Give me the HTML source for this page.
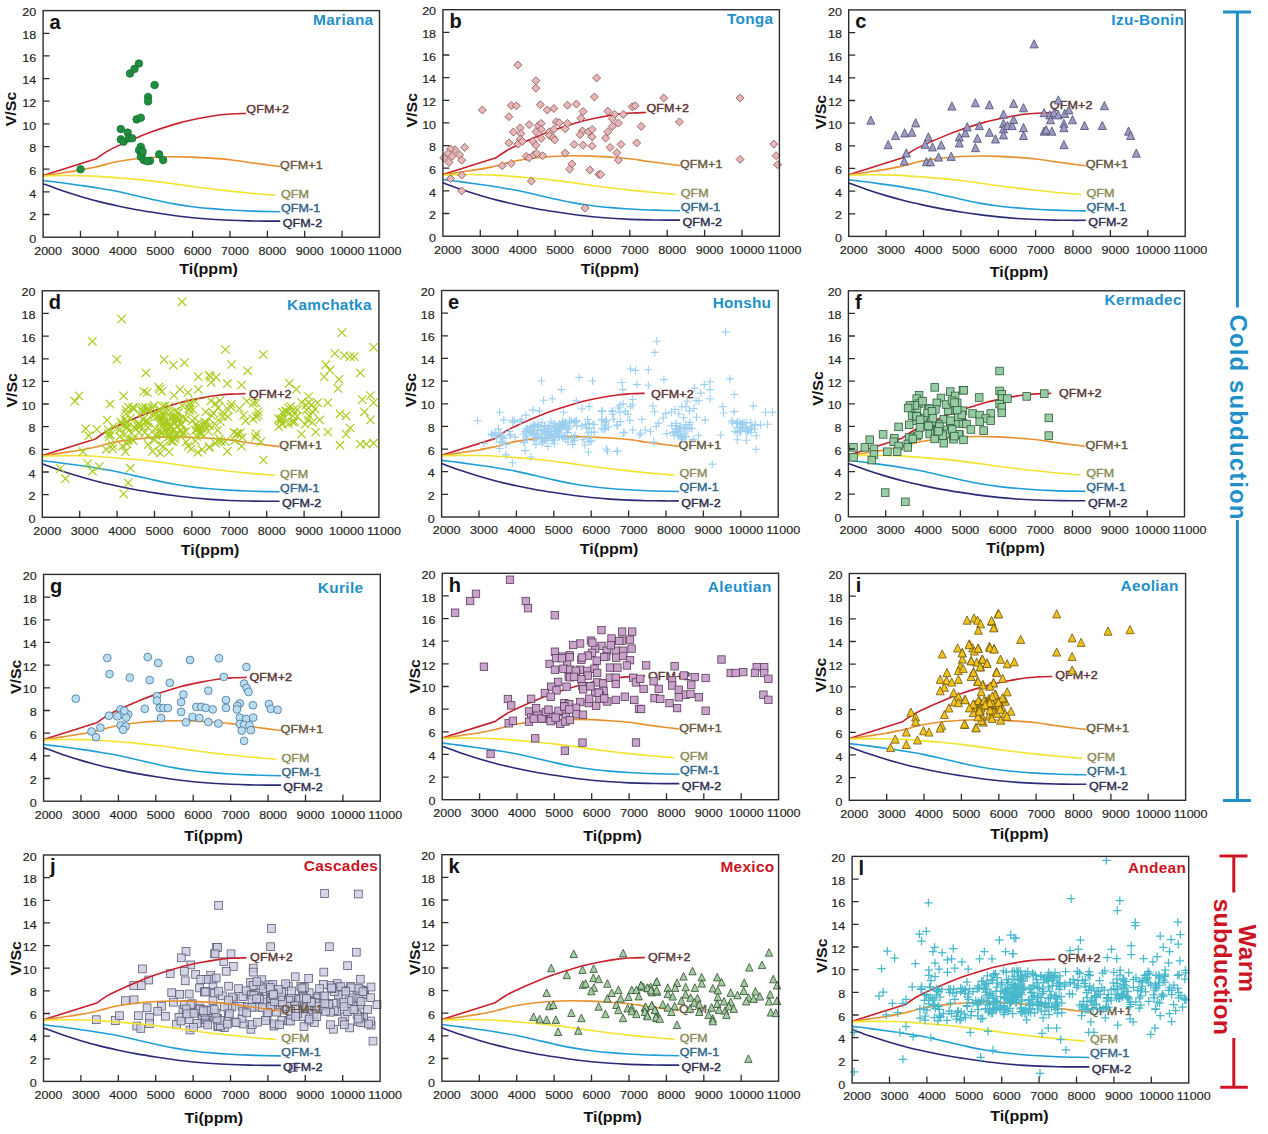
<!DOCTYPE html><html><head><meta charset="utf-8"><style>html,body{margin:0;padding:0;background:#fff;}svg{display:block}</style></head><body>
<svg width="1268" height="1134" viewBox="0 0 1268 1134" font-family='"Liberation Sans", sans-serif'>
<rect width="1268" height="1134" fill="#fff"/>
<path d="M43.10,175.45L96.25,158.80C97.98,157.61 103.04,153.81 106.64,151.66C110.24,149.51 112.25,148.47 117.86,145.88C123.46,143.29 134.05,138.70 140.28,136.14C146.51,133.57 148.69,132.68 155.23,130.47C161.77,128.26 172.05,124.92 179.53,122.88C187.00,120.84 193.55,119.54 200.09,118.23C206.63,116.93 213.48,115.78 218.78,115.06C224.07,114.35 227.31,114.19 231.86,113.93C236.41,113.67 243.69,113.55 246.06,113.48" fill="none" stroke="#c8202c" stroke-width="1.6" stroke-linejoin="round"/>
<path d="M43.10,175.79C46.21,175.32 55.56,173.90 61.79,172.96C68.02,172.01 74.73,171.13 80.48,170.13C86.22,169.13 93.62,167.48 96.25,166.95C97.98,166.48 103.04,165.03 106.64,164.12C110.24,163.22 112.87,162.40 117.86,161.52C122.84,160.63 130.31,159.51 136.54,158.80C142.77,158.08 149.00,157.55 155.23,157.21C161.46,156.87 167.69,156.78 173.92,156.76C180.15,156.74 186.38,156.87 192.61,157.10C198.84,157.32 205.07,157.68 211.30,158.12C217.53,158.55 223.76,158.99 229.99,159.70C236.22,160.42 242.45,161.55 248.68,162.42C254.91,163.29 262.13,164.23 267.37,164.91C272.60,165.59 277.96,166.24 280.08,166.50" fill="none" stroke="#e8902c" stroke-width="1.6" stroke-linejoin="round"/>
<path d="M43.10,176.02C46.21,175.94 55.56,175.62 61.79,175.56C68.02,175.51 74.25,175.55 80.48,175.68C86.71,175.81 92.94,176.00 99.17,176.36C105.40,176.72 111.63,177.32 117.86,177.83C124.09,178.34 130.31,178.83 136.54,179.42C142.77,180.00 149.00,180.61 155.23,181.34C161.46,182.08 167.69,182.97 173.92,183.84C180.15,184.70 186.38,185.71 192.61,186.55C198.84,187.40 205.07,188.18 211.30,188.93C217.53,189.69 223.76,190.41 229.99,191.09C236.22,191.77 242.45,192.43 248.68,193.01C254.91,193.60 262.88,194.22 267.37,194.60C271.85,194.98 274.22,195.17 275.59,195.28" fill="none" stroke="#f2e430" stroke-width="1.6" stroke-linejoin="round"/>
<path d="M43.10,180.55C46.21,180.93 55.56,182.00 61.79,182.82C68.02,183.63 74.25,184.52 80.48,185.42C86.71,186.33 92.94,187.23 99.17,188.25C105.40,189.27 111.63,190.29 117.86,191.54C124.09,192.79 130.31,194.32 136.54,195.73C142.77,197.15 149.00,198.68 155.23,200.04C161.46,201.40 167.69,202.78 173.92,203.89C180.15,205.00 186.38,205.93 192.61,206.72C198.84,207.52 205.07,208.10 211.30,208.65C217.53,209.20 223.76,209.63 229.99,210.01C236.22,210.39 242.45,210.67 248.68,210.91C254.91,211.16 262.10,211.35 267.37,211.48C272.63,211.61 278.11,211.67 280.26,211.71" fill="none" stroke="#1e9ed8" stroke-width="1.6" stroke-linejoin="round"/>
<path d="M43.10,183.72C46.21,184.86 55.56,188.41 61.79,190.52C68.02,192.64 74.25,194.56 80.48,196.41C86.71,198.26 92.94,200.04 99.17,201.62C105.40,203.21 111.63,204.59 117.86,205.93C124.09,207.27 130.31,208.54 136.54,209.67C142.77,210.80 149.00,211.76 155.23,212.73C161.46,213.69 167.69,214.62 173.92,215.45C180.15,216.28 186.38,217.07 192.61,217.71C198.84,218.35 205.07,218.86 211.30,219.30C217.53,219.73 223.76,220.05 229.99,220.32C236.22,220.58 242.45,220.75 248.68,220.88C254.91,221.02 262.10,221.07 267.37,221.11C272.63,221.15 278.11,221.11 280.26,221.11" fill="none" stroke="#2a2a78" stroke-width="1.6" stroke-linejoin="round"/>
<text transform="translate(246.3,113.0) scale(1.1,1)" font-size="11.4" letter-spacing="0.1" fill="#5a3434" stroke="#5a3434" stroke-width="0.4">QFM+2</text>
<text transform="translate(280.1,169.0) scale(1.1,1)" font-size="11.4" letter-spacing="0.1" fill="#66563c" stroke="#66563c" stroke-width="0.4">QFM+1</text>
<text transform="translate(280.9,197.6) scale(1.1,1)" font-size="11.4" letter-spacing="0.1" fill="#8c8a56" stroke="#8c8a56" stroke-width="0.4">QFM</text>
<text transform="translate(280.9,211.6) scale(1.1,1)" font-size="11.4" letter-spacing="0.1" fill="#2e6488" stroke="#2e6488" stroke-width="0.4">QFM-1</text>
<text transform="translate(282.7,227.2) scale(1.1,1)" font-size="11.4" letter-spacing="0.1" fill="#2c2c4c" stroke="#2c2c4c" stroke-width="0.4">QFM-2</text>
<g fill="#1f8f3f" stroke="#126a2c" stroke-width="0.7"><circle cx="80.6" cy="169.3" r="3.8"/><circle cx="130.0" cy="73.5" r="3.8"/><circle cx="134.5" cy="68.9" r="3.8"/><circle cx="138.9" cy="63.5" r="3.8"/><circle cx="154.6" cy="85.0" r="3.8"/><circle cx="148.1" cy="97.0" r="3.8"/><circle cx="148.1" cy="101.4" r="3.8"/><circle cx="136.6" cy="119.4" r="3.8"/><circle cx="140.8" cy="117.7" r="3.8"/><circle cx="120.8" cy="129.1" r="3.8"/><circle cx="127.7" cy="132.6" r="3.8"/><circle cx="120.8" cy="139.4" r="3.8"/><circle cx="123.6" cy="141.7" r="3.8"/><circle cx="128.8" cy="138.3" r="3.8"/><circle cx="132.2" cy="138.3" r="3.8"/><circle cx="140.8" cy="146.9" r="3.8"/><circle cx="139.1" cy="150.3" r="3.8"/><circle cx="142.0" cy="153.2" r="3.8"/><circle cx="140.8" cy="156.7" r="3.8"/><circle cx="143.7" cy="160.1" r="3.8"/><circle cx="150.0" cy="160.7" r="3.8"/><circle cx="159.2" cy="154.4" r="3.8"/><circle cx="163.2" cy="160.1" r="3.8"/><circle cx="147.2" cy="161.2" r="3.8"/><circle cx="142.6" cy="151.5" r="3.8"/></g>
<rect x="43.1" y="10.6" width="336.4" height="226.6" fill="none" stroke="#2c2c2c" stroke-width="1.4"/>
<path d="M43.1,214.5h6.5 M43.1,191.9h6.5 M43.1,169.2h6.5 M43.1,146.6h6.5 M43.1,123.9h6.5 M43.1,101.2h6.5 M43.1,78.6h6.5 M43.1,55.9h6.5 M43.1,33.3h6.5 M80.5,237.2v-6.5 M117.9,237.2v-6.5 M155.2,237.2v-6.5 M192.6,237.2v-6.5 M230.0,237.2v-6.5 M267.4,237.2v-6.5 M304.7,237.2v-6.5 M342.1,237.2v-6.5" stroke="#2c2c2c" stroke-width="1.3"/>
<text transform="translate(36.3,242.8) scale(1.1,1)" font-size="11.4" fill="#222" stroke="#222" stroke-width="0.15" text-anchor="end">0</text>
<text transform="translate(36.3,220.1) scale(1.1,1)" font-size="11.4" fill="#222" stroke="#222" stroke-width="0.15" text-anchor="end">2</text>
<text transform="translate(36.3,197.5) scale(1.1,1)" font-size="11.4" fill="#222" stroke="#222" stroke-width="0.15" text-anchor="end">4</text>
<text transform="translate(36.3,174.8) scale(1.1,1)" font-size="11.4" fill="#222" stroke="#222" stroke-width="0.15" text-anchor="end">6</text>
<text transform="translate(36.3,152.2) scale(1.1,1)" font-size="11.4" fill="#222" stroke="#222" stroke-width="0.15" text-anchor="end">8</text>
<text transform="translate(36.3,129.5) scale(1.1,1)" font-size="11.4" fill="#222" stroke="#222" stroke-width="0.15" text-anchor="end">10</text>
<text transform="translate(36.3,106.8) scale(1.1,1)" font-size="11.4" fill="#222" stroke="#222" stroke-width="0.15" text-anchor="end">12</text>
<text transform="translate(36.3,84.2) scale(1.1,1)" font-size="11.4" fill="#222" stroke="#222" stroke-width="0.15" text-anchor="end">14</text>
<text transform="translate(36.3,61.5) scale(1.1,1)" font-size="11.4" fill="#222" stroke="#222" stroke-width="0.15" text-anchor="end">16</text>
<text transform="translate(36.3,38.9) scale(1.1,1)" font-size="11.4" fill="#222" stroke="#222" stroke-width="0.15" text-anchor="end">18</text>
<text transform="translate(36.3,16.2) scale(1.1,1)" font-size="11.4" fill="#222" stroke="#222" stroke-width="0.15" text-anchor="end">20</text>
<text transform="translate(48.1,254.6) scale(1.1,1)" font-size="11.4" fill="#222" stroke="#222" stroke-width="0.15" text-anchor="middle">2000</text>
<text transform="translate(85.5,254.6) scale(1.1,1)" font-size="11.4" fill="#222" stroke="#222" stroke-width="0.15" text-anchor="middle">3000</text>
<text transform="translate(122.9,254.6) scale(1.1,1)" font-size="11.4" fill="#222" stroke="#222" stroke-width="0.15" text-anchor="middle">4000</text>
<text transform="translate(160.2,254.6) scale(1.1,1)" font-size="11.4" fill="#222" stroke="#222" stroke-width="0.15" text-anchor="middle">5000</text>
<text transform="translate(197.6,254.6) scale(1.1,1)" font-size="11.4" fill="#222" stroke="#222" stroke-width="0.15" text-anchor="middle">6000</text>
<text transform="translate(235.0,254.6) scale(1.1,1)" font-size="11.4" fill="#222" stroke="#222" stroke-width="0.15" text-anchor="middle">7000</text>
<text transform="translate(272.4,254.6) scale(1.1,1)" font-size="11.4" fill="#222" stroke="#222" stroke-width="0.15" text-anchor="middle">8000</text>
<text transform="translate(309.7,254.6) scale(1.1,1)" font-size="11.4" fill="#222" stroke="#222" stroke-width="0.15" text-anchor="middle">9000</text>
<text transform="translate(347.1,254.6) scale(1.1,1)" font-size="11.4" fill="#222" stroke="#222" stroke-width="0.15" text-anchor="middle">10000</text>
<text transform="translate(384.5,254.6) scale(1.1,1)" font-size="11.4" fill="#222" stroke="#222" stroke-width="0.15" text-anchor="middle">11000</text>
<text x="49.6" y="28.8" font-size="20" font-weight="bold" fill="#111">a</text>
<text transform="translate(313.1,24.7) scale(1.1,1)" font-size="14" font-weight="bold" textLength="54.64" lengthAdjust="spacing" fill="#1f8fca">Mariana</text>
<text transform="translate(16.1,109.0) rotate(-90) scale(1.12,1)" font-size="14.2" font-weight="bold" fill="#111" text-anchor="middle">V/Sc</text>
<text transform="translate(208.5,274.0) scale(1.13,1)" font-size="14.2" font-weight="bold" fill="#111" text-anchor="middle">Ti(ppm)</text>
<path d="M442.90,174.48L496.07,157.83C497.80,156.64 502.86,152.85 506.46,150.70C510.06,148.54 512.07,147.51 517.68,144.92C523.29,142.33 533.88,137.75 540.11,135.18C546.34,132.61 548.52,131.73 555.07,129.52C561.61,127.31 571.89,123.97 579.37,121.93C586.85,119.89 593.39,118.59 599.93,117.29C606.48,115.99 613.33,114.83 618.63,114.12C623.92,113.40 627.16,113.25 631.71,112.98C636.26,112.72 643.55,112.61 645.92,112.53" fill="none" stroke="#c8202c" stroke-width="1.6" stroke-linejoin="round"/>
<path d="M442.90,174.82C446.02,174.35 455.36,172.93 461.59,171.99C467.83,171.04 474.54,170.16 480.29,169.16C486.03,168.16 493.44,166.51 496.07,165.98C497.80,165.51 502.86,164.06 506.46,163.15C510.06,162.25 512.69,161.44 517.68,160.55C522.66,159.66 530.14,158.55 536.37,157.83C542.60,157.11 548.84,156.59 555.07,156.25C561.30,155.91 567.53,155.81 573.76,155.79C579.99,155.77 586.22,155.91 592.46,156.13C598.69,156.36 604.92,156.72 611.15,157.15C617.38,157.59 623.61,158.02 629.84,158.74C636.08,159.45 642.31,160.59 648.54,161.45C654.77,162.32 662.00,163.27 667.23,163.95C672.47,164.63 677.83,165.27 679.95,165.53" fill="none" stroke="#e8902c" stroke-width="1.6" stroke-linejoin="round"/>
<path d="M442.90,175.04C446.02,174.97 455.36,174.65 461.59,174.59C467.83,174.54 474.06,174.57 480.29,174.71C486.52,174.84 492.75,175.03 498.98,175.38C505.21,175.74 511.45,176.35 517.68,176.86C523.91,177.37 530.14,177.86 536.37,178.44C542.60,179.03 548.84,179.63 555.07,180.37C561.30,181.10 567.53,181.99 573.76,182.86C579.99,183.73 586.22,184.73 592.46,185.58C598.69,186.43 604.92,187.20 611.15,187.96C617.38,188.71 623.61,189.43 629.84,190.11C636.08,190.79 642.31,191.45 648.54,192.03C654.77,192.62 662.75,193.24 667.23,193.62C671.72,194.00 674.09,194.18 675.46,194.30" fill="none" stroke="#f2e430" stroke-width="1.6" stroke-linejoin="round"/>
<path d="M442.90,179.57C446.02,179.95 455.36,181.03 461.59,181.84C467.83,182.65 474.06,183.54 480.29,184.44C486.52,185.35 492.75,186.26 498.98,187.28C505.21,188.30 511.45,189.31 517.68,190.56C523.91,191.81 530.14,193.33 536.37,194.75C542.60,196.17 548.84,197.69 555.07,199.05C561.30,200.41 567.53,201.79 573.76,202.90C579.99,204.02 586.22,204.94 592.46,205.74C598.69,206.53 604.92,207.11 611.15,207.66C617.38,208.21 623.61,208.64 629.84,209.02C636.08,209.40 642.31,209.68 648.54,209.93C654.77,210.17 661.97,210.36 667.23,210.49C672.50,210.62 677.98,210.68 680.13,210.72" fill="none" stroke="#1e9ed8" stroke-width="1.6" stroke-linejoin="round"/>
<path d="M442.90,182.75C446.02,183.88 455.36,187.43 461.59,189.54C467.83,191.66 474.06,193.58 480.29,195.43C486.52,197.28 492.75,199.05 498.98,200.64C505.21,202.22 511.45,203.60 517.68,204.94C523.91,206.28 530.14,207.55 536.37,208.68C542.60,209.81 548.84,210.78 555.07,211.74C561.30,212.70 567.53,213.63 573.76,214.46C579.99,215.29 586.22,216.08 592.46,216.72C598.69,217.36 604.92,217.87 611.15,218.31C617.38,218.74 623.61,219.06 629.84,219.33C636.08,219.59 642.31,219.76 648.54,219.89C654.77,220.02 661.97,220.08 667.23,220.12C672.50,220.16 677.98,220.12 680.13,220.12" fill="none" stroke="#2a2a78" stroke-width="1.6" stroke-linejoin="round"/>
<text transform="translate(646.5,111.8) scale(1.1,1)" font-size="11.4" letter-spacing="0.1" fill="#5a3434" stroke="#5a3434" stroke-width="0.4">QFM+2</text>
<text transform="translate(679.9,168.0) scale(1.1,1)" font-size="11.4" letter-spacing="0.1" fill="#66563c" stroke="#66563c" stroke-width="0.4">QFM+1</text>
<text transform="translate(680.7,196.6) scale(1.1,1)" font-size="11.4" letter-spacing="0.1" fill="#8c8a56" stroke="#8c8a56" stroke-width="0.4">QFM</text>
<text transform="translate(680.7,210.6) scale(1.1,1)" font-size="11.4" letter-spacing="0.1" fill="#2e6488" stroke="#2e6488" stroke-width="0.4">QFM-1</text>
<text transform="translate(682.5,226.2) scale(1.1,1)" font-size="11.4" letter-spacing="0.1" fill="#2c2c4c" stroke="#2c2c4c" stroke-width="0.4">QFM-2</text>
<g fill="#e8b6b6" stroke="#7a4848" stroke-width="0.75"><path d="M517.9,61.0L521.9,65.0L517.9,69.0L513.9,65.0Z"/><path d="M535.9,76.7L539.9,80.7L535.9,84.7L531.9,80.7Z"/><path d="M535.9,84.2L539.9,88.2L535.9,92.2L531.9,88.2Z"/><path d="M596.6,74.0L600.6,78.0L596.6,82.0L592.6,78.0Z"/><path d="M594.4,92.9L598.4,96.9L594.4,100.9L590.4,96.9Z"/><path d="M482.4,106.0L486.4,110.0L482.4,114.0L478.4,110.0Z"/><path d="M511.2,101.5L515.2,105.5L511.2,109.5L507.2,105.5Z"/><path d="M516.4,101.8L520.4,105.8L516.4,109.8L512.4,105.8Z"/><path d="M508.9,112.7L512.9,116.7L508.9,120.7L504.9,116.7Z"/><path d="M540.4,100.7L544.4,104.7L540.4,108.7L536.4,104.7Z"/><path d="M547.2,106.0L551.2,110.0L547.2,114.0L543.2,110.0Z"/><path d="M553.9,104.5L557.9,108.5L553.9,112.5L549.9,108.5Z"/><path d="M567.4,101.2L571.4,105.2L567.4,109.2L563.4,105.2Z"/><path d="M576.4,100.0L580.4,104.0L576.4,108.0L572.4,104.0Z"/><path d="M583.1,107.5L587.1,111.5L583.1,115.5L579.1,111.5Z"/><path d="M580.9,114.2L584.9,118.2L580.9,122.2L576.9,118.2Z"/><path d="M607.9,107.2L611.9,111.2L607.9,115.2L603.9,111.2Z"/><path d="M614.6,110.4L618.6,114.4L614.6,118.4L610.6,114.4Z"/><path d="M623.2,110.4L627.2,114.4L623.2,118.4L619.2,114.4Z"/><path d="M612.4,114.9L616.4,118.9L612.4,122.9L608.4,118.9Z"/><path d="M618.4,119.1L622.4,123.1L618.4,127.1L614.4,123.1Z"/><path d="M612.4,122.4L616.4,126.4L612.4,130.4L608.4,126.4Z"/><path d="M607.9,127.7L611.9,131.7L607.9,135.7L603.9,131.7Z"/><path d="M605.6,134.1L609.6,138.1L605.6,142.1L601.6,138.1Z"/><path d="M610.1,143.4L614.1,147.4L610.1,151.4L606.1,147.4Z"/><path d="M616.9,148.7L620.9,152.7L616.9,156.7L612.9,152.7Z"/><path d="M618.4,156.2L622.4,160.2L618.4,164.2L614.4,160.2Z"/><path d="M529.2,120.6L533.2,124.6L529.2,128.6L525.2,124.6Z"/><path d="M538.2,121.7L542.2,125.7L538.2,129.7L534.2,125.7Z"/><path d="M541.2,119.4L545.2,123.4L541.2,127.4L537.2,123.4Z"/><path d="M541.2,125.4L545.2,129.4L541.2,133.4L537.2,129.4Z"/><path d="M535.9,127.7L539.9,131.7L535.9,135.7L531.9,131.7Z"/><path d="M520.2,123.9L524.2,127.9L520.2,131.9L516.2,127.9Z"/><path d="M513.4,128.1L517.4,132.1L513.4,136.1L509.4,132.1Z"/><path d="M520.9,129.6L524.9,133.6L520.9,137.6L516.9,133.6Z"/><path d="M520.2,135.2L524.2,139.2L520.2,143.2L516.2,139.2Z"/><path d="M508.9,138.9L512.9,142.9L508.9,146.9L504.9,142.9Z"/><path d="M517.9,140.1L521.9,144.1L517.9,148.1L513.9,144.1Z"/><path d="M522.4,137.4L526.4,141.4L522.4,145.4L518.4,141.4Z"/><path d="M532.9,137.4L536.9,141.4L532.9,145.4L528.9,141.4Z"/><path d="M535.9,141.2L539.9,145.2L535.9,149.2L531.9,145.2Z"/><path d="M541.2,134.4L545.2,138.4L541.2,142.4L537.2,138.4Z"/><path d="M549.4,127.7L553.4,131.7L549.4,135.7L545.4,131.7Z"/><path d="M549.4,131.4L553.4,135.4L549.4,139.4L545.4,135.4Z"/><path d="M553.9,125.4L557.9,129.4L553.9,133.4L549.9,129.4Z"/><path d="M553.2,133.7L557.2,137.7L553.2,141.7L549.2,137.7Z"/><path d="M554.7,135.9L558.7,139.9L554.7,143.9L550.7,139.9Z"/><path d="M556.2,117.9L560.2,121.9L556.2,125.9L552.2,121.9Z"/><path d="M559.2,118.7L563.2,122.7L559.2,126.7L555.2,122.7Z"/><path d="M565.2,124.7L569.2,128.7L565.2,132.7L561.2,128.7Z"/><path d="M567.4,119.4L571.4,123.4L567.4,127.4L563.4,123.4Z"/><path d="M574.1,140.4L578.1,144.4L574.1,148.4L570.1,144.4Z"/><path d="M583.1,141.2L587.1,145.2L583.1,149.2L579.1,145.2Z"/><path d="M582.4,126.9L586.4,130.9L582.4,134.9L578.4,130.9Z"/><path d="M580.1,130.7L584.1,134.7L580.1,138.7L576.1,134.7Z"/><path d="M588.4,127.7L592.4,131.7L588.4,135.7L584.4,131.7Z"/><path d="M592.1,125.4L596.1,129.4L592.1,133.4L588.1,129.4Z"/><path d="M592.1,132.9L596.1,136.9L592.1,140.9L588.1,136.9Z"/><path d="M592.1,141.9L596.1,145.9L592.1,149.9L588.1,145.9Z"/><path d="M565.2,149.1L569.2,153.1L565.2,157.1L561.2,153.1Z"/><path d="M571.9,159.9L575.9,163.9L571.9,167.9L567.9,163.9Z"/><path d="M569.6,165.2L573.6,169.2L569.6,173.2L565.6,169.2Z"/><path d="M589.9,165.9L593.9,169.9L589.9,173.9L585.9,169.9Z"/><path d="M598.9,170.4L602.9,174.4L598.9,178.4L594.9,174.4Z"/><path d="M526.2,152.4L530.2,156.4L526.2,160.4L522.2,156.4Z"/><path d="M529.2,153.9L533.2,157.9L529.2,161.9L525.2,157.9Z"/><path d="M533.7,150.9L537.7,154.9L533.7,158.9L529.7,154.9Z"/><path d="M536.7,149.4L540.7,153.4L536.7,157.4L532.7,153.4Z"/><path d="M542.7,151.7L546.7,155.7L542.7,159.7L538.7,155.7Z"/><path d="M502.2,161.7L506.2,165.7L502.2,169.7L498.2,165.7Z"/><path d="M511.2,159.5L515.2,163.5L511.2,167.5L507.2,163.5Z"/><path d="M531.4,177.1L535.4,181.1L531.4,185.1L527.4,181.1Z"/><path d="M585.1,204.1L589.1,208.1L585.1,212.1L581.1,208.1Z"/><path d="M464.7,143.4L468.7,147.4L464.7,151.4L460.7,147.4Z"/><path d="M455.0,145.7L459.0,149.7L455.0,153.7L451.0,149.7Z"/><path d="M450.5,144.9L454.5,148.9L450.5,152.9L446.5,148.9Z"/><path d="M448.2,149.4L452.2,153.4L448.2,157.4L444.2,153.4Z"/><path d="M443.7,153.9L447.7,157.9L443.7,161.9L439.7,157.9Z"/><path d="M449.0,158.4L453.0,162.4L449.0,166.4L445.0,162.4Z"/><path d="M452.0,152.4L456.0,156.4L452.0,160.4L448.0,156.4Z"/><path d="M459.5,150.9L463.5,154.9L459.5,158.9L455.5,154.9Z"/><path d="M461.7,156.2L465.7,160.2L461.7,164.2L457.7,160.2Z"/><path d="M461.7,171.1L465.7,175.1L461.7,179.1L457.7,175.1Z"/><path d="M450.5,174.6L454.5,178.6L450.5,182.6L446.5,178.6Z"/><path d="M461.7,186.9L465.7,190.9L461.7,194.9L457.7,190.9Z"/><path d="M663.7,94.0L667.7,98.0L663.7,102.0L659.7,98.0Z"/><path d="M632.2,102.7L636.2,106.7L632.2,110.7L628.2,106.7Z"/><path d="M635.2,101.8L639.2,105.8L635.2,109.8L631.2,105.8Z"/><path d="M641.2,122.4L645.2,126.4L641.2,130.4L637.2,126.4Z"/><path d="M679.4,117.9L683.4,121.9L679.4,125.9L675.4,121.9Z"/><path d="M621.0,140.4L625.0,144.4L621.0,148.4L617.0,144.4Z"/><path d="M636.7,138.9L640.7,142.9L636.7,146.9L632.7,142.9Z"/><path d="M740.1,94.0L744.1,98.0L740.1,102.0L736.1,98.0Z"/><path d="M740.1,155.4L744.1,159.4L740.1,163.4L736.1,159.4Z"/><path d="M773.9,140.1L777.9,144.1L773.9,148.1L769.9,144.1Z"/><path d="M776.1,151.7L780.1,155.7L776.1,159.7L772.1,155.7Z"/><path d="M777.6,160.7L781.6,164.7L777.6,168.7L773.6,164.7Z"/><path d="M600.7,170.4L604.7,174.4L600.7,178.4L596.7,174.4Z"/></g>
<rect x="442.9" y="9.7" width="336.5" height="226.5" fill="none" stroke="#2c2c2c" stroke-width="1.4"/>
<path d="M442.9,213.5h6.5 M442.9,190.9h6.5 M442.9,168.2h6.5 M442.9,145.6h6.5 M442.9,122.9h6.5 M442.9,100.3h6.5 M442.9,77.6h6.5 M442.9,55.0h6.5 M442.9,32.3h6.5 M480.3,236.2v-6.5 M517.7,236.2v-6.5 M555.1,236.2v-6.5 M592.5,236.2v-6.5 M629.8,236.2v-6.5 M667.2,236.2v-6.5 M704.6,236.2v-6.5 M742.0,236.2v-6.5" stroke="#2c2c2c" stroke-width="1.3"/>
<text transform="translate(436.1,241.8) scale(1.1,1)" font-size="11.4" fill="#222" stroke="#222" stroke-width="0.15" text-anchor="end">0</text>
<text transform="translate(436.1,219.1) scale(1.1,1)" font-size="11.4" fill="#222" stroke="#222" stroke-width="0.15" text-anchor="end">2</text>
<text transform="translate(436.1,196.5) scale(1.1,1)" font-size="11.4" fill="#222" stroke="#222" stroke-width="0.15" text-anchor="end">4</text>
<text transform="translate(436.1,173.8) scale(1.1,1)" font-size="11.4" fill="#222" stroke="#222" stroke-width="0.15" text-anchor="end">6</text>
<text transform="translate(436.1,151.2) scale(1.1,1)" font-size="11.4" fill="#222" stroke="#222" stroke-width="0.15" text-anchor="end">8</text>
<text transform="translate(436.1,128.5) scale(1.1,1)" font-size="11.4" fill="#222" stroke="#222" stroke-width="0.15" text-anchor="end">10</text>
<text transform="translate(436.1,105.9) scale(1.1,1)" font-size="11.4" fill="#222" stroke="#222" stroke-width="0.15" text-anchor="end">12</text>
<text transform="translate(436.1,83.2) scale(1.1,1)" font-size="11.4" fill="#222" stroke="#222" stroke-width="0.15" text-anchor="end">14</text>
<text transform="translate(436.1,60.6) scale(1.1,1)" font-size="11.4" fill="#222" stroke="#222" stroke-width="0.15" text-anchor="end">16</text>
<text transform="translate(436.1,37.9) scale(1.1,1)" font-size="11.4" fill="#222" stroke="#222" stroke-width="0.15" text-anchor="end">18</text>
<text transform="translate(436.1,15.3) scale(1.1,1)" font-size="11.4" fill="#222" stroke="#222" stroke-width="0.15" text-anchor="end">20</text>
<text transform="translate(447.9,253.6) scale(1.1,1)" font-size="11.4" fill="#222" stroke="#222" stroke-width="0.15" text-anchor="middle">2000</text>
<text transform="translate(485.3,253.6) scale(1.1,1)" font-size="11.4" fill="#222" stroke="#222" stroke-width="0.15" text-anchor="middle">3000</text>
<text transform="translate(522.7,253.6) scale(1.1,1)" font-size="11.4" fill="#222" stroke="#222" stroke-width="0.15" text-anchor="middle">4000</text>
<text transform="translate(560.1,253.6) scale(1.1,1)" font-size="11.4" fill="#222" stroke="#222" stroke-width="0.15" text-anchor="middle">5000</text>
<text transform="translate(597.5,253.6) scale(1.1,1)" font-size="11.4" fill="#222" stroke="#222" stroke-width="0.15" text-anchor="middle">6000</text>
<text transform="translate(634.8,253.6) scale(1.1,1)" font-size="11.4" fill="#222" stroke="#222" stroke-width="0.15" text-anchor="middle">7000</text>
<text transform="translate(672.2,253.6) scale(1.1,1)" font-size="11.4" fill="#222" stroke="#222" stroke-width="0.15" text-anchor="middle">8000</text>
<text transform="translate(709.6,253.6) scale(1.1,1)" font-size="11.4" fill="#222" stroke="#222" stroke-width="0.15" text-anchor="middle">9000</text>
<text transform="translate(747.0,253.6) scale(1.1,1)" font-size="11.4" fill="#222" stroke="#222" stroke-width="0.15" text-anchor="middle">10000</text>
<text transform="translate(784.4,253.6) scale(1.1,1)" font-size="11.4" fill="#222" stroke="#222" stroke-width="0.15" text-anchor="middle">11000</text>
<text x="449.4" y="27.9" font-size="20" font-weight="bold" fill="#111">b</text>
<text transform="translate(726.9,23.8) scale(1.1,1)" font-size="14" font-weight="bold" textLength="42.00" lengthAdjust="spacing" fill="#1f8fca">Tonga</text>
<text transform="translate(416.9,110.2) rotate(-90) scale(1.12,1)" font-size="14.2" font-weight="bold" fill="#111" text-anchor="middle">V/Sc</text>
<text transform="translate(609.9,274.3) scale(1.13,1)" font-size="14.2" font-weight="bold" fill="#111" text-anchor="middle">Ti(ppm)</text>
<path d="M848.70,174.68L901.87,158.03C903.60,156.84 908.66,153.05 912.26,150.90C915.86,148.74 917.87,147.71 923.48,145.12C929.09,142.53 939.68,137.95 945.91,135.38C952.14,132.81 954.32,131.93 960.87,129.72C967.41,127.51 977.69,124.17 985.17,122.13C992.65,120.09 999.19,118.79 1005.73,117.49C1012.28,116.19 1019.13,115.03 1024.43,114.32C1029.72,113.60 1032.96,113.45 1037.51,113.18C1042.06,112.92 1049.35,112.81 1051.72,112.73" fill="none" stroke="#c8202c" stroke-width="1.6" stroke-linejoin="round"/>
<path d="M848.70,175.02C851.82,174.55 861.16,173.13 867.39,172.19C873.63,171.24 880.34,170.36 886.09,169.36C891.83,168.36 899.24,166.71 901.87,166.19C903.60,165.71 908.66,164.26 912.26,163.35C915.86,162.45 918.49,161.64 923.48,160.75C928.46,159.86 935.94,158.75 942.17,158.03C948.40,157.31 954.64,156.79 960.87,156.45C967.10,156.11 973.33,156.01 979.56,155.99C985.79,155.97 992.02,156.11 998.26,156.33C1004.49,156.56 1010.72,156.92 1016.95,157.35C1023.18,157.79 1029.41,158.22 1035.64,158.94C1041.88,159.65 1048.11,160.79 1054.34,161.66C1060.57,162.52 1067.80,163.47 1073.03,164.15C1078.27,164.83 1083.63,165.47 1085.75,165.73" fill="none" stroke="#e8902c" stroke-width="1.6" stroke-linejoin="round"/>
<path d="M848.70,175.25C851.82,175.17 861.16,174.85 867.39,174.79C873.63,174.74 879.86,174.77 886.09,174.91C892.32,175.04 898.55,175.23 904.78,175.58C911.01,175.94 917.25,176.55 923.48,177.06C929.71,177.57 935.94,178.06 942.17,178.64C948.40,179.23 954.64,179.83 960.87,180.57C967.10,181.30 973.33,182.19 979.56,183.06C985.79,183.93 992.02,184.93 998.26,185.78C1004.49,186.63 1010.72,187.40 1016.95,188.16C1023.18,188.91 1029.41,189.63 1035.64,190.31C1041.88,190.99 1048.11,191.65 1054.34,192.23C1060.57,192.82 1068.55,193.44 1073.03,193.82C1077.52,194.20 1079.89,194.38 1081.26,194.50" fill="none" stroke="#f2e430" stroke-width="1.6" stroke-linejoin="round"/>
<path d="M848.70,179.78C851.82,180.15 861.16,181.23 867.39,182.04C873.63,182.85 879.86,183.74 886.09,184.64C892.32,185.55 898.55,186.46 904.78,187.48C911.01,188.50 917.25,189.51 923.48,190.76C929.71,192.01 935.94,193.53 942.17,194.95C948.40,196.37 954.64,197.90 960.87,199.25C967.10,200.61 973.33,201.99 979.56,203.10C985.79,204.22 992.02,205.14 998.26,205.94C1004.49,206.73 1010.72,207.31 1016.95,207.86C1023.18,208.41 1029.41,208.84 1035.64,209.22C1041.88,209.60 1048.11,209.88 1054.34,210.13C1060.57,210.37 1067.77,210.56 1073.03,210.69C1078.30,210.82 1083.78,210.88 1085.93,210.92" fill="none" stroke="#1e9ed8" stroke-width="1.6" stroke-linejoin="round"/>
<path d="M848.70,182.95C851.82,184.08 861.16,187.63 867.39,189.74C873.63,191.85 879.86,193.78 886.09,195.63C892.32,197.48 898.55,199.25 904.78,200.84C911.01,202.43 917.25,203.80 923.48,205.14C929.71,206.48 935.94,207.75 942.17,208.88C948.40,210.01 954.64,210.98 960.87,211.94C967.10,212.90 973.33,213.83 979.56,214.66C985.79,215.49 992.02,216.28 998.26,216.92C1004.49,217.56 1010.72,218.07 1016.95,218.51C1023.18,218.94 1029.41,219.26 1035.64,219.53C1041.88,219.79 1048.11,219.96 1054.34,220.09C1060.57,220.22 1067.77,220.28 1073.03,220.32C1078.30,220.36 1083.78,220.32 1085.93,220.32" fill="none" stroke="#2a2a78" stroke-width="1.6" stroke-linejoin="round"/>
<text transform="translate(1049.8,109.4) scale(1.1,1)" font-size="11.4" letter-spacing="0.1" fill="#5a3434" stroke="#5a3434" stroke-width="0.4">QFM+2</text>
<text transform="translate(1085.7,168.2) scale(1.1,1)" font-size="11.4" letter-spacing="0.1" fill="#66563c" stroke="#66563c" stroke-width="0.4">QFM+1</text>
<text transform="translate(1086.5,196.8) scale(1.1,1)" font-size="11.4" letter-spacing="0.1" fill="#8c8a56" stroke="#8c8a56" stroke-width="0.4">QFM</text>
<text transform="translate(1086.5,210.8) scale(1.1,1)" font-size="11.4" letter-spacing="0.1" fill="#2e6488" stroke="#2e6488" stroke-width="0.4">QFM-1</text>
<text transform="translate(1088.3,226.4) scale(1.1,1)" font-size="11.4" letter-spacing="0.1" fill="#2c2c4c" stroke="#2c2c4c" stroke-width="0.4">QFM-2</text>
<g fill="#9e9cc6" stroke="#4a4a70" stroke-width="0.8"><path d="M870.8,116.0L874.8,124.2L866.8,124.2Z"/><path d="M888.2,140.5L892.2,148.7L884.2,148.7Z"/><path d="M895.6,131.4L899.6,139.6L891.6,139.6Z"/><path d="M904.7,128.7L908.7,136.9L900.7,136.9Z"/><path d="M911.9,128.1L915.9,136.3L907.9,136.3Z"/><path d="M915.7,118.7L919.7,126.9L911.7,126.9Z"/><path d="M906.3,148.8L910.3,157.0L902.3,157.0Z"/><path d="M904.3,156.9L908.3,165.1L900.3,165.1Z"/><path d="M928.4,132.8L932.4,141.0L924.4,141.0Z"/><path d="M925.1,140.1L929.1,148.3L921.1,148.3Z"/><path d="M932.5,142.8L936.5,151.0L928.5,151.0Z"/><path d="M941.2,140.8L945.2,149.0L937.2,149.0Z"/><path d="M926.4,157.6L930.4,165.8L922.4,165.8Z"/><path d="M930.4,157.6L934.4,165.8L926.4,165.8Z"/><path d="M938.5,152.9L942.5,161.1L934.5,161.1Z"/><path d="M951.2,152.2L955.2,160.4L947.2,160.4Z"/><path d="M951.9,101.9L955.9,110.1L947.9,110.1Z"/><path d="M975.4,98.6L979.4,106.8L971.4,106.8Z"/><path d="M989.4,100.6L993.4,108.8L985.4,108.8Z"/><path d="M1013.6,99.2L1017.6,107.4L1009.6,107.4Z"/><path d="M959.3,132.8L963.3,141.0L955.3,141.0Z"/><path d="M959.3,138.8L963.3,147.0L955.3,147.0Z"/><path d="M965.3,128.7L969.3,136.9L961.3,136.9Z"/><path d="M967.3,122.7L971.3,130.9L963.3,130.9Z"/><path d="M979.4,121.4L983.4,129.6L975.4,129.6Z"/><path d="M977.4,134.1L981.4,142.3L973.4,142.3Z"/><path d="M975.4,143.5L979.4,151.7L971.4,151.7Z"/><path d="M989.4,128.1L993.4,136.3L985.4,136.3Z"/><path d="M995.5,134.8L999.5,143.0L991.5,143.0Z"/><path d="M1003.5,110.0L1007.5,118.2L999.5,118.2Z"/><path d="M1003.5,119.3L1007.5,127.5L999.5,127.5Z"/><path d="M1003.5,124.7L1007.5,132.9L999.5,132.9Z"/><path d="M1007.5,121.4L1011.5,129.6L1003.5,129.6Z"/><path d="M1012.2,121.4L1016.2,129.6L1008.2,129.6Z"/><path d="M1013.6,115.3L1017.6,123.5L1009.6,123.5Z"/><path d="M1003.5,130.7L1007.5,138.9L999.5,138.9Z"/><path d="M1034.1,39.7L1038.1,47.9L1030.1,47.9Z"/><path d="M1023.5,103.6L1027.5,111.8L1019.5,111.8Z"/><path d="M1058.3,95.8L1062.3,104.0L1054.3,104.0Z"/><path d="M1104.4,101.5L1108.4,109.7L1100.4,109.7Z"/><path d="M1044.1,108.5L1048.1,116.7L1040.1,116.7Z"/><path d="M1049.8,110.7L1053.8,118.9L1045.8,118.9Z"/><path d="M1054.0,108.5L1058.0,116.7L1050.0,116.7Z"/><path d="M1058.3,110.7L1062.3,118.9L1054.3,118.9Z"/><path d="M1064.7,109.3L1068.7,117.5L1060.7,117.5Z"/><path d="M1068.9,105.7L1072.9,113.9L1064.9,113.9Z"/><path d="M1050.5,115.6L1054.5,123.8L1046.5,123.8Z"/><path d="M1072.5,115.6L1076.5,123.8L1068.5,123.8Z"/><path d="M1063.9,119.2L1067.9,127.4L1059.9,127.4Z"/><path d="M1063.9,123.5L1067.9,131.7L1059.9,131.7Z"/><path d="M1084.5,121.3L1088.5,129.5L1080.5,129.5Z"/><path d="M1102.3,121.3L1106.3,129.5L1098.3,129.5Z"/><path d="M1023.5,123.5L1027.5,131.7L1019.5,131.7Z"/><path d="M1023.5,131.3L1027.5,139.5L1019.5,139.5Z"/><path d="M1044.1,127.0L1048.1,135.2L1040.1,135.2Z"/><path d="M1051.9,127.0L1055.9,135.2L1047.9,135.2Z"/><path d="M1046.2,125.6L1050.2,133.8L1042.2,133.8Z"/><path d="M1063.9,140.5L1067.9,148.7L1059.9,148.7Z"/><path d="M1128.5,127.0L1132.5,135.2L1124.5,135.2Z"/><path d="M1130.7,131.3L1134.7,139.5L1126.7,139.5Z"/><path d="M1136.3,149.0L1140.3,157.2L1132.3,157.2Z"/></g>
<rect x="848.7" y="9.9" width="336.5" height="226.5" fill="none" stroke="#2c2c2c" stroke-width="1.4"/>
<path d="M848.7,213.8h6.5 M848.7,191.1h6.5 M848.7,168.4h6.5 M848.7,145.8h6.5 M848.7,123.2h6.5 M848.7,100.5h6.5 M848.7,77.8h6.5 M848.7,55.2h6.5 M848.7,32.6h6.5 M886.1,236.4v-6.5 M923.5,236.4v-6.5 M960.9,236.4v-6.5 M998.3,236.4v-6.5 M1035.6,236.4v-6.5 M1073.0,236.4v-6.5 M1110.4,236.4v-6.5 M1147.8,236.4v-6.5" stroke="#2c2c2c" stroke-width="1.3"/>
<text transform="translate(841.9,242.0) scale(1.1,1)" font-size="11.4" fill="#222" stroke="#222" stroke-width="0.15" text-anchor="end">0</text>
<text transform="translate(841.9,219.3) scale(1.1,1)" font-size="11.4" fill="#222" stroke="#222" stroke-width="0.15" text-anchor="end">2</text>
<text transform="translate(841.9,196.7) scale(1.1,1)" font-size="11.4" fill="#222" stroke="#222" stroke-width="0.15" text-anchor="end">4</text>
<text transform="translate(841.9,174.0) scale(1.1,1)" font-size="11.4" fill="#222" stroke="#222" stroke-width="0.15" text-anchor="end">6</text>
<text transform="translate(841.9,151.4) scale(1.1,1)" font-size="11.4" fill="#222" stroke="#222" stroke-width="0.15" text-anchor="end">8</text>
<text transform="translate(841.9,128.8) scale(1.1,1)" font-size="11.4" fill="#222" stroke="#222" stroke-width="0.15" text-anchor="end">10</text>
<text transform="translate(841.9,106.1) scale(1.1,1)" font-size="11.4" fill="#222" stroke="#222" stroke-width="0.15" text-anchor="end">12</text>
<text transform="translate(841.9,83.4) scale(1.1,1)" font-size="11.4" fill="#222" stroke="#222" stroke-width="0.15" text-anchor="end">14</text>
<text transform="translate(841.9,60.8) scale(1.1,1)" font-size="11.4" fill="#222" stroke="#222" stroke-width="0.15" text-anchor="end">16</text>
<text transform="translate(841.9,38.2) scale(1.1,1)" font-size="11.4" fill="#222" stroke="#222" stroke-width="0.15" text-anchor="end">18</text>
<text transform="translate(841.9,15.5) scale(1.1,1)" font-size="11.4" fill="#222" stroke="#222" stroke-width="0.15" text-anchor="end">20</text>
<text transform="translate(853.7,253.8) scale(1.1,1)" font-size="11.4" fill="#222" stroke="#222" stroke-width="0.15" text-anchor="middle">2000</text>
<text transform="translate(891.1,253.8) scale(1.1,1)" font-size="11.4" fill="#222" stroke="#222" stroke-width="0.15" text-anchor="middle">3000</text>
<text transform="translate(928.5,253.8) scale(1.1,1)" font-size="11.4" fill="#222" stroke="#222" stroke-width="0.15" text-anchor="middle">4000</text>
<text transform="translate(965.9,253.8) scale(1.1,1)" font-size="11.4" fill="#222" stroke="#222" stroke-width="0.15" text-anchor="middle">5000</text>
<text transform="translate(1003.3,253.8) scale(1.1,1)" font-size="11.4" fill="#222" stroke="#222" stroke-width="0.15" text-anchor="middle">6000</text>
<text transform="translate(1040.6,253.8) scale(1.1,1)" font-size="11.4" fill="#222" stroke="#222" stroke-width="0.15" text-anchor="middle">7000</text>
<text transform="translate(1078.0,253.8) scale(1.1,1)" font-size="11.4" fill="#222" stroke="#222" stroke-width="0.15" text-anchor="middle">8000</text>
<text transform="translate(1115.4,253.8) scale(1.1,1)" font-size="11.4" fill="#222" stroke="#222" stroke-width="0.15" text-anchor="middle">9000</text>
<text transform="translate(1152.8,253.8) scale(1.1,1)" font-size="11.4" fill="#222" stroke="#222" stroke-width="0.15" text-anchor="middle">10000</text>
<text transform="translate(1190.2,253.8) scale(1.1,1)" font-size="11.4" fill="#222" stroke="#222" stroke-width="0.15" text-anchor="middle">11000</text>
<text x="855.2" y="28.1" font-size="20" font-weight="bold" fill="#111">c</text>
<text transform="translate(1111.3,24.9) scale(1.1,1)" font-size="14" font-weight="bold" textLength="66.09" lengthAdjust="spacing" fill="#1f8fca">Izu-Bonin</text>
<text transform="translate(826.2,112.1) rotate(-90) scale(1.12,1)" font-size="14.2" font-weight="bold" fill="#111" text-anchor="middle">V/Sc</text>
<text transform="translate(1019.1,276.7) scale(1.13,1)" font-size="14.2" font-weight="bold" fill="#111" text-anchor="middle">Ti(ppm)</text>
<path d="M42.30,455.58L95.48,438.93C97.22,437.74 102.28,433.95 105.88,431.80C109.48,429.64 111.49,428.61 117.10,426.02C122.71,423.43 133.31,418.85 139.54,416.28C145.77,413.71 147.95,412.83 154.50,410.62C161.05,408.41 171.33,405.07 178.81,403.03C186.29,400.99 192.84,399.69 199.38,398.39C205.92,397.09 212.78,395.93 218.08,395.22C223.38,394.50 226.62,394.35 231.17,394.08C235.72,393.82 243.01,393.71 245.38,393.63" fill="none" stroke="#c8202c" stroke-width="1.6" stroke-linejoin="round"/>
<path d="M42.30,455.92C45.42,455.45 54.77,454.03 61.00,453.09C67.23,452.14 73.95,451.26 79.70,450.26C85.45,449.26 92.85,447.61 95.48,447.08C97.22,446.61 102.28,445.16 105.88,444.25C109.48,443.35 112.11,442.54 117.10,441.65C122.09,440.76 129.57,439.65 135.80,438.93C142.03,438.21 148.27,437.69 154.50,437.35C160.73,437.01 166.97,436.91 173.20,436.89C179.43,436.87 185.67,437.01 191.90,437.23C198.13,437.46 204.37,437.82 210.60,438.25C216.83,438.69 223.07,439.12 229.30,439.84C235.53,440.55 241.77,441.69 248.00,442.55C254.23,443.42 261.46,444.37 266.70,445.05C271.94,445.73 277.30,446.37 279.42,446.63" fill="none" stroke="#e8902c" stroke-width="1.6" stroke-linejoin="round"/>
<path d="M42.30,456.14C45.42,456.07 54.77,455.75 61.00,455.69C67.23,455.64 73.47,455.67 79.70,455.81C85.93,455.94 92.17,456.13 98.40,456.48C104.63,456.84 110.87,457.45 117.10,457.96C123.33,458.47 129.57,458.96 135.80,459.54C142.03,460.13 148.27,460.73 154.50,461.47C160.73,462.20 166.97,463.09 173.20,463.96C179.43,464.83 185.67,465.83 191.90,466.68C198.13,467.53 204.37,468.30 210.60,469.06C216.83,469.81 223.07,470.53 229.30,471.21C235.53,471.89 241.77,472.55 248.00,473.13C254.23,473.72 262.21,474.34 266.70,474.72C271.19,475.10 273.56,475.28 274.93,475.40" fill="none" stroke="#f2e430" stroke-width="1.6" stroke-linejoin="round"/>
<path d="M42.30,460.67C45.42,461.05 54.77,462.13 61.00,462.94C67.23,463.75 73.47,464.64 79.70,465.54C85.93,466.45 92.17,467.36 98.40,468.38C104.63,469.40 110.87,470.41 117.10,471.66C123.33,472.91 129.57,474.43 135.80,475.85C142.03,477.27 148.27,478.80 154.50,480.15C160.73,481.51 166.97,482.89 173.20,484.00C179.43,485.12 185.67,486.04 191.90,486.84C198.13,487.63 204.37,488.21 210.60,488.76C216.83,489.31 223.07,489.74 229.30,490.12C235.53,490.50 241.77,490.78 248.00,491.03C254.23,491.27 261.43,491.46 266.70,491.59C271.97,491.72 277.45,491.78 279.60,491.82" fill="none" stroke="#1e9ed8" stroke-width="1.6" stroke-linejoin="round"/>
<path d="M42.30,463.85C45.42,464.98 54.77,468.53 61.00,470.64C67.23,472.75 73.47,474.68 79.70,476.53C85.93,478.38 92.17,480.15 98.40,481.74C104.63,483.32 110.87,484.70 117.10,486.04C123.33,487.38 129.57,488.65 135.80,489.78C142.03,490.91 148.27,491.88 154.50,492.84C160.73,493.80 166.97,494.73 173.20,495.56C179.43,496.39 185.67,497.18 191.90,497.82C198.13,498.46 204.37,498.97 210.60,499.41C216.83,499.84 223.07,500.16 229.30,500.43C235.53,500.69 241.77,500.86 248.00,500.99C254.23,501.12 261.43,501.18 266.70,501.22C271.97,501.26 277.45,501.22 279.60,501.22" fill="none" stroke="#2a2a78" stroke-width="1.6" stroke-linejoin="round"/>
<text transform="translate(249.0,397.8) scale(1.1,1)" font-size="11.4" letter-spacing="0.1" fill="#5a3434" stroke="#5a3434" stroke-width="0.4">QFM+2</text>
<text transform="translate(279.3,449.1) scale(1.1,1)" font-size="11.4" letter-spacing="0.1" fill="#66563c" stroke="#66563c" stroke-width="0.4">QFM+1</text>
<text transform="translate(280.1,477.7) scale(1.1,1)" font-size="11.4" letter-spacing="0.1" fill="#8c8a56" stroke="#8c8a56" stroke-width="0.4">QFM</text>
<text transform="translate(280.1,491.7) scale(1.1,1)" font-size="11.4" letter-spacing="0.1" fill="#2e6488" stroke="#2e6488" stroke-width="0.4">QFM-1</text>
<text transform="translate(281.9,507.3) scale(1.1,1)" font-size="11.4" letter-spacing="0.1" fill="#2c2c4c" stroke="#2c2c4c" stroke-width="0.4">QFM-2</text>
<g fill="none" stroke="#a8cc1c" stroke-width="1.2"><path d="M177.8,297.6L186.2,306.0M177.8,306.0L186.2,297.6"/><path d="M117.4,314.8L125.8,323.2M117.4,323.2L125.8,314.8"/><path d="M88.2,337.1L96.6,345.5M88.2,345.5L96.6,337.1"/><path d="M112.5,355.2L120.9,363.6M112.5,363.6L120.9,355.2"/><path d="M160.0,355.4L168.4,363.8M160.0,363.8L168.4,355.4"/><path d="M169.1,360.9L177.5,369.3M169.1,369.3L177.5,360.9"/><path d="M180.3,358.4L188.7,366.8M180.3,366.8L188.7,358.4"/><path d="M141.7,368.6L150.1,377.0M141.7,377.0L150.1,368.6"/><path d="M194.1,372.7L202.5,381.1M194.1,381.1L202.5,372.7"/><path d="M206.3,372.7L214.7,381.1M206.3,381.1L214.7,372.7"/><path d="M70.7,397.0L79.1,405.4M70.7,405.4L79.1,397.0"/><path d="M74.8,391.7L83.2,400.1M74.8,400.1L83.2,391.7"/><path d="M119.4,391.7L127.8,400.1M119.4,400.1L127.8,391.7"/><path d="M105.8,400.0L114.2,408.4M105.8,408.4L114.2,400.0"/><path d="M139.7,387.3L148.1,395.7M139.7,395.7L148.1,387.3"/><path d="M155.5,385.2L163.9,393.6M155.5,393.6L163.9,385.2"/><path d="M157.6,387.3L166.0,395.7M157.6,395.7L166.0,387.3"/><path d="M175.8,385.2L184.2,393.6M175.8,393.6L184.2,385.2"/><path d="M183.9,388.3L192.3,396.7M183.9,396.7L192.3,388.3"/><path d="M194.1,385.2L202.5,393.6M194.1,393.6L202.5,385.2"/><path d="M81.5,424.4L89.9,432.8M81.5,432.8L89.9,424.4"/><path d="M92.6,425.2L101.0,433.6M92.6,433.6L101.0,425.2"/><path d="M84.5,431.5L92.9,439.9M84.5,439.9L92.9,431.5"/><path d="M78.8,447.5L87.2,455.9M78.8,455.9L87.2,447.5"/><path d="M108.4,444.5L116.8,452.9M108.4,452.9L116.8,444.5"/><path d="M83.5,459.3L91.9,467.7M83.5,467.7L91.9,459.3"/><path d="M88.2,467.0L96.6,475.4M88.2,475.4L96.6,467.0"/><path d="M95.1,462.3L103.5,470.7M95.1,470.7L103.5,462.3"/><path d="M56.1,464.4L64.5,472.8M56.1,472.8L64.5,464.4"/><path d="M61.2,474.5L69.6,482.9M61.2,482.9L69.6,474.5"/><path d="M126.1,464.0L134.5,472.4M126.1,472.4L134.5,464.0"/><path d="M124.1,478.6L132.5,487.0M124.1,487.0L132.5,478.6"/><path d="M119.4,489.7L127.8,498.1M119.4,498.1L127.8,489.7"/><path d="M193.7,448.1L202.1,456.5M193.7,456.5L202.1,448.1"/><path d="M205.2,442.7L213.6,451.1M205.2,451.1L213.6,442.7"/><path d="M128.7,403.1L137.1,411.5M128.7,411.5L137.1,403.1"/><path d="M141.3,403.1L149.7,411.5M141.3,411.5L149.7,403.1"/><path d="M169.7,391.3L178.1,399.7M169.7,399.7L178.1,391.3"/><path d="M337.8,328.4L346.2,336.8M337.8,336.8L346.2,328.4"/><path d="M369.3,343.2L377.7,351.6M369.3,351.6L377.7,343.2"/><path d="M221.2,345.3L229.6,353.7M221.2,353.7L229.6,345.3"/><path d="M259.1,350.3L267.5,358.7M259.1,358.7L267.5,350.3"/><path d="M227.3,360.3L235.7,368.7M227.3,368.7L235.7,360.3"/><path d="M243.5,366.6L251.9,375.0M243.5,375.0L251.9,366.6"/><path d="M330.7,349.3L339.1,357.7M330.7,357.7L339.1,349.3"/><path d="M339.9,351.3L348.3,359.7M339.9,359.7L348.3,351.3"/><path d="M346.0,352.4L354.4,360.8M346.0,360.8L354.4,352.4"/><path d="M350.0,352.4L358.4,360.8M350.0,360.8L358.4,352.4"/><path d="M321.6,360.5L330.0,368.9M321.6,368.9L330.0,360.5"/><path d="M325.7,366.0L334.1,374.4M325.7,374.4L334.1,366.0"/><path d="M320.0,372.7L328.4,381.1M320.0,381.1L328.4,372.7"/><path d="M356.1,368.6L364.5,377.0M356.1,377.0L364.5,368.6"/><path d="M334.8,375.1L343.2,383.5M334.8,383.5L343.2,375.1"/><path d="M333.8,384.2L342.2,392.6M333.8,392.6L342.2,384.2"/><path d="M204.9,371.0L213.3,379.4M204.9,379.4L213.3,371.0"/><path d="M212.0,373.1L220.4,381.5M212.0,381.5L220.4,373.1"/><path d="M207.0,378.1L215.4,386.5M207.0,386.5L215.4,378.1"/><path d="M223.2,379.5L231.6,387.9M223.2,387.9L231.6,379.5"/><path d="M237.4,380.8L245.8,389.2M237.4,389.2L245.8,380.8"/><path d="M285.1,379.1L293.5,387.5M285.1,387.5L293.5,379.1"/><path d="M292.2,385.2L300.6,393.6M292.2,393.6L300.6,385.2"/><path d="M304.4,392.3L312.8,400.7M304.4,400.7L312.8,392.3"/><path d="M304.4,398.4L312.8,406.8M304.4,406.8L312.8,398.4"/><path d="M313.5,398.4L321.9,406.8M313.5,406.8L321.9,398.4"/><path d="M323.6,398.4L332.0,406.8M323.6,406.8L332.0,398.4"/><path d="M358.1,395.4L366.5,403.8M358.1,403.8L366.5,395.4"/><path d="M366.3,391.3L374.7,399.7M366.3,399.7L374.7,391.3"/><path d="M369.3,398.4L377.7,406.8M369.3,406.8L377.7,398.4"/><path d="M360.2,407.6L368.6,416.0M360.2,416.0L368.6,407.6"/><path d="M366.3,415.7L374.7,424.1M366.3,424.1L374.7,415.7"/><path d="M335.8,409.6L344.2,418.0M335.8,418.0L344.2,409.6"/><path d="M341.9,411.6L350.3,420.0M341.9,420.0L350.3,411.6"/><path d="M346.0,423.8L354.4,432.2M346.0,432.2L354.4,423.8"/><path d="M341.9,429.9L350.3,438.3M341.9,438.3L350.3,429.9"/><path d="M323.6,427.8L332.0,436.2M323.6,436.2L332.0,427.8"/><path d="M335.8,441.0L344.2,449.4M335.8,449.4L344.2,441.0"/><path d="M356.1,440.0L364.5,448.4M356.1,448.4L364.5,440.0"/><path d="M369.3,439.0L377.7,447.4M369.3,447.4L377.7,439.0"/><path d="M362.2,440.0L370.6,448.4M362.2,448.4L370.6,440.0"/><path d="M315.5,415.7L323.9,424.1M315.5,424.1L323.9,415.7"/><path d="M311.5,427.8L319.9,436.2M311.5,436.2L319.9,427.8"/><path d="M297.3,429.9L305.7,438.3M297.3,438.3L305.7,429.9"/><path d="M204.9,443.1L213.3,451.5M204.9,451.5L213.3,443.1"/><path d="M223.2,447.1L231.6,455.5M223.2,455.5L231.6,447.1"/><path d="M259.1,455.8L267.5,464.2M259.1,464.2L267.5,455.8"/><path d="M256.7,437.6L265.1,446.0M256.7,446.0L265.1,437.6"/><path d="M237.4,442.0L245.8,450.4M237.4,450.4L245.8,442.0"/><path d="M166.0,435.4L174.4,443.8M166.0,443.8L174.4,435.4"/><path d="M152.9,412.4L161.3,420.8M152.9,420.8L161.3,412.4"/><path d="M149.7,401.4L158.1,409.8M149.7,409.8L158.1,401.4"/><path d="M143.9,431.6L152.3,440.0M143.9,440.0L152.3,431.6"/><path d="M159.8,422.5L168.2,430.9M159.8,430.9L168.2,422.5"/><path d="M156.2,405.8L164.6,414.2M156.2,414.2L164.6,405.8"/><path d="M143.0,388.4L151.4,396.8M143.0,396.8L151.4,388.4"/><path d="M115.8,432.1L124.2,440.5M115.8,440.5L124.2,432.1"/><path d="M172.8,422.0L181.2,430.4M172.8,430.4L181.2,422.0"/><path d="M159.7,417.5L168.1,425.9M159.7,425.9L168.1,417.5"/><path d="M109.0,422.4L117.4,430.8M109.0,430.8L117.4,422.4"/><path d="M172.2,413.1L180.6,421.5M172.2,421.5L180.6,413.1"/><path d="M197.3,423.8L205.7,432.2M197.3,432.2L205.7,423.8"/><path d="M156.5,413.2L164.9,421.6M156.5,421.6L164.9,413.2"/><path d="M172.5,429.5L180.9,437.9M172.5,437.9L180.9,429.5"/><path d="M139.3,407.6L147.7,416.0M139.3,416.0L147.7,407.6"/><path d="M124.1,436.2L132.5,444.6M124.1,444.6L132.5,436.2"/><path d="M178.0,401.5L186.4,409.9M178.0,409.9L186.4,401.5"/><path d="M156.1,449.0L164.5,457.4M156.1,457.4L164.5,449.0"/><path d="M143.7,423.2L152.1,431.6M143.7,431.6L152.1,423.2"/><path d="M144.3,418.9L152.7,427.3M144.3,427.3L152.7,418.9"/><path d="M148.4,403.9L156.8,412.3M148.4,412.3L156.8,403.9"/><path d="M172.0,415.2L180.4,423.6M172.0,423.6L180.4,415.2"/><path d="M173.6,408.9L182.0,417.3M173.6,417.3L182.0,408.9"/><path d="M164.6,432.5L173.0,440.9M164.6,440.9L173.0,432.5"/><path d="M192.7,432.2L201.1,440.6M192.7,440.6L201.1,432.2"/><path d="M166.7,423.0L175.1,431.4M166.7,431.4L175.1,423.0"/><path d="M201.4,422.4L209.8,430.8M201.4,430.8L209.8,422.4"/><path d="M156.1,426.4L164.5,434.8M156.1,434.8L164.5,426.4"/><path d="M170.2,434.6L178.6,443.0M170.2,443.0L178.6,434.6"/><path d="M170.8,432.6L179.2,441.0M170.8,441.0L179.2,432.6"/><path d="M215.8,396.3L224.2,404.7M215.8,404.7L224.2,396.3"/><path d="M152.7,429.3L161.1,437.7M152.7,437.7L161.1,429.3"/><path d="M151.2,424.4L159.6,432.8M151.2,432.8L159.6,424.4"/><path d="M155.4,412.2L163.8,420.6M155.4,420.6L163.8,412.2"/><path d="M179.2,428.0L187.6,436.4M179.2,436.4L187.6,428.0"/><path d="M195.8,429.1L204.2,437.5M195.8,437.5L204.2,429.1"/><path d="M159.6,411.8L168.0,420.2M159.6,420.2L168.0,411.8"/><path d="M161.8,408.7L170.2,417.1M161.8,417.1L170.2,408.7"/><path d="M186.0,398.3L194.4,406.7M186.0,406.7L194.4,398.3"/><path d="M138.4,415.3L146.8,423.7M138.4,423.7L146.8,415.3"/><path d="M171.8,430.4L180.2,438.8M171.8,438.8L180.2,430.4"/><path d="M142.0,417.5L150.4,425.9M142.0,425.9L150.4,417.5"/><path d="M157.1,428.7L165.5,437.1M157.1,437.1L165.5,428.7"/><path d="M176.6,426.5L185.0,434.9M176.6,434.9L185.0,426.5"/><path d="M104.4,429.5L112.8,437.9M104.4,437.9L112.8,429.5"/><path d="M176.8,420.4L185.2,428.8M176.8,428.8L185.2,420.4"/><path d="M105.3,432.5L113.7,440.9M105.3,440.9L113.7,432.5"/><path d="M143.2,416.7L151.6,425.1M143.2,425.1L151.6,416.7"/><path d="M160.7,401.7L169.1,410.1M160.7,410.1L169.1,401.7"/><path d="M159.3,420.0L167.7,428.4M159.3,428.4L167.7,420.0"/><path d="M150.2,410.4L158.6,418.8M150.2,418.8L158.6,410.4"/><path d="M171.6,406.3L180.0,414.7M171.6,414.7L180.0,406.3"/><path d="M154.7,382.9L163.1,391.3M154.7,391.3L163.1,382.9"/><path d="M202.1,418.7L210.5,427.1M202.1,427.1L210.5,418.7"/><path d="M181.6,414.6L190.0,423.0M181.6,423.0L190.0,414.6"/><path d="M147.6,410.7L156.0,419.1M147.6,419.1L156.0,410.7"/><path d="M166.7,408.1L175.1,416.5M166.7,416.5L175.1,408.1"/><path d="M210.3,419.7L218.7,428.1M210.3,428.1L218.7,419.7"/><path d="M163.1,423.9L171.5,432.3M163.1,432.3L171.5,423.9"/><path d="M122.7,439.6L131.1,448.0M122.7,448.0L131.1,439.6"/><path d="M175.2,414.8L183.6,423.2M175.2,423.2L183.6,414.8"/><path d="M194.0,424.2L202.4,432.6M194.0,432.6L202.4,424.2"/><path d="M191.3,426.0L199.7,434.4M191.3,434.4L199.7,426.0"/><path d="M136.8,421.7L145.2,430.1M136.8,430.1L145.2,421.7"/><path d="M183.8,442.0L192.2,450.4M183.8,450.4L192.2,442.0"/><path d="M169.1,416.5L177.5,424.9M169.1,424.9L177.5,416.5"/><path d="M195.4,426.7L203.8,435.1M195.4,435.1L203.8,426.7"/><path d="M165.9,427.7L174.3,436.1M165.9,436.1L174.3,427.7"/><path d="M143.9,404.2L152.3,412.6M143.9,412.6L152.3,404.2"/><path d="M184.8,404.5L193.2,412.9M184.8,412.9L193.2,404.5"/><path d="M166.6,422.1L175.0,430.5M166.6,430.5L175.0,422.1"/><path d="M140.6,428.3L149.0,436.7M140.6,436.7L149.0,428.3"/><path d="M185.3,405.9L193.7,414.3M185.3,414.3L193.7,405.9"/><path d="M168.5,412.4L176.9,420.8M168.5,420.8L176.9,412.4"/><path d="M168.6,414.2L177.0,422.6M168.6,422.6L177.0,414.2"/><path d="M157.5,414.5L165.9,422.9M157.5,422.9L165.9,414.5"/><path d="M177.5,420.1L185.9,428.5M177.5,428.5L185.9,420.1"/><path d="M178.4,430.0L186.8,438.4M178.4,438.4L186.8,430.0"/><path d="M158.3,402.2L166.7,410.6M158.3,410.6L166.7,402.2"/><path d="M162.6,428.0L171.0,436.4M162.6,436.4L171.0,428.0"/><path d="M104.0,425.6L112.4,434.0M104.0,434.0L112.4,425.6"/><path d="M157.6,429.5L166.0,437.9M157.6,437.9L166.0,429.5"/><path d="M170.0,425.1L178.4,433.5M170.0,433.5L178.4,425.1"/><path d="M159.4,419.3L167.8,427.7M159.4,427.7L167.8,419.3"/><path d="M175.3,415.1L183.7,423.5M175.3,423.5L183.7,415.1"/><path d="M182.1,437.8L190.5,446.2M182.1,446.2L190.5,437.8"/><path d="M116.5,417.7L124.9,426.1M116.5,426.1L124.9,417.7"/><path d="M174.2,408.4L182.6,416.8M174.2,416.8L182.6,408.4"/><path d="M129.8,423.1L138.2,431.5M129.8,431.5L138.2,423.1"/><path d="M200.1,419.8L208.5,428.2M200.1,428.2L208.5,419.8"/><path d="M165.8,422.7L174.2,431.1M165.8,431.1L174.2,422.7"/><path d="M150.1,435.8L158.5,444.2M150.1,444.2L158.5,435.8"/><path d="M167.2,437.0L175.6,445.4M167.2,445.4L175.6,437.0"/><path d="M158.0,409.6L166.4,418.0M158.0,418.0L166.4,409.6"/><path d="M121.6,405.6L130.0,414.0M121.6,414.0L130.0,405.6"/><path d="M138.2,406.5L146.6,414.9M138.2,414.9L146.6,406.5"/><path d="M179.4,413.3L187.8,421.7M179.4,421.7L187.8,413.3"/><path d="M121.7,418.0L130.1,426.4M121.7,426.4L130.1,418.0"/><path d="M134.7,419.2L143.1,427.6M134.7,427.6L143.1,419.2"/><path d="M185.4,400.7L193.8,409.1M185.4,409.1L193.8,400.7"/><path d="M193.4,422.1L201.8,430.5M193.4,430.5L201.8,422.1"/><path d="M138.2,403.2L146.6,411.6M138.2,411.6L146.6,403.2"/><path d="M191.2,397.3L199.6,405.7M191.2,405.7L199.6,397.3"/><path d="M187.1,444.6L195.5,453.0M187.1,453.0L195.5,444.6"/><path d="M168.7,437.1L177.1,445.5M168.7,445.5L177.1,437.1"/><path d="M165.1,447.7L173.5,456.1M165.1,456.1L173.5,447.7"/><path d="M148.3,447.1L156.7,455.5M148.3,455.5L156.7,447.1"/><path d="M151.9,431.5L160.3,439.9M151.9,439.9L160.3,431.5"/><path d="M162.9,417.0L171.3,425.4M162.9,425.4L171.3,417.0"/><path d="M190.6,414.3L199.0,422.7M190.6,422.7L199.0,414.3"/><path d="M122.4,423.1L130.8,431.5M122.4,431.5L130.8,423.1"/><path d="M134.4,420.3L142.8,428.7M134.4,428.7L142.8,420.3"/><path d="M123.0,423.3L131.4,431.7M123.0,431.7L131.4,423.3"/><path d="M144.1,440.5L152.5,448.9M144.1,448.9L152.5,440.5"/><path d="M197.8,445.4L206.2,453.8M197.8,453.8L206.2,445.4"/><path d="M137.9,406.8L146.3,415.2M137.9,415.2L146.3,406.8"/><path d="M134.1,422.5L142.5,430.9M134.1,430.9L142.5,422.5"/><path d="M134.7,428.1L143.1,436.5M134.7,436.5L143.1,428.1"/><path d="M126.1,414.2L134.5,422.6M126.1,422.6L134.5,414.2"/><path d="M156.1,440.3L164.5,448.7M156.1,448.7L164.5,440.3"/><path d="M192.3,420.1L200.7,428.5M192.3,428.5L200.7,420.1"/><path d="M188.8,405.7L197.2,414.1M188.8,414.1L197.2,405.7"/><path d="M181.9,426.9L190.3,435.3M181.9,435.3L190.3,426.9"/><path d="M159.0,442.4L167.4,450.8M159.0,450.8L167.4,442.4"/><path d="M161.5,426.3L169.9,434.7M161.5,434.7L169.9,426.3"/><path d="M127.2,429.0L135.6,437.4M127.2,437.4L135.6,429.0"/><path d="M121.2,447.5L129.6,455.9M121.2,455.9L129.6,447.5"/><path d="M165.4,432.3L173.8,440.7M165.4,440.7L173.8,432.3"/><path d="M200.5,417.6L208.9,426.0M200.5,426.0L208.9,417.6"/><path d="M155.6,418.1L164.0,426.5M155.6,426.5L164.0,418.1"/><path d="M124.0,402.6L132.4,411.0M124.0,411.0L132.4,402.6"/><path d="M143.3,406.2L151.7,414.6M143.3,414.6L151.7,406.2"/><path d="M127.6,435.5L136.0,443.9M127.6,443.9L136.0,435.5"/><path d="M188.0,416.7L196.4,425.1M188.0,425.1L196.4,416.7"/><path d="M128.7,404.2L137.1,412.6M128.7,412.6L137.1,404.2"/><path d="M134.5,419.1L142.9,427.5M134.5,427.5L142.9,419.1"/><path d="M191.3,436.8L199.7,445.2M191.3,445.2L199.7,436.8"/><path d="M130.1,404.7L138.5,413.1M130.1,413.1L138.5,404.7"/><path d="M164.6,402.3L173.0,410.7M164.6,410.7L173.0,402.3"/><path d="M108.4,440.9L116.8,449.3M108.4,449.3L116.8,440.9"/><path d="M117.8,420.4L126.2,428.8M117.8,428.8L126.2,420.4"/><path d="M131.7,424.8L140.1,433.2M131.7,433.2L140.1,424.8"/><path d="M106.4,430.4L114.8,438.8M106.4,438.8L114.8,430.4"/><path d="M120.7,415.0L129.1,423.4M120.7,423.4L129.1,415.0"/><path d="M123.3,422.7L131.7,431.1M123.3,431.1L131.7,422.7"/><path d="M118.3,442.0L126.7,450.4M118.3,450.4L126.7,442.0"/><path d="M123.2,419.1L131.6,427.5M123.2,427.5L131.6,419.1"/><path d="M122.1,409.3L130.5,417.7M122.1,417.7L130.5,409.3"/><path d="M101.9,445.2L110.3,453.6M101.9,453.6L110.3,445.2"/><path d="M129.2,436.2L137.6,444.6M129.2,444.6L137.6,436.2"/><path d="M120.6,430.1L129.0,438.5M120.6,438.5L129.0,430.1"/><path d="M115.3,426.0L123.7,434.4M115.3,434.4L123.7,426.0"/><path d="M102.9,415.9L111.3,424.3M102.9,424.3L111.3,415.9"/><path d="M224.1,405.7L232.5,414.1M224.1,414.1L232.5,405.7"/><path d="M226.8,402.8L235.2,411.2M226.8,411.2L235.2,402.8"/><path d="M204.3,427.2L212.7,435.6M204.3,435.6L212.7,427.2"/><path d="M197.7,429.5L206.1,437.9M197.7,437.9L206.1,429.5"/><path d="M251.1,432.9L259.5,441.3M251.1,441.3L259.5,432.9"/><path d="M235.2,404.3L243.6,412.7M235.2,412.7L243.6,404.3"/><path d="M216.8,437.5L225.2,445.9M216.8,445.9L225.2,437.5"/><path d="M213.8,403.7L222.2,412.1M213.8,412.1L222.2,403.7"/><path d="M213.2,436.9L221.6,445.3M213.2,445.3L221.6,436.9"/><path d="M215.4,435.0L223.8,443.4M215.4,443.4L223.8,435.0"/><path d="M252.2,412.6L260.6,421.0M252.2,421.0L260.6,412.6"/><path d="M232.9,429.3L241.3,437.7M232.9,437.7L241.3,429.3"/><path d="M229.7,428.2L238.1,436.6M229.7,436.6L238.1,428.2"/><path d="M201.5,407.7L209.9,416.1M201.5,416.1L209.9,407.7"/><path d="M216.2,417.4L224.6,425.8M216.2,425.8L224.6,417.4"/><path d="M223.7,412.5L232.1,420.9M223.7,420.9L232.1,412.5"/><path d="M207.5,411.4L215.9,419.8M207.5,419.8L215.9,411.4"/><path d="M251.9,398.7L260.3,407.1M251.9,407.1L260.3,398.7"/><path d="M249.1,398.9L257.5,407.3M249.1,407.3L257.5,398.9"/><path d="M253.8,407.4L262.2,415.8M253.8,415.8L262.2,407.4"/><path d="M242.5,396.9L250.9,405.3M242.5,405.3L250.9,396.9"/><path d="M213.4,426.1L221.8,434.5M213.4,434.5L221.8,426.1"/><path d="M238.1,433.1L246.5,441.5M238.1,441.5L246.5,433.1"/><path d="M206.6,396.7L215.0,405.1M206.6,405.1L215.0,396.7"/><path d="M209.2,409.0L217.6,417.4M209.2,417.4L217.6,409.0"/><path d="M241.3,416.8L249.7,425.2M241.3,425.2L249.7,416.8"/><path d="M236.3,428.3L244.7,436.7M236.3,436.7L244.7,428.3"/><path d="M205.2,421.4L213.6,429.8M205.2,429.8L213.6,421.4"/><path d="M252.1,429.6L260.5,438.0M252.1,438.0L260.5,429.6"/><path d="M239.4,411.2L247.8,419.6M239.4,419.6L247.8,411.2"/><path d="M230.5,436.4L238.9,444.8M230.5,444.8L238.9,436.4"/><path d="M211.3,399.4L219.7,407.8M211.3,407.8L219.7,399.4"/><path d="M221.0,437.4L229.4,445.8M221.0,445.8L229.4,437.4"/><path d="M248.8,414.7L257.2,423.1M248.8,423.1L257.2,414.7"/><path d="M227.3,400.0L235.7,408.4M227.3,408.4L235.7,400.0"/><path d="M254.1,411.0L262.5,419.4M254.1,419.4L262.5,411.0"/><path d="M218.4,408.2L226.8,416.6M218.4,416.6L226.8,408.2"/><path d="M233.7,429.6L242.1,438.0M233.7,438.0L242.1,429.6"/><path d="M211.4,439.1L219.8,447.5M211.4,447.5L219.8,439.1"/><path d="M218.4,412.1L226.8,420.5M218.4,420.5L226.8,412.1"/><path d="M284.2,419.7L292.6,428.1M284.2,428.1L292.6,419.7"/><path d="M277.0,414.3L285.4,422.7M277.0,422.7L285.4,414.3"/><path d="M303.5,415.7L311.9,424.1M303.5,424.1L311.9,415.7"/><path d="M280.6,413.3L289.0,421.7M280.6,421.7L289.0,413.3"/><path d="M274.5,422.5L282.9,430.9M274.5,430.9L282.9,422.5"/><path d="M302.5,405.6L310.9,414.0M302.5,414.0L310.9,405.6"/><path d="M308.7,408.2L317.1,416.6M308.7,416.6L317.1,408.2"/><path d="M278.1,419.9L286.5,428.3M278.1,428.3L286.5,419.9"/><path d="M288.4,417.9L296.8,426.3M288.4,426.3L296.8,417.9"/><path d="M278.3,408.0L286.7,416.4M278.3,416.4L286.7,408.0"/><path d="M277.9,419.5L286.3,427.9M277.9,427.9L286.3,419.5"/><path d="M300.9,420.2L309.3,428.6M300.9,428.6L309.3,420.2"/><path d="M304.7,411.5L313.1,419.9M304.7,419.9L313.1,411.5"/><path d="M284.5,403.8L292.9,412.2M284.5,412.2L292.9,403.8"/><path d="M290.4,417.6L298.8,426.0M290.4,426.0L298.8,417.6"/><path d="M292.9,412.1L301.3,420.5M292.9,420.5L301.3,412.1"/><path d="M307.3,400.5L315.7,408.9M307.3,408.9L315.7,400.5"/><path d="M308.1,418.2L316.5,426.6M308.1,426.6L316.5,418.2"/><path d="M277.1,416.1L285.5,424.5M277.1,424.5L285.5,416.1"/><path d="M274.4,414.6L282.8,423.0M274.4,423.0L282.8,414.6"/><path d="M286.5,402.3L294.9,410.7M286.5,410.7L294.9,402.3"/><path d="M310.8,404.9L319.2,413.3M310.8,413.3L319.2,404.9"/><path d="M281.4,406.7L289.8,415.1M281.4,415.1L289.8,406.7"/><path d="M282.8,408.0L291.2,416.4M282.8,416.4L291.2,408.0"/><path d="M288.9,405.9L297.3,414.3M288.9,414.3L297.3,405.9"/><path d="M288.5,411.7L296.9,420.1M288.5,420.1L296.9,411.7"/><path d="M297.4,398.2L305.8,406.6M297.4,406.6L305.8,398.2"/><path d="M282.9,407.6L291.3,416.0M282.9,416.0L291.3,407.6"/><path d="M302.0,400.9L310.4,409.3M302.0,409.3L310.4,400.9"/><path d="M293.0,405.6L301.4,414.0M293.0,414.0L301.4,405.6"/></g>
<rect x="42.3" y="290.8" width="336.6" height="226.5" fill="none" stroke="#2c2c2c" stroke-width="1.4"/>
<path d="M42.3,494.6h6.5 M42.3,472.0h6.5 M42.3,449.3h6.5 M42.3,426.7h6.5 M42.3,404.0h6.5 M42.3,381.4h6.5 M42.3,358.8h6.5 M42.3,336.1h6.5 M42.3,313.4h6.5 M79.7,517.3v-6.5 M117.1,517.3v-6.5 M154.5,517.3v-6.5 M191.9,517.3v-6.5 M229.3,517.3v-6.5 M266.7,517.3v-6.5 M304.1,517.3v-6.5 M341.5,517.3v-6.5" stroke="#2c2c2c" stroke-width="1.3"/>
<text transform="translate(35.5,522.9) scale(1.1,1)" font-size="11.4" fill="#222" stroke="#222" stroke-width="0.15" text-anchor="end">0</text>
<text transform="translate(35.5,500.2) scale(1.1,1)" font-size="11.4" fill="#222" stroke="#222" stroke-width="0.15" text-anchor="end">2</text>
<text transform="translate(35.5,477.6) scale(1.1,1)" font-size="11.4" fill="#222" stroke="#222" stroke-width="0.15" text-anchor="end">4</text>
<text transform="translate(35.5,454.9) scale(1.1,1)" font-size="11.4" fill="#222" stroke="#222" stroke-width="0.15" text-anchor="end">6</text>
<text transform="translate(35.5,432.3) scale(1.1,1)" font-size="11.4" fill="#222" stroke="#222" stroke-width="0.15" text-anchor="end">8</text>
<text transform="translate(35.5,409.6) scale(1.1,1)" font-size="11.4" fill="#222" stroke="#222" stroke-width="0.15" text-anchor="end">10</text>
<text transform="translate(35.5,387.0) scale(1.1,1)" font-size="11.4" fill="#222" stroke="#222" stroke-width="0.15" text-anchor="end">12</text>
<text transform="translate(35.5,364.4) scale(1.1,1)" font-size="11.4" fill="#222" stroke="#222" stroke-width="0.15" text-anchor="end">14</text>
<text transform="translate(35.5,341.7) scale(1.1,1)" font-size="11.4" fill="#222" stroke="#222" stroke-width="0.15" text-anchor="end">16</text>
<text transform="translate(35.5,319.1) scale(1.1,1)" font-size="11.4" fill="#222" stroke="#222" stroke-width="0.15" text-anchor="end">18</text>
<text transform="translate(35.5,296.4) scale(1.1,1)" font-size="11.4" fill="#222" stroke="#222" stroke-width="0.15" text-anchor="end">20</text>
<text transform="translate(47.3,534.7) scale(1.1,1)" font-size="11.4" fill="#222" stroke="#222" stroke-width="0.15" text-anchor="middle">2000</text>
<text transform="translate(84.7,534.7) scale(1.1,1)" font-size="11.4" fill="#222" stroke="#222" stroke-width="0.15" text-anchor="middle">3000</text>
<text transform="translate(122.1,534.7) scale(1.1,1)" font-size="11.4" fill="#222" stroke="#222" stroke-width="0.15" text-anchor="middle">4000</text>
<text transform="translate(159.5,534.7) scale(1.1,1)" font-size="11.4" fill="#222" stroke="#222" stroke-width="0.15" text-anchor="middle">5000</text>
<text transform="translate(196.9,534.7) scale(1.1,1)" font-size="11.4" fill="#222" stroke="#222" stroke-width="0.15" text-anchor="middle">6000</text>
<text transform="translate(234.3,534.7) scale(1.1,1)" font-size="11.4" fill="#222" stroke="#222" stroke-width="0.15" text-anchor="middle">7000</text>
<text transform="translate(271.7,534.7) scale(1.1,1)" font-size="11.4" fill="#222" stroke="#222" stroke-width="0.15" text-anchor="middle">8000</text>
<text transform="translate(309.1,534.7) scale(1.1,1)" font-size="11.4" fill="#222" stroke="#222" stroke-width="0.15" text-anchor="middle">9000</text>
<text transform="translate(346.5,534.7) scale(1.1,1)" font-size="11.4" fill="#222" stroke="#222" stroke-width="0.15" text-anchor="middle">10000</text>
<text transform="translate(383.9,534.7) scale(1.1,1)" font-size="11.4" fill="#222" stroke="#222" stroke-width="0.15" text-anchor="middle">11000</text>
<text x="48.8" y="309.0" font-size="20" font-weight="bold" fill="#111">d</text>
<text transform="translate(287.1,309.5) scale(1.1,1)" font-size="14" font-weight="bold" textLength="76.73" lengthAdjust="spacing" fill="#1f8fca">Kamchatka</text>
<text transform="translate(17.2,390.3) rotate(-90) scale(1.12,1)" font-size="14.2" font-weight="bold" fill="#111" text-anchor="middle">V/Sc</text>
<text transform="translate(210.1,555.1) scale(1.13,1)" font-size="14.2" font-weight="bold" fill="#111" text-anchor="middle">Ti(ppm)</text>
<path d="M441.60,455.28L494.78,438.63C496.52,437.44 501.58,433.65 505.18,431.50C508.78,429.34 510.79,428.31 516.40,425.72C522.01,423.13 532.61,418.55 538.84,415.98C545.07,413.41 547.26,412.53 553.80,410.32C560.35,408.11 570.63,404.77 578.11,402.73C585.59,400.69 592.13,399.39 598.68,398.09C605.23,396.79 612.08,395.63 617.38,394.92C622.68,394.20 625.92,394.05 630.47,393.78C635.02,393.52 642.31,393.41 644.68,393.33" fill="none" stroke="#c8202c" stroke-width="1.6" stroke-linejoin="round"/>
<path d="M441.60,455.62C444.72,455.15 454.07,453.73 460.30,452.79C466.53,451.84 473.25,450.96 479.00,449.96C484.75,448.96 492.15,447.31 494.78,446.78C496.52,446.31 501.58,444.86 505.18,443.95C508.78,443.05 511.41,442.24 516.40,441.35C521.39,440.46 528.87,439.35 535.10,438.63C541.33,437.91 547.57,437.39 553.80,437.05C560.03,436.71 566.27,436.61 572.50,436.59C578.73,436.57 584.97,436.71 591.20,436.93C597.43,437.16 603.67,437.52 609.90,437.95C616.13,438.39 622.37,438.82 628.60,439.54C634.83,440.25 641.07,441.39 647.30,442.25C653.53,443.12 660.76,444.07 666.00,444.75C671.24,445.43 676.60,446.07 678.72,446.33" fill="none" stroke="#e8902c" stroke-width="1.6" stroke-linejoin="round"/>
<path d="M441.60,455.85C444.72,455.77 454.07,455.45 460.30,455.39C466.53,455.34 472.77,455.37 479.00,455.51C485.23,455.64 491.47,455.83 497.70,456.18C503.93,456.54 510.17,457.15 516.40,457.66C522.63,458.17 528.87,458.66 535.10,459.24C541.33,459.83 547.57,460.43 553.80,461.17C560.03,461.90 566.27,462.79 572.50,463.66C578.73,464.53 584.97,465.53 591.20,466.38C597.43,467.23 603.67,468.00 609.90,468.76C616.13,469.51 622.37,470.23 628.60,470.91C634.83,471.59 641.07,472.25 647.30,472.83C653.53,473.42 661.51,474.04 666.00,474.42C670.49,474.80 672.86,474.98 674.23,475.10" fill="none" stroke="#f2e430" stroke-width="1.6" stroke-linejoin="round"/>
<path d="M441.60,460.38C444.72,460.75 454.07,461.83 460.30,462.64C466.53,463.45 472.77,464.34 479.00,465.24C485.23,466.15 491.47,467.06 497.70,468.08C503.93,469.10 510.17,470.11 516.40,471.36C522.63,472.61 528.87,474.13 535.10,475.55C541.33,476.97 547.57,478.50 553.80,479.85C560.03,481.21 566.27,482.59 572.50,483.70C578.73,484.82 584.97,485.74 591.20,486.54C597.43,487.33 603.67,487.91 609.90,488.46C616.13,489.01 622.37,489.44 628.60,489.82C634.83,490.20 641.07,490.48 647.30,490.73C653.53,490.97 660.73,491.16 666.00,491.29C671.27,491.42 676.75,491.48 678.90,491.52" fill="none" stroke="#1e9ed8" stroke-width="1.6" stroke-linejoin="round"/>
<path d="M441.60,463.55C444.72,464.68 454.07,468.23 460.30,470.34C466.53,472.46 472.77,474.38 479.00,476.23C485.23,478.08 491.47,479.85 497.70,481.44C503.93,483.02 510.17,484.40 516.40,485.74C522.63,487.08 528.87,488.35 535.10,489.48C541.33,490.61 547.57,491.58 553.80,492.54C560.03,493.50 566.27,494.43 572.50,495.26C578.73,496.09 584.97,496.88 591.20,497.52C597.43,498.16 603.67,498.67 609.90,499.11C616.13,499.54 622.37,499.86 628.60,500.13C634.83,500.39 641.07,500.56 647.30,500.69C653.53,500.82 660.73,500.88 666.00,500.92C671.27,500.96 676.75,500.92 678.90,500.92" fill="none" stroke="#2a2a78" stroke-width="1.6" stroke-linejoin="round"/>
<text transform="translate(651.1,398.0) scale(1.1,1)" font-size="11.4" letter-spacing="0.1" fill="#5a3434" stroke="#5a3434" stroke-width="0.4">QFM+2</text>
<text transform="translate(678.6,448.8) scale(1.1,1)" font-size="11.4" letter-spacing="0.1" fill="#66563c" stroke="#66563c" stroke-width="0.4">QFM+1</text>
<text transform="translate(679.4,477.4) scale(1.1,1)" font-size="11.4" letter-spacing="0.1" fill="#8c8a56" stroke="#8c8a56" stroke-width="0.4">QFM</text>
<text transform="translate(679.4,491.4) scale(1.1,1)" font-size="11.4" letter-spacing="0.1" fill="#2e6488" stroke="#2e6488" stroke-width="0.4">QFM-1</text>
<text transform="translate(681.2,507.0) scale(1.1,1)" font-size="11.4" letter-spacing="0.1" fill="#2c2c4c" stroke="#2c2c4c" stroke-width="0.4">QFM-2</text>
<g fill="none" stroke="#9ccff0" stroke-width="1.1"><path d="M473.6,420.8H481.6M477.6,416.8V424.8"/><path d="M495.6,412.3H503.6M499.6,408.3V416.3"/><path d="M537.5,381.0H545.5M541.5,377.0V385.0"/><path d="M557.4,389.6H565.4M561.4,385.6V393.6"/><path d="M575.1,377.5H583.1M579.1,373.5V381.5"/><path d="M588.6,381.0H596.6M592.6,377.0V385.0"/><path d="M539.6,400.2H547.6M543.6,396.2V404.2"/><path d="M548.2,398.8H556.2M552.2,394.8V402.8"/><path d="M529.0,410.1H537.0M533.0,406.1V414.1"/><path d="M535.4,410.9H543.4M539.4,406.9V414.9"/><path d="M521.9,415.1H529.9M525.9,411.1V419.1"/><path d="M572.3,400.9H580.3M576.3,396.9V404.9"/><path d="M597.8,411.6H605.8M601.8,407.6V415.6"/><path d="M608.5,411.6H616.5M612.5,407.6V415.6"/><path d="M614.2,408.0H622.2M618.2,404.0V412.0"/><path d="M578.0,408.7H586.0M582.0,404.7V412.7"/><path d="M585.1,406.6H593.1M589.1,402.6V410.6"/><path d="M583.6,419.4H591.6M587.6,415.4V423.4"/><path d="M480.0,443.5H488.0M484.0,439.5V447.5"/><path d="M495.6,448.5H503.6M499.6,444.5V452.5"/><path d="M502.0,454.9H510.0M506.0,450.9V458.9"/><path d="M508.4,462.7H516.4M512.4,458.7V466.7"/><path d="M526.9,457.0H534.9M530.9,453.0V461.0"/><path d="M521.2,450.6H529.2M525.2,446.6V454.6"/><path d="M543.9,446.4H551.9M547.9,442.4V450.4"/><path d="M580.8,445.0H588.8M584.8,441.0V449.0"/><path d="M584.4,452.0H592.4M588.4,448.0V456.0"/><path d="M603.5,451.3H611.5M607.5,447.3V455.3"/><path d="M613.5,451.3H621.5M617.5,447.3V455.3"/><path d="M600.7,422.2H608.7M604.7,418.2V426.2"/><path d="M613.5,425.8H621.5M617.5,421.8V429.8"/><path d="M559.5,412.3H567.5M563.5,408.3V416.3"/><path d="M516.2,421.5H524.2M520.2,417.5V425.5"/><path d="M721.6,332.1H729.6M725.6,328.1V336.1"/><path d="M652.8,341.3H660.8M656.8,337.3V345.3"/><path d="M650.7,352.4H658.7M654.7,348.4V356.4"/><path d="M626.5,369.0H634.5M630.5,365.0V373.0"/><path d="M631.5,370.4H639.5M635.5,366.4V374.4"/><path d="M644.3,369.7H652.3M648.3,365.7V373.7"/><path d="M659.9,379.6H667.9M663.9,375.6V383.6"/><path d="M618.0,382.5H626.0M622.0,378.5V386.5"/><path d="M632.9,384.6H640.9M636.9,380.6V388.6"/><path d="M644.3,385.3H652.3M648.3,381.3V389.3"/><path d="M618.7,389.6H626.7M622.7,385.6V393.6"/><path d="M700.3,384.6H708.3M704.3,380.6V388.6"/><path d="M706.0,381.8H714.0M710.0,377.8V385.8"/><path d="M696.8,393.1H704.8M700.8,389.1V397.1"/><path d="M706.0,389.6H714.0M710.0,385.6V393.6"/><path d="M706.0,398.8H714.0M710.0,394.8V402.8"/><path d="M690.4,388.1H698.4M694.4,384.1V392.1"/><path d="M725.9,378.9H733.9M729.9,374.9V382.9"/><path d="M730.2,394.5H738.2M734.2,390.5V398.5"/><path d="M628.7,399.5H636.7M632.7,395.5V403.5"/><path d="M626.5,406.6H634.5M630.5,402.6V410.6"/><path d="M615.9,405.2H623.9M619.9,401.2V409.2"/><path d="M608.1,410.9H616.1M612.1,406.9V414.9"/><path d="M598.1,410.9H606.1M602.1,406.9V414.9"/><path d="M615.9,412.3H623.9M619.9,408.3V416.3"/><path d="M681.9,406.6H689.9M685.9,402.6V410.6"/><path d="M685.4,410.9H693.4M689.4,406.9V414.9"/><path d="M674.8,413.7H682.8M678.8,409.7V417.7"/><path d="M692.5,417.2H700.5M696.5,413.2V421.2"/><path d="M701.1,420.1H709.1M705.1,416.1V424.1"/><path d="M718.8,406.6H726.8M722.8,402.6V410.6"/><path d="M719.5,413.0H727.5M723.5,409.0V417.0"/><path d="M730.2,411.6H738.2M734.2,407.6V415.6"/><path d="M749.3,405.9H757.3M753.3,401.9V409.9"/><path d="M761.4,412.3H769.4M765.4,408.3V416.3"/><path d="M768.5,412.3H776.5M772.5,408.3V416.3"/><path d="M728.0,420.8H736.0M732.0,416.8V424.8"/><path d="M756.4,425.1H764.4M760.4,421.1V429.1"/><path d="M763.5,424.3H771.5M767.5,420.3V428.3"/><path d="M752.2,435.7H760.2M756.2,431.7V439.7"/><path d="M752.2,449.2H760.2M756.2,445.2V453.2"/><path d="M716.7,435.0H724.7M720.7,431.0V439.0"/><path d="M708.2,464.1H716.2M712.2,460.1V468.1"/><path d="M600.3,425.1H608.3M604.3,421.1V429.1"/><path d="M625.8,420.1H633.8M629.8,416.1V424.1"/><path d="M637.9,419.4H645.9M641.9,415.4V423.4"/><path d="M628.7,430.0H636.7M632.7,426.0V434.0"/><path d="M641.4,430.0H649.4M645.4,426.0V434.0"/><path d="M635.8,435.0H643.8M639.8,431.0V439.0"/><path d="M620.1,432.2H628.1M624.1,428.2V436.2"/><path d="M613.0,425.1H621.0M617.0,421.1V429.1"/><path d="M602.4,449.2H610.4M606.4,445.2V453.2"/><path d="M613.0,451.3H621.0M617.0,447.3V455.3"/><path d="M649.9,442.1H657.9M653.9,438.1V446.1"/><path d="M686.1,422.2H694.1M690.1,418.2V426.2"/><path d="M685.4,427.9H693.4M689.4,423.9V431.9"/><path d="M659.2,418.0H667.2M663.2,414.0V422.0"/><path d="M662.7,433.6H670.7M666.7,429.6V437.6"/><path d="M544.4,428.3H552.4M548.4,424.3V432.3"/><path d="M553.4,433.7H561.4M557.4,429.7V437.7"/><path d="M521.7,431.5H529.7M525.7,427.5V435.5"/><path d="M554.7,435.5H562.7M558.7,431.5V439.5"/><path d="M558.9,437.4H566.9M562.9,433.4V441.4"/><path d="M546.8,431.5H554.8M550.8,427.5V435.5"/><path d="M511.0,437.1H519.0M515.0,433.1V441.1"/><path d="M539.6,429.8H547.6M543.6,425.8V433.8"/><path d="M531.1,425.6H539.1M535.1,421.6V429.6"/><path d="M548.2,436.5H556.2M552.2,432.5V440.5"/><path d="M541.1,438.1H549.1M545.1,434.1V442.1"/><path d="M560.6,424.1H568.6M564.6,420.1V428.1"/><path d="M558.4,421.3H566.4M562.4,417.3V425.3"/><path d="M554.7,432.2H562.7M558.7,428.2V436.2"/><path d="M585.1,428.1H593.1M589.1,424.1V432.1"/><path d="M544.9,426.0H552.9M548.9,422.0V430.0"/><path d="M541.1,438.7H549.1M545.1,434.7V442.7"/><path d="M549.4,426.3H557.4M553.4,422.3V430.3"/><path d="M557.8,427.3H565.8M561.8,423.3V431.3"/><path d="M533.6,436.2H541.6M537.6,432.2V440.2"/><path d="M555.9,428.5H563.9M559.9,424.5V432.5"/><path d="M523.3,438.3H531.3M527.3,434.3V442.3"/><path d="M552.4,430.3H560.4M556.4,426.3V434.3"/><path d="M548.9,439.0H556.9M552.9,435.0V443.0"/><path d="M547.6,433.3H555.6M551.6,429.3V437.3"/><path d="M530.2,425.6H538.2M534.2,421.6V429.6"/><path d="M526.0,430.0H534.0M530.0,426.0V434.0"/><path d="M584.1,432.7H592.1M588.1,428.7V436.7"/><path d="M553.8,431.1H561.8M557.8,427.1V435.1"/><path d="M555.4,436.5H563.4M559.4,432.5V440.5"/><path d="M525.5,432.8H533.5M529.5,428.8V436.8"/><path d="M528.4,433.4H536.4M532.4,429.4V437.4"/><path d="M526.7,426.3H534.7M530.7,422.3V430.3"/><path d="M541.5,432.1H549.5M545.5,428.1V436.1"/><path d="M520.1,442.6H528.1M524.1,438.6V446.6"/><path d="M540.9,425.6H548.9M544.9,421.6V429.6"/><path d="M530.2,440.7H538.2M534.2,436.7V444.7"/><path d="M539.8,431.8H547.8M543.8,427.8V435.8"/><path d="M553.4,430.8H561.4M557.4,426.8V434.8"/><path d="M532.3,434.5H540.3M536.3,430.5V438.5"/><path d="M552.6,428.9H560.6M556.6,424.9V432.9"/><path d="M587.3,432.8H595.3M591.3,428.8V436.8"/><path d="M533.1,437.4H541.1M537.1,433.4V441.4"/><path d="M564.6,428.8H572.6M568.6,424.8V432.8"/><path d="M555.4,424.1H563.4M559.4,420.1V428.1"/><path d="M560.7,425.1H568.7M564.7,421.1V429.1"/><path d="M571.0,435.5H579.0M575.0,431.5V439.5"/><path d="M532.2,434.0H540.2M536.2,430.0V438.0"/><path d="M551.6,430.8H559.6M555.6,426.8V434.8"/><path d="M572.8,425.8H580.8M576.8,421.8V429.8"/><path d="M537.3,430.1H545.3M541.3,426.1V434.1"/><path d="M543.5,428.4H551.5M547.5,424.4V432.4"/><path d="M550.5,440.3H558.5M554.5,436.3V444.3"/><path d="M590.4,432.1H598.4M594.4,428.1V436.1"/><path d="M543.3,432.0H551.3M547.3,428.0V436.0"/><path d="M549.3,437.1H557.3M553.3,433.1V441.1"/><path d="M544.5,435.5H552.5M548.5,431.5V439.5"/><path d="M572.6,421.3H580.6M576.6,417.3V425.3"/><path d="M551.3,427.7H559.3M555.3,423.7V431.7"/><path d="M555.3,427.6H563.3M559.3,423.6V431.6"/><path d="M530.4,434.9H538.4M534.4,430.9V438.9"/><path d="M552.2,425.5H560.2M556.2,421.5V429.5"/><path d="M534.0,430.5H542.0M538.0,426.5V434.5"/><path d="M547.3,434.9H555.3M551.3,430.9V438.9"/><path d="M544.8,431.2H552.8M548.8,427.2V435.2"/><path d="M554.9,425.1H562.9M558.9,421.1V429.1"/><path d="M569.8,437.9H577.8M573.8,433.9V441.9"/><path d="M508.6,422.4H516.6M512.6,418.4V426.4"/><path d="M570.6,422.3H578.6M574.6,418.3V426.3"/><path d="M559.6,426.9H567.6M563.6,422.9V430.9"/><path d="M555.5,425.2H563.5M559.5,421.2V429.2"/><path d="M558.9,422.9H566.9M562.9,418.9V426.9"/><path d="M540.3,426.5H548.3M544.3,422.5V430.5"/><path d="M528.6,427.4H536.6M532.6,423.4V431.4"/><path d="M565.5,422.7H573.5M569.5,418.7V426.7"/><path d="M551.0,435.1H559.0M555.0,431.1V439.1"/><path d="M520.9,431.7H528.9M524.9,427.7V435.7"/><path d="M554.7,436.7H562.7M558.7,432.7V440.7"/><path d="M561.8,422.3H569.8M565.8,418.3V426.3"/><path d="M565.6,426.6H573.6M569.6,422.6V430.6"/><path d="M523.4,428.7H531.4M527.4,424.7V432.7"/><path d="M560.7,435.7H568.7M564.7,431.7V439.7"/><path d="M529.2,435.5H537.2M533.2,431.5V439.5"/><path d="M521.9,429.0H529.9M525.9,425.0V433.0"/><path d="M534.8,425.9H542.8M538.8,421.9V429.9"/><path d="M541.2,440.6H549.2M545.2,436.6V444.6"/><path d="M533.8,429.8H541.8M537.8,425.8V433.8"/><path d="M529.4,425.3H537.4M533.4,421.3V429.3"/><path d="M561.0,423.2H569.0M565.0,419.2V427.2"/><path d="M545.2,434.3H553.2M549.2,430.3V438.3"/><path d="M585.0,423.6H593.0M589.0,419.6V427.6"/><path d="M584.2,438.2H592.2M588.2,434.2V442.2"/><path d="M557.5,435.6H565.5M561.5,431.6V439.6"/><path d="M501.9,444.4H509.9M505.9,440.4V448.4"/><path d="M541.6,439.0H549.6M545.6,435.0V443.0"/><path d="M577.8,425.9H585.8M581.8,421.9V429.9"/><path d="M520.0,442.0H528.0M524.0,438.0V446.0"/><path d="M562.4,429.2H570.4M566.4,425.2V433.2"/><path d="M590.0,424.5H598.0M594.0,420.5V428.5"/><path d="M565.5,420.2H573.5M569.5,416.2V424.2"/><path d="M532.0,444.5H540.0M536.0,440.5V448.5"/><path d="M550.2,443.8H558.2M554.2,439.8V447.8"/><path d="M538.2,439.0H546.2M542.2,435.0V443.0"/><path d="M581.3,424.5H589.3M585.3,420.5V428.5"/><path d="M570.2,421.4H578.2M574.2,417.4V425.4"/><path d="M570.6,440.4H578.6M574.6,436.4V444.4"/><path d="M567.3,421.0H575.3M571.3,417.0V425.0"/><path d="M587.4,440.9H595.4M591.4,436.9V444.9"/><path d="M548.2,440.6H556.2M552.2,436.6V444.6"/><path d="M519.2,434.3H527.2M523.2,430.3V438.3"/><path d="M563.9,442.0H571.9M567.9,438.0V446.0"/><path d="M582.6,428.1H590.6M586.6,424.1V432.1"/><path d="M561.3,438.0H569.3M565.3,434.0V442.0"/><path d="M572.3,420.6H580.3M576.3,416.6V424.6"/><path d="M555.4,435.2H563.4M559.4,431.2V439.2"/><path d="M539.0,441.9H547.0M543.0,437.9V445.9"/><path d="M561.6,439.1H569.6M565.6,435.1V443.1"/><path d="M589.1,424.4H597.1M593.1,420.4V428.4"/><path d="M585.3,441.9H593.3M589.3,437.9V445.9"/><path d="M522.0,436.8H530.0M526.0,432.8V440.8"/><path d="M578.8,439.7H586.8M582.8,435.7V443.7"/><path d="M550.3,423.5H558.3M554.3,419.5V427.5"/><path d="M567.4,437.8H575.4M571.4,433.8V441.8"/><path d="M537.8,422.5H545.8M541.8,418.5V426.5"/><path d="M543.7,432.6H551.7M547.7,428.6V436.6"/><path d="M534.0,424.2H542.0M538.0,420.2V428.2"/><path d="M535.9,437.4H543.9M539.9,433.4V441.4"/><path d="M498.5,442.5H506.5M502.5,438.5V446.5"/><path d="M537.7,443.0H545.7M541.7,439.0V447.0"/><path d="M533.7,427.2H541.7M537.7,423.2V431.2"/><path d="M499.8,420.1H507.8M503.8,416.1V424.1"/><path d="M570.9,422.1H578.9M574.9,418.1V426.1"/><path d="M556.5,426.2H564.5M560.5,422.2V430.2"/><path d="M563.5,432.6H571.5M567.5,428.6V436.6"/><path d="M525.1,431.2H533.1M529.1,427.2V435.2"/><path d="M526.8,431.3H534.8M530.8,427.3V435.3"/><path d="M505.2,431.5H513.2M509.2,427.5V435.5"/><path d="M568.7,444.4H576.7M572.7,440.4V448.4"/><path d="M496.0,441.9H504.0M500.0,437.9V445.9"/><path d="M569.6,437.9H577.6M573.6,433.9V441.9"/><path d="M517.6,419.5H525.6M521.6,415.5V423.5"/><path d="M537.9,434.3H545.9M541.9,430.3V438.3"/><path d="M508.6,420.4H516.6M512.6,416.4V424.4"/><path d="M546.9,421.7H554.9M550.9,417.7V425.7"/><path d="M510.4,420.6H518.4M514.4,416.6V424.6"/><path d="M488.4,435.5H496.4M492.4,431.5V439.5"/><path d="M496.3,433.3H504.3M500.3,429.3V437.3"/><path d="M492.0,435.0H500.0M496.0,431.0V439.0"/><path d="M497.8,436.9H505.8M501.8,432.9V440.9"/><path d="M506.1,434.7H514.1M510.1,430.7V438.7"/><path d="M492.7,437.7H500.7M496.7,433.7V441.7"/><path d="M506.1,435.0H514.1M510.1,431.0V439.0"/><path d="M494.4,429.1H502.4M498.4,425.1V433.1"/><path d="M500.0,438.1H508.0M504.0,434.1V442.1"/><path d="M487.5,434.1H495.5M491.5,430.1V438.1"/><path d="M498.0,436.3H506.0M502.0,432.3V440.3"/><path d="M490.8,432.9H498.8M494.8,428.9V436.9"/><path d="M671.4,425.6H679.4M675.4,421.6V429.6"/><path d="M685.2,424.9H693.2M689.2,420.9V428.9"/><path d="M677.5,436.4H685.5M681.5,432.4V440.4"/><path d="M674.3,434.0H682.3M678.3,430.0V438.0"/><path d="M669.8,432.6H677.8M673.8,428.6V436.6"/><path d="M667.7,425.6H675.7M671.7,421.6V429.6"/><path d="M683.1,429.1H691.1M687.1,425.1V433.1"/><path d="M669.1,432.0H677.1M673.1,428.0V436.0"/><path d="M674.3,431.6H682.3M678.3,427.6V435.6"/><path d="M670.1,435.5H678.1M674.1,431.5V439.5"/><path d="M678.7,438.2H686.7M682.7,434.2V442.2"/><path d="M676.1,435.7H684.1M680.1,431.7V439.7"/><path d="M681.0,433.8H689.0M685.0,429.8V437.8"/><path d="M673.7,435.8H681.7M677.7,431.8V439.8"/><path d="M676.1,428.0H684.1M680.1,424.0V432.0"/><path d="M679.1,439.3H687.1M683.1,435.3V443.3"/><path d="M677.1,437.0H685.1M681.1,433.0V441.0"/><path d="M672.1,423.5H680.1M676.1,419.5V427.5"/><path d="M682.0,436.6H690.0M686.0,432.6V440.6"/><path d="M676.4,431.1H684.4M680.4,427.1V435.1"/><path d="M675.1,429.3H683.1M679.1,425.3V433.3"/><path d="M672.0,431.2H680.0M676.0,427.2V435.2"/><path d="M679.3,436.0H687.3M683.3,432.0V440.0"/><path d="M672.3,428.9H680.3M676.3,424.9V432.9"/><path d="M676.1,426.1H684.1M680.1,422.1V430.1"/><path d="M738.3,423.9H746.3M742.3,419.9V427.9"/><path d="M741.9,429.2H749.9M745.9,425.2V433.2"/><path d="M741.8,427.2H749.8M745.8,423.2V431.2"/><path d="M735.7,431.7H743.7M739.7,427.7V435.7"/><path d="M750.6,429.3H758.6M754.6,425.3V433.3"/><path d="M728.5,422.9H736.5M732.5,418.9V426.9"/><path d="M733.5,421.7H741.5M737.5,417.7V425.7"/><path d="M747.8,426.4H755.8M751.8,422.4V430.4"/><path d="M733.3,439.7H741.3M737.3,435.7V443.7"/><path d="M730.9,431.2H738.9M734.9,427.2V435.2"/><path d="M737.4,424.4H745.4M741.4,420.4V428.4"/><path d="M742.3,422.6H750.3M746.3,418.6V426.6"/><path d="M735.8,430.7H743.8M739.8,426.7V434.7"/><path d="M743.6,431.3H751.6M747.6,427.3V435.3"/><path d="M744.1,430.6H752.1M748.1,426.6V434.6"/><path d="M733.2,432.4H741.2M737.2,428.4V436.4"/><path d="M747.1,432.5H755.1M751.1,428.5V436.5"/><path d="M751.4,424.6H759.4M755.4,420.6V428.6"/><path d="M735.8,422.7H743.8M739.8,418.7V426.7"/><path d="M742.4,440.3H750.4M746.4,436.3V444.3"/><path d="M736.9,431.4H744.9M740.9,427.4V435.4"/><path d="M733.5,427.5H741.5M737.5,423.5V431.5"/><path d="M740.0,422.4H748.0M744.0,418.4V426.4"/><path d="M737.1,428.1H745.1M741.1,424.1V432.1"/><path d="M746.8,428.9H754.8M750.8,424.9V432.9"/><path d="M732.5,423.6H740.5M736.5,419.6V427.6"/><path d="M742.0,431.8H750.0M746.0,427.8V435.8"/><path d="M738.9,427.0H746.9M742.9,423.0V431.0"/><path d="M746.8,422.8H754.8M750.8,418.8V426.8"/><path d="M744.4,430.2H752.4M748.4,426.2V434.2"/><path d="M602.5,420.2H610.5M606.5,416.2V424.2"/><path d="M597.8,420.0H605.8M601.8,416.0V424.0"/><path d="M601.1,428.4H609.1M605.1,424.4V432.4"/><path d="M597.7,428.8H605.7M601.7,424.8V432.8"/><path d="M600.0,429.8H608.0M604.0,425.8V433.8"/><path d="M597.8,419.6H605.8M601.8,415.6V423.6"/><path d="M604.6,427.1H612.6M608.6,423.1V431.1"/><path d="M667.3,412.0H675.3M671.3,408.0V416.0"/><path d="M689.2,439.4H697.2M693.2,435.4V443.4"/><path d="M628.5,404.8H636.5M632.5,400.8V408.8"/><path d="M680.6,428.1H688.6M684.6,424.1V432.1"/><path d="M601.9,421.3H609.9M605.9,417.3V425.3"/><path d="M687.7,428.5H695.7M691.7,424.5V432.5"/><path d="M689.9,408.5H697.9M693.9,404.5V412.5"/><path d="M661.7,413.4H669.7M665.7,409.4V417.4"/><path d="M648.8,406.0H656.8M652.8,402.0V410.0"/><path d="M694.5,435.3H702.5M698.5,431.3V439.3"/><path d="M608.6,414.2H616.6M612.6,410.2V418.2"/><path d="M619.0,403.9H627.0M623.0,399.9V407.9"/><path d="M692.1,400.8H700.1M696.1,396.8V404.8"/><path d="M694.9,400.7H702.9M698.9,396.7V404.7"/><path d="M671.0,409.5H679.0M675.0,405.5V413.5"/><path d="M616.4,421.6H624.4M620.4,417.6V425.6"/><path d="M652.2,426.5H660.2M656.2,422.5V430.5"/><path d="M683.1,401.2H691.1M687.1,397.2V405.2"/><path d="M646.5,431.3H654.5M650.5,427.3V435.3"/><path d="M619.6,432.9H627.6M623.6,428.9V436.9"/><path d="M677.6,406.7H685.6M681.6,402.7V410.7"/><path d="M623.7,414.1H631.7M627.7,410.1V418.1"/><path d="M654.6,423.1H662.6M658.6,419.1V427.1"/><path d="M681.7,424.5H689.7M685.7,420.5V428.5"/><path d="M609.7,419.2H617.7M613.7,415.2V423.2"/><path d="M636.6,433.2H644.6M640.6,429.2V437.2"/><path d="M679.7,417.8H687.7M683.7,413.8V421.8"/><path d="M650.5,411.7H658.5M654.5,407.7V415.7"/><path d="M621.3,411.4H629.3M625.3,407.4V415.4"/></g>
<rect x="441.6" y="290.5" width="336.6" height="226.5" fill="none" stroke="#2c2c2c" stroke-width="1.4"/>
<path d="M441.6,494.4h6.5 M441.6,471.7h6.5 M441.6,449.1h6.5 M441.6,426.4h6.5 M441.6,403.8h6.5 M441.6,381.1h6.5 M441.6,358.4h6.5 M441.6,335.8h6.5 M441.6,313.1h6.5 M479.0,517.0v-6.5 M516.4,517.0v-6.5 M553.8,517.0v-6.5 M591.2,517.0v-6.5 M628.6,517.0v-6.5 M666.0,517.0v-6.5 M703.4,517.0v-6.5 M740.8,517.0v-6.5" stroke="#2c2c2c" stroke-width="1.3"/>
<text transform="translate(434.8,522.6) scale(1.1,1)" font-size="11.4" fill="#222" stroke="#222" stroke-width="0.15" text-anchor="end">0</text>
<text transform="translate(434.8,500.0) scale(1.1,1)" font-size="11.4" fill="#222" stroke="#222" stroke-width="0.15" text-anchor="end">2</text>
<text transform="translate(434.8,477.3) scale(1.1,1)" font-size="11.4" fill="#222" stroke="#222" stroke-width="0.15" text-anchor="end">4</text>
<text transform="translate(434.8,454.7) scale(1.1,1)" font-size="11.4" fill="#222" stroke="#222" stroke-width="0.15" text-anchor="end">6</text>
<text transform="translate(434.8,432.0) scale(1.1,1)" font-size="11.4" fill="#222" stroke="#222" stroke-width="0.15" text-anchor="end">8</text>
<text transform="translate(434.8,409.4) scale(1.1,1)" font-size="11.4" fill="#222" stroke="#222" stroke-width="0.15" text-anchor="end">10</text>
<text transform="translate(434.8,386.7) scale(1.1,1)" font-size="11.4" fill="#222" stroke="#222" stroke-width="0.15" text-anchor="end">12</text>
<text transform="translate(434.8,364.1) scale(1.1,1)" font-size="11.4" fill="#222" stroke="#222" stroke-width="0.15" text-anchor="end">14</text>
<text transform="translate(434.8,341.4) scale(1.1,1)" font-size="11.4" fill="#222" stroke="#222" stroke-width="0.15" text-anchor="end">16</text>
<text transform="translate(434.8,318.8) scale(1.1,1)" font-size="11.4" fill="#222" stroke="#222" stroke-width="0.15" text-anchor="end">18</text>
<text transform="translate(434.8,296.1) scale(1.1,1)" font-size="11.4" fill="#222" stroke="#222" stroke-width="0.15" text-anchor="end">20</text>
<text transform="translate(446.6,534.4) scale(1.1,1)" font-size="11.4" fill="#222" stroke="#222" stroke-width="0.15" text-anchor="middle">2000</text>
<text transform="translate(484.0,534.4) scale(1.1,1)" font-size="11.4" fill="#222" stroke="#222" stroke-width="0.15" text-anchor="middle">3000</text>
<text transform="translate(521.4,534.4) scale(1.1,1)" font-size="11.4" fill="#222" stroke="#222" stroke-width="0.15" text-anchor="middle">4000</text>
<text transform="translate(558.8,534.4) scale(1.1,1)" font-size="11.4" fill="#222" stroke="#222" stroke-width="0.15" text-anchor="middle">5000</text>
<text transform="translate(596.2,534.4) scale(1.1,1)" font-size="11.4" fill="#222" stroke="#222" stroke-width="0.15" text-anchor="middle">6000</text>
<text transform="translate(633.6,534.4) scale(1.1,1)" font-size="11.4" fill="#222" stroke="#222" stroke-width="0.15" text-anchor="middle">7000</text>
<text transform="translate(671.0,534.4) scale(1.1,1)" font-size="11.4" fill="#222" stroke="#222" stroke-width="0.15" text-anchor="middle">8000</text>
<text transform="translate(708.4,534.4) scale(1.1,1)" font-size="11.4" fill="#222" stroke="#222" stroke-width="0.15" text-anchor="middle">9000</text>
<text transform="translate(745.8,534.4) scale(1.1,1)" font-size="11.4" fill="#222" stroke="#222" stroke-width="0.15" text-anchor="middle">10000</text>
<text transform="translate(783.2,534.4) scale(1.1,1)" font-size="11.4" fill="#222" stroke="#222" stroke-width="0.15" text-anchor="middle">11000</text>
<text x="448.1" y="308.7" font-size="20" font-weight="bold" fill="#111">e</text>
<text transform="translate(712.7,307.5) scale(1.1,1)" font-size="14" font-weight="bold" textLength="53.00" lengthAdjust="spacing" fill="#1f8fca">Honshu</text>
<text transform="translate(416.4,390.1) rotate(-90) scale(1.12,1)" font-size="14.2" font-weight="bold" fill="#111" text-anchor="middle">V/Sc</text>
<text transform="translate(609.1,554.3) scale(1.13,1)" font-size="14.2" font-weight="bold" fill="#111" text-anchor="middle">Ti(ppm)</text>
<path d="M848.40,455.21L901.50,438.60C903.23,437.42 908.29,433.63 911.89,431.48C915.48,429.34 917.49,428.30 923.09,425.72C928.69,423.14 939.27,418.57 945.50,416.00C951.72,413.44 953.90,412.56 960.43,410.35C966.97,408.15 977.24,404.82 984.71,402.78C992.18,400.75 998.71,399.45 1005.25,398.15C1011.78,396.85 1018.63,395.70 1023.92,394.99C1029.21,394.27 1032.45,394.12 1036.99,393.86C1041.53,393.59 1048.82,393.48 1051.18,393.40" fill="none" stroke="#c8202c" stroke-width="1.6" stroke-linejoin="round"/>
<path d="M848.40,455.55C851.51,455.08 860.85,453.67 867.07,452.73C873.30,451.79 880.01,450.90 885.74,449.90C891.48,448.91 898.88,447.27 901.50,446.74C903.23,446.27 908.29,444.82 911.89,443.91C915.48,443.01 918.11,442.20 923.09,441.32C928.07,440.43 935.54,439.32 941.76,438.60C947.99,437.89 954.21,437.36 960.43,437.02C966.66,436.68 972.88,436.59 979.11,436.57C985.33,436.55 991.55,436.68 997.78,436.91C1004.00,437.13 1010.23,437.49 1016.45,437.93C1022.67,438.36 1028.90,438.79 1035.12,439.51C1041.35,440.22 1047.57,441.35 1053.79,442.22C1060.02,443.09 1067.24,444.03 1072.47,444.71C1077.69,445.38 1083.05,446.02 1085.16,446.29" fill="none" stroke="#e8902c" stroke-width="1.6" stroke-linejoin="round"/>
<path d="M848.40,455.78C851.51,455.70 860.85,455.38 867.07,455.33C873.30,455.27 879.52,455.31 885.74,455.44C891.97,455.57 898.19,455.76 904.42,456.12C910.64,456.48 916.86,457.08 923.09,457.59C929.31,458.10 935.54,458.59 941.76,459.17C947.99,459.75 954.21,460.36 960.43,461.09C966.66,461.83 972.88,462.71 979.11,463.58C985.33,464.44 991.55,465.44 997.78,466.29C1004.00,467.14 1010.23,467.91 1016.45,468.66C1022.67,469.42 1028.90,470.13 1035.12,470.81C1041.35,471.49 1047.57,472.15 1053.79,472.73C1060.02,473.31 1067.99,473.94 1072.47,474.31C1076.95,474.69 1079.31,474.88 1080.68,474.99" fill="none" stroke="#f2e430" stroke-width="1.6" stroke-linejoin="round"/>
<path d="M848.40,460.30C851.51,460.68 860.85,461.75 867.07,462.56C873.30,463.37 879.52,464.25 885.74,465.16C891.97,466.06 898.19,466.97 904.42,467.98C910.64,469.00 916.86,470.02 923.09,471.26C929.31,472.50 935.54,474.03 941.76,475.44C947.99,476.85 954.21,478.38 960.43,479.74C966.66,481.09 972.88,482.47 979.11,483.58C985.33,484.69 991.55,485.61 997.78,486.40C1004.00,487.19 1010.23,487.78 1016.45,488.32C1022.67,488.87 1028.90,489.30 1035.12,489.68C1041.35,490.06 1047.57,490.34 1053.79,490.58C1060.02,490.83 1067.21,491.02 1072.47,491.15C1077.73,491.28 1083.20,491.34 1085.35,491.37" fill="none" stroke="#1e9ed8" stroke-width="1.6" stroke-linejoin="round"/>
<path d="M848.40,463.46C851.51,464.59 860.85,468.13 867.07,470.24C873.30,472.35 879.52,474.27 885.74,476.12C891.97,477.97 898.19,479.74 904.42,481.32C910.64,482.90 916.86,484.27 923.09,485.61C929.31,486.95 935.54,488.21 941.76,489.34C947.99,490.47 954.21,491.43 960.43,492.39C966.66,493.35 972.88,494.28 979.11,495.10C985.33,495.93 991.55,496.72 997.78,497.36C1004.00,498.00 1010.23,498.51 1016.45,498.95C1022.67,499.38 1028.90,499.70 1035.12,499.96C1041.35,500.23 1047.57,500.40 1053.79,500.53C1060.02,500.66 1067.21,500.72 1072.47,500.75C1077.73,500.79 1083.20,500.75 1085.35,500.75" fill="none" stroke="#2a2a78" stroke-width="1.6" stroke-linejoin="round"/>
<text transform="translate(1059.0,397.2) scale(1.1,1)" font-size="11.4" letter-spacing="0.1" fill="#5a3434" stroke="#5a3434" stroke-width="0.4">QFM+2</text>
<text transform="translate(1085.4,448.6) scale(1.1,1)" font-size="11.4" letter-spacing="0.1" fill="#66563c" stroke="#66563c" stroke-width="0.4">QFM+1</text>
<text transform="translate(1086.2,477.2) scale(1.1,1)" font-size="11.4" letter-spacing="0.1" fill="#8c8a56" stroke="#8c8a56" stroke-width="0.4">QFM</text>
<text transform="translate(1086.2,491.2) scale(1.1,1)" font-size="11.4" letter-spacing="0.1" fill="#2e6488" stroke="#2e6488" stroke-width="0.4">QFM-1</text>
<text transform="translate(1088.0,506.8) scale(1.1,1)" font-size="11.4" letter-spacing="0.1" fill="#2c2c4c" stroke="#2c2c4c" stroke-width="0.4">QFM-2</text>
<g fill="#98cca2" stroke="#2e5a3e" stroke-width="0.8"><rect x="930.9" y="383.6" width="7.6" height="7.6"/><rect x="946.4" y="387.8" width="7.6" height="7.6"/><rect x="959.1" y="386.4" width="7.6" height="7.6"/><rect x="915.3" y="391.4" width="7.6" height="7.6"/><rect x="912.9" y="394.9" width="7.6" height="7.6"/><rect x="915.3" y="399.8" width="7.6" height="7.6"/><rect x="937.2" y="394.2" width="7.6" height="7.6"/><rect x="951.3" y="392.1" width="7.6" height="7.6"/><rect x="933.0" y="399.1" width="7.6" height="7.6"/><rect x="953.4" y="399.1" width="7.6" height="7.6"/><rect x="913.2" y="406.2" width="7.6" height="7.6"/><rect x="924.5" y="404.8" width="7.6" height="7.6"/><rect x="931.6" y="405.5" width="7.6" height="7.6"/><rect x="944.3" y="406.9" width="7.6" height="7.6"/><rect x="952.0" y="406.9" width="7.6" height="7.6"/><rect x="959.1" y="406.9" width="7.6" height="7.6"/><rect x="908.3" y="411.8" width="7.6" height="7.6"/><rect x="921.7" y="414.0" width="7.6" height="7.6"/><rect x="940.0" y="415.4" width="7.6" height="7.6"/><rect x="957.7" y="413.3" width="7.6" height="7.6"/><rect x="912.5" y="416.8" width="7.6" height="7.6"/><rect x="905.4" y="421.0" width="7.6" height="7.6"/><rect x="918.9" y="422.4" width="7.6" height="7.6"/><rect x="926.6" y="419.6" width="7.6" height="7.6"/><rect x="934.4" y="420.3" width="7.6" height="7.6"/><rect x="946.4" y="420.3" width="7.6" height="7.6"/><rect x="953.4" y="419.6" width="7.6" height="7.6"/><rect x="959.1" y="419.6" width="7.6" height="7.6"/><rect x="894.8" y="423.1" width="7.6" height="7.6"/><rect x="879.3" y="430.6" width="7.6" height="7.6"/><rect x="890.6" y="434.4" width="7.6" height="7.6"/><rect x="905.4" y="433.7" width="7.6" height="7.6"/><rect x="913.2" y="432.3" width="7.6" height="7.6"/><rect x="925.9" y="430.2" width="7.6" height="7.6"/><rect x="931.6" y="428.1" width="7.6" height="7.6"/><rect x="940.0" y="426.0" width="7.6" height="7.6"/><rect x="955.6" y="430.9" width="7.6" height="7.6"/><rect x="865.9" y="435.9" width="7.6" height="7.6"/><rect x="849.7" y="443.6" width="7.6" height="7.6"/><rect x="861.0" y="443.6" width="7.6" height="7.6"/><rect x="870.1" y="445.0" width="7.6" height="7.6"/><rect x="870.1" y="450.7" width="7.6" height="7.6"/><rect x="849.7" y="453.5" width="7.6" height="7.6"/><rect x="868.0" y="456.3" width="7.6" height="7.6"/><rect x="883.6" y="447.9" width="7.6" height="7.6"/><rect x="889.9" y="438.0" width="7.6" height="7.6"/><rect x="894.8" y="442.2" width="7.6" height="7.6"/><rect x="893.4" y="447.9" width="7.6" height="7.6"/><rect x="904.0" y="440.1" width="7.6" height="7.6"/><rect x="904.0" y="443.6" width="7.6" height="7.6"/><rect x="930.9" y="435.1" width="7.6" height="7.6"/><rect x="940.0" y="439.4" width="7.6" height="7.6"/><rect x="881.4" y="488.8" width="7.6" height="7.6"/><rect x="901.6" y="498.0" width="7.6" height="7.6"/><rect x="995.8" y="367.2" width="7.6" height="7.6"/><rect x="959.9" y="386.5" width="7.6" height="7.6"/><rect x="975.4" y="393.7" width="7.6" height="7.6"/><rect x="995.8" y="387.1" width="7.6" height="7.6"/><rect x="998.0" y="390.4" width="7.6" height="7.6"/><rect x="998.6" y="394.8" width="7.6" height="7.6"/><rect x="1003.6" y="394.8" width="7.6" height="7.6"/><rect x="995.8" y="400.3" width="7.6" height="7.6"/><rect x="998.0" y="403.6" width="7.6" height="7.6"/><rect x="998.0" y="409.1" width="7.6" height="7.6"/><rect x="1022.9" y="392.6" width="7.6" height="7.6"/><rect x="1040.5" y="389.8" width="7.6" height="7.6"/><rect x="1045.0" y="414.1" width="7.6" height="7.6"/><rect x="1045.0" y="431.8" width="7.6" height="7.6"/><rect x="968.8" y="409.7" width="7.6" height="7.6"/><rect x="975.9" y="411.3" width="7.6" height="7.6"/><rect x="987.0" y="409.7" width="7.6" height="7.6"/><rect x="982.0" y="414.7" width="7.6" height="7.6"/><rect x="962.7" y="420.2" width="7.6" height="7.6"/><rect x="967.1" y="425.7" width="7.6" height="7.6"/><rect x="975.9" y="418.0" width="7.6" height="7.6"/><rect x="987.0" y="416.9" width="7.6" height="7.6"/><rect x="979.8" y="426.8" width="7.6" height="7.6"/><rect x="955.0" y="430.7" width="7.6" height="7.6"/><rect x="941.7" y="430.1" width="7.6" height="7.6"/><rect x="948.3" y="425.7" width="7.6" height="7.6"/><rect x="946.7" y="416.9" width="7.6" height="7.6"/><rect x="925.8" y="405.1" width="7.6" height="7.6"/><rect x="915.0" y="430.7" width="7.6" height="7.6"/><rect x="933.4" y="426.5" width="7.6" height="7.6"/><rect x="938.9" y="431.9" width="7.6" height="7.6"/><rect x="942.3" y="400.7" width="7.6" height="7.6"/><rect x="954.5" y="413.0" width="7.6" height="7.6"/><rect x="923.8" y="409.2" width="7.6" height="7.6"/><rect x="958.0" y="411.2" width="7.6" height="7.6"/><rect x="959.7" y="436.1" width="7.6" height="7.6"/><rect x="918.7" y="397.3" width="7.6" height="7.6"/><rect x="916.2" y="423.6" width="7.6" height="7.6"/><rect x="913.0" y="412.5" width="7.6" height="7.6"/><rect x="948.2" y="396.9" width="7.6" height="7.6"/><rect x="928.2" y="407.5" width="7.6" height="7.6"/><rect x="912.8" y="412.5" width="7.6" height="7.6"/><rect x="927.8" y="417.7" width="7.6" height="7.6"/><rect x="935.6" y="422.8" width="7.6" height="7.6"/><rect x="953.4" y="406.2" width="7.6" height="7.6"/><rect x="929.1" y="414.4" width="7.6" height="7.6"/><rect x="909.0" y="435.0" width="7.6" height="7.6"/><rect x="924.7" y="422.1" width="7.6" height="7.6"/><rect x="910.9" y="401.6" width="7.6" height="7.6"/><rect x="949.7" y="435.4" width="7.6" height="7.6"/><rect x="950.5" y="432.3" width="7.6" height="7.6"/><rect x="906.2" y="401.7" width="7.6" height="7.6"/><rect x="904.3" y="404.2" width="7.6" height="7.6"/><rect x="916.3" y="416.0" width="7.6" height="7.6"/><rect x="934.7" y="427.4" width="7.6" height="7.6"/><rect x="950.7" y="398.8" width="7.6" height="7.6"/></g>
<rect x="848.4" y="290.8" width="336.1" height="226.0" fill="none" stroke="#2c2c2c" stroke-width="1.4"/>
<path d="M848.4,494.2h6.5 M848.4,471.6h6.5 M848.4,449.0h6.5 M848.4,426.4h6.5 M848.4,403.8h6.5 M848.4,381.2h6.5 M848.4,358.6h6.5 M848.4,336.0h6.5 M848.4,313.4h6.5 M885.7,516.8v-6.5 M923.1,516.8v-6.5 M960.4,516.8v-6.5 M997.8,516.8v-6.5 M1035.1,516.8v-6.5 M1072.5,516.8v-6.5 M1109.8,516.8v-6.5 M1147.2,516.8v-6.5" stroke="#2c2c2c" stroke-width="1.3"/>
<text transform="translate(841.6,522.4) scale(1.1,1)" font-size="11.4" fill="#222" stroke="#222" stroke-width="0.15" text-anchor="end">0</text>
<text transform="translate(841.6,499.8) scale(1.1,1)" font-size="11.4" fill="#222" stroke="#222" stroke-width="0.15" text-anchor="end">2</text>
<text transform="translate(841.6,477.2) scale(1.1,1)" font-size="11.4" fill="#222" stroke="#222" stroke-width="0.15" text-anchor="end">4</text>
<text transform="translate(841.6,454.6) scale(1.1,1)" font-size="11.4" fill="#222" stroke="#222" stroke-width="0.15" text-anchor="end">6</text>
<text transform="translate(841.6,432.0) scale(1.1,1)" font-size="11.4" fill="#222" stroke="#222" stroke-width="0.15" text-anchor="end">8</text>
<text transform="translate(841.6,409.4) scale(1.1,1)" font-size="11.4" fill="#222" stroke="#222" stroke-width="0.15" text-anchor="end">10</text>
<text transform="translate(841.6,386.8) scale(1.1,1)" font-size="11.4" fill="#222" stroke="#222" stroke-width="0.15" text-anchor="end">12</text>
<text transform="translate(841.6,364.2) scale(1.1,1)" font-size="11.4" fill="#222" stroke="#222" stroke-width="0.15" text-anchor="end">14</text>
<text transform="translate(841.6,341.6) scale(1.1,1)" font-size="11.4" fill="#222" stroke="#222" stroke-width="0.15" text-anchor="end">16</text>
<text transform="translate(841.6,319.0) scale(1.1,1)" font-size="11.4" fill="#222" stroke="#222" stroke-width="0.15" text-anchor="end">18</text>
<text transform="translate(841.6,296.4) scale(1.1,1)" font-size="11.4" fill="#222" stroke="#222" stroke-width="0.15" text-anchor="end">20</text>
<text transform="translate(853.4,534.2) scale(1.1,1)" font-size="11.4" fill="#222" stroke="#222" stroke-width="0.15" text-anchor="middle">2000</text>
<text transform="translate(890.7,534.2) scale(1.1,1)" font-size="11.4" fill="#222" stroke="#222" stroke-width="0.15" text-anchor="middle">3000</text>
<text transform="translate(928.1,534.2) scale(1.1,1)" font-size="11.4" fill="#222" stroke="#222" stroke-width="0.15" text-anchor="middle">4000</text>
<text transform="translate(965.4,534.2) scale(1.1,1)" font-size="11.4" fill="#222" stroke="#222" stroke-width="0.15" text-anchor="middle">5000</text>
<text transform="translate(1002.8,534.2) scale(1.1,1)" font-size="11.4" fill="#222" stroke="#222" stroke-width="0.15" text-anchor="middle">6000</text>
<text transform="translate(1040.1,534.2) scale(1.1,1)" font-size="11.4" fill="#222" stroke="#222" stroke-width="0.15" text-anchor="middle">7000</text>
<text transform="translate(1077.5,534.2) scale(1.1,1)" font-size="11.4" fill="#222" stroke="#222" stroke-width="0.15" text-anchor="middle">8000</text>
<text transform="translate(1114.8,534.2) scale(1.1,1)" font-size="11.4" fill="#222" stroke="#222" stroke-width="0.15" text-anchor="middle">9000</text>
<text transform="translate(1152.2,534.2) scale(1.1,1)" font-size="11.4" fill="#222" stroke="#222" stroke-width="0.15" text-anchor="middle">10000</text>
<text transform="translate(1189.5,534.2) scale(1.1,1)" font-size="11.4" fill="#222" stroke="#222" stroke-width="0.15" text-anchor="middle">11000</text>
<text x="854.9" y="309.0" font-size="20" font-weight="bold" fill="#111">f</text>
<text transform="translate(1104.5,305.0) scale(1.1,1)" font-size="14" font-weight="bold" textLength="70.00" lengthAdjust="spacing" fill="#1f8fca">Kermadec</text>
<text transform="translate(823.0,388.5) rotate(-90) scale(1.12,1)" font-size="14.2" font-weight="bold" fill="#111" text-anchor="middle">V/Sc</text>
<text transform="translate(1015.5,552.7) scale(1.13,1)" font-size="14.2" font-weight="bold" fill="#111" text-anchor="middle">Ti(ppm)</text>
<path d="M43.60,739.40L96.80,722.73C98.53,721.54 103.59,717.74 107.20,715.58C110.80,713.43 112.81,712.39 118.42,709.80C124.03,707.21 134.63,702.62 140.87,700.05C147.10,697.48 149.29,696.59 155.83,694.38C162.38,692.17 172.67,688.82 180.15,686.78C187.63,684.74 194.18,683.43 200.73,682.13C207.27,680.83 214.13,679.67 219.43,678.95C224.73,678.24 227.97,678.09 232.53,677.82C237.08,677.56 244.37,677.44 246.74,677.37" fill="none" stroke="#c8202c" stroke-width="1.6" stroke-linejoin="round"/>
<path d="M43.60,739.74C46.72,739.26 56.07,737.85 62.31,736.90C68.54,735.96 75.26,735.07 81.01,734.07C86.76,733.07 94.17,731.42 96.80,730.89C98.53,730.42 103.59,728.96 107.20,728.06C110.80,727.15 113.43,726.34 118.42,725.45C123.41,724.56 130.89,723.45 137.13,722.73C143.36,722.01 149.60,721.48 155.83,721.14C162.07,720.80 168.30,720.70 174.54,720.69C180.77,720.67 187.01,720.80 193.24,721.03C199.48,721.25 205.71,721.61 211.95,722.05C218.19,722.48 224.42,722.92 230.66,723.63C236.89,724.35 243.13,725.49 249.36,726.36C255.60,727.23 262.83,728.17 268.07,728.85C273.30,729.53 278.67,730.17 280.79,730.44" fill="none" stroke="#e8902c" stroke-width="1.6" stroke-linejoin="round"/>
<path d="M43.60,739.96C46.72,739.89 56.07,739.57 62.31,739.51C68.54,739.45 74.78,739.49 81.01,739.62C87.25,739.76 93.48,739.95 99.72,740.30C105.95,740.66 112.19,741.27 118.42,741.78C124.66,742.29 130.89,742.78 137.13,743.37C143.36,743.95 149.60,744.56 155.83,745.29C162.07,746.03 168.30,746.92 174.54,747.79C180.77,748.66 187.01,749.66 193.24,750.51C199.48,751.36 205.71,752.14 211.95,752.89C218.19,753.65 224.42,754.37 230.66,755.05C236.89,755.73 243.13,756.39 249.36,756.97C255.60,757.56 263.58,758.18 268.07,758.56C272.56,758.94 274.93,759.13 276.30,759.24" fill="none" stroke="#f2e430" stroke-width="1.6" stroke-linejoin="round"/>
<path d="M43.60,744.50C46.72,744.88 56.07,745.96 62.31,746.77C68.54,747.58 74.78,748.47 81.01,749.38C87.25,750.28 93.48,751.19 99.72,752.21C105.95,753.23 112.19,754.25 118.42,755.50C124.66,756.75 130.89,758.28 137.13,759.70C143.36,761.11 149.60,762.64 155.83,764.00C162.07,765.37 168.30,766.75 174.54,767.86C180.77,768.98 187.01,769.90 193.24,770.70C199.48,771.49 205.71,772.08 211.95,772.62C218.19,773.17 224.42,773.61 230.66,773.98C236.89,774.36 243.13,774.65 249.36,774.89C255.60,775.14 262.80,775.33 268.07,775.46C273.34,775.59 278.82,775.65 280.97,775.69" fill="none" stroke="#1e9ed8" stroke-width="1.6" stroke-linejoin="round"/>
<path d="M43.60,747.68C46.72,748.81 56.07,752.36 62.31,754.48C68.54,756.60 74.78,758.52 81.01,760.38C87.25,762.23 93.48,764.00 99.72,765.59C105.95,767.18 112.19,768.56 118.42,769.90C124.66,771.24 130.89,772.51 137.13,773.64C143.36,774.78 149.60,775.74 155.83,776.71C162.07,777.67 168.30,778.60 174.54,779.43C180.77,780.26 187.01,781.05 193.24,781.70C199.48,782.34 205.71,782.85 211.95,783.28C218.19,783.72 224.42,784.04 230.66,784.30C236.89,784.57 243.13,784.74 249.36,784.87C255.60,785.00 262.80,785.06 268.07,785.10C273.34,785.13 278.82,785.10 280.97,785.10" fill="none" stroke="#2a2a78" stroke-width="1.6" stroke-linejoin="round"/>
<text transform="translate(249.5,680.8) scale(1.1,1)" font-size="11.4" letter-spacing="0.1" fill="#5a3434" stroke="#5a3434" stroke-width="0.4">QFM+2</text>
<text transform="translate(280.6,733.0) scale(1.1,1)" font-size="11.4" letter-spacing="0.1" fill="#66563c" stroke="#66563c" stroke-width="0.4">QFM+1</text>
<text transform="translate(281.4,761.6) scale(1.1,1)" font-size="11.4" letter-spacing="0.1" fill="#8c8a56" stroke="#8c8a56" stroke-width="0.4">QFM</text>
<text transform="translate(281.4,775.6) scale(1.1,1)" font-size="11.4" letter-spacing="0.1" fill="#2e6488" stroke="#2e6488" stroke-width="0.4">QFM-1</text>
<text transform="translate(283.2,791.2) scale(1.1,1)" font-size="11.4" letter-spacing="0.1" fill="#2c2c4c" stroke="#2c2c4c" stroke-width="0.4">QFM-2</text>
<g fill="#b8dcf0" stroke="#3e6e94" stroke-width="0.75"><circle cx="107.3" cy="658.0" r="3.9"/><circle cx="147.7" cy="657.0" r="3.9"/><circle cx="158.2" cy="663.0" r="3.9"/><circle cx="190.0" cy="660.0" r="3.9"/><circle cx="219.0" cy="658.3" r="3.9"/><circle cx="109.5" cy="674.1" r="3.9"/><circle cx="129.8" cy="677.6" r="3.9"/><circle cx="149.8" cy="680.1" r="3.9"/><circle cx="169.8" cy="682.9" r="3.9"/><circle cx="75.8" cy="698.7" r="3.9"/><circle cx="156.9" cy="696.2" r="3.9"/><circle cx="156.9" cy="700.6" r="3.9"/><circle cx="183.4" cy="694.5" r="3.9"/><circle cx="181.1" cy="702.1" r="3.9"/><circle cx="208.3" cy="690.7" r="3.9"/><circle cx="144.8" cy="708.8" r="3.9"/><circle cx="159.7" cy="708.1" r="3.9"/><circle cx="163.5" cy="708.1" r="3.9"/><circle cx="167.9" cy="708.1" r="3.9"/><circle cx="181.1" cy="711.9" r="3.9"/><circle cx="196.3" cy="706.9" r="3.9"/><circle cx="201.3" cy="706.9" r="3.9"/><circle cx="205.7" cy="707.9" r="3.9"/><circle cx="212.7" cy="709.4" r="3.9"/><circle cx="161.0" cy="718.0" r="3.9"/><circle cx="192.5" cy="717.0" r="3.9"/><circle cx="199.4" cy="718.0" r="3.9"/><circle cx="185.9" cy="722.3" r="3.9"/><circle cx="208.3" cy="722.0" r="3.9"/><circle cx="218.4" cy="723.5" r="3.9"/><circle cx="109.0" cy="715.7" r="3.9"/><circle cx="120.6" cy="709.4" r="3.9"/><circle cx="121.2" cy="714.4" r="3.9"/><circle cx="128.1" cy="714.4" r="3.9"/><circle cx="117.4" cy="716.3" r="3.9"/><circle cx="126.2" cy="717.6" r="3.9"/><circle cx="124.4" cy="710.7" r="3.9"/><circle cx="120.6" cy="725.2" r="3.9"/><circle cx="125.6" cy="726.4" r="3.9"/><circle cx="123.1" cy="729.8" r="3.9"/><circle cx="100.4" cy="727.7" r="3.9"/><circle cx="91.5" cy="731.5" r="3.9"/><circle cx="96.0" cy="737.2" r="3.9"/><circle cx="246.4" cy="667.0" r="3.9"/><circle cx="223.8" cy="676.9" r="3.9"/><circle cx="244.1" cy="683.6" r="3.9"/><circle cx="246.6" cy="688.0" r="3.9"/><circle cx="248.5" cy="691.9" r="3.9"/><circle cx="226.0" cy="700.1" r="3.9"/><circle cx="226.0" cy="707.9" r="3.9"/><circle cx="239.8" cy="703.5" r="3.9"/><circle cx="237.3" cy="706.0" r="3.9"/><circle cx="236.9" cy="709.4" r="3.9"/><circle cx="252.9" cy="705.2" r="3.9"/><circle cx="268.9" cy="704.0" r="3.9"/><circle cx="270.8" cy="708.9" r="3.9"/><circle cx="277.6" cy="709.8" r="3.9"/><circle cx="239.8" cy="717.6" r="3.9"/><circle cx="246.1" cy="719.0" r="3.9"/><circle cx="253.2" cy="717.6" r="3.9"/><circle cx="239.8" cy="723.9" r="3.9"/><circle cx="244.1" cy="724.9" r="3.9"/><circle cx="249.5" cy="725.4" r="3.9"/><circle cx="241.7" cy="730.7" r="3.9"/><circle cx="250.9" cy="730.2" r="3.9"/><circle cx="244.1" cy="740.9" r="3.9"/></g>
<rect x="43.6" y="574.4" width="336.7" height="226.8" fill="none" stroke="#2c2c2c" stroke-width="1.4"/>
<path d="M43.6,778.5h6.5 M43.6,755.8h6.5 M43.6,733.2h6.5 M43.6,710.5h6.5 M43.6,687.8h6.5 M43.6,665.1h6.5 M43.6,642.4h6.5 M43.6,619.8h6.5 M43.6,597.1h6.5 M81.0,801.2v-6.5 M118.4,801.2v-6.5 M155.8,801.2v-6.5 M193.2,801.2v-6.5 M230.7,801.2v-6.5 M268.1,801.2v-6.5 M305.5,801.2v-6.5 M342.9,801.2v-6.5" stroke="#2c2c2c" stroke-width="1.3"/>
<text transform="translate(36.8,806.8) scale(1.1,1)" font-size="11.4" fill="#222" stroke="#222" stroke-width="0.15" text-anchor="end">0</text>
<text transform="translate(36.8,784.1) scale(1.1,1)" font-size="11.4" fill="#222" stroke="#222" stroke-width="0.15" text-anchor="end">2</text>
<text transform="translate(36.8,761.4) scale(1.1,1)" font-size="11.4" fill="#222" stroke="#222" stroke-width="0.15" text-anchor="end">4</text>
<text transform="translate(36.8,738.8) scale(1.1,1)" font-size="11.4" fill="#222" stroke="#222" stroke-width="0.15" text-anchor="end">6</text>
<text transform="translate(36.8,716.1) scale(1.1,1)" font-size="11.4" fill="#222" stroke="#222" stroke-width="0.15" text-anchor="end">8</text>
<text transform="translate(36.8,693.4) scale(1.1,1)" font-size="11.4" fill="#222" stroke="#222" stroke-width="0.15" text-anchor="end">10</text>
<text transform="translate(36.8,670.7) scale(1.1,1)" font-size="11.4" fill="#222" stroke="#222" stroke-width="0.15" text-anchor="end">12</text>
<text transform="translate(36.8,648.0) scale(1.1,1)" font-size="11.4" fill="#222" stroke="#222" stroke-width="0.15" text-anchor="end">14</text>
<text transform="translate(36.8,625.4) scale(1.1,1)" font-size="11.4" fill="#222" stroke="#222" stroke-width="0.15" text-anchor="end">16</text>
<text transform="translate(36.8,602.7) scale(1.1,1)" font-size="11.4" fill="#222" stroke="#222" stroke-width="0.15" text-anchor="end">18</text>
<text transform="translate(36.8,580.0) scale(1.1,1)" font-size="11.4" fill="#222" stroke="#222" stroke-width="0.15" text-anchor="end">20</text>
<text transform="translate(48.6,818.6) scale(1.1,1)" font-size="11.4" fill="#222" stroke="#222" stroke-width="0.15" text-anchor="middle">2000</text>
<text transform="translate(86.0,818.6) scale(1.1,1)" font-size="11.4" fill="#222" stroke="#222" stroke-width="0.15" text-anchor="middle">3000</text>
<text transform="translate(123.4,818.6) scale(1.1,1)" font-size="11.4" fill="#222" stroke="#222" stroke-width="0.15" text-anchor="middle">4000</text>
<text transform="translate(160.8,818.6) scale(1.1,1)" font-size="11.4" fill="#222" stroke="#222" stroke-width="0.15" text-anchor="middle">5000</text>
<text transform="translate(198.2,818.6) scale(1.1,1)" font-size="11.4" fill="#222" stroke="#222" stroke-width="0.15" text-anchor="middle">6000</text>
<text transform="translate(235.7,818.6) scale(1.1,1)" font-size="11.4" fill="#222" stroke="#222" stroke-width="0.15" text-anchor="middle">7000</text>
<text transform="translate(273.1,818.6) scale(1.1,1)" font-size="11.4" fill="#222" stroke="#222" stroke-width="0.15" text-anchor="middle">8000</text>
<text transform="translate(310.5,818.6) scale(1.1,1)" font-size="11.4" fill="#222" stroke="#222" stroke-width="0.15" text-anchor="middle">9000</text>
<text transform="translate(347.9,818.6) scale(1.1,1)" font-size="11.4" fill="#222" stroke="#222" stroke-width="0.15" text-anchor="middle">10000</text>
<text transform="translate(385.3,818.6) scale(1.1,1)" font-size="11.4" fill="#222" stroke="#222" stroke-width="0.15" text-anchor="middle">11000</text>
<text x="50.1" y="592.6" font-size="20" font-weight="bold" fill="#111">g</text>
<text transform="translate(317.7,592.6) scale(1.1,1)" font-size="14" font-weight="bold" textLength="41.36" lengthAdjust="spacing" fill="#1f8fca">Kurile</text>
<text transform="translate(20.9,676.9) rotate(-90) scale(1.12,1)" font-size="14.2" font-weight="bold" fill="#111" text-anchor="middle">V/Sc</text>
<text transform="translate(213.6,841.3) scale(1.13,1)" font-size="14.2" font-weight="bold" fill="#111" text-anchor="middle">Ti(ppm)</text>
<path d="M442.20,738.01L495.35,721.37C497.08,720.18 502.14,716.38 505.74,714.23C509.34,712.08 511.35,711.05 516.96,708.46C522.56,705.88 533.15,701.29 539.38,698.73C545.61,696.16 547.79,695.27 554.33,693.07C560.87,690.86 571.15,687.52 578.63,685.48C586.10,683.44 592.65,682.14 599.19,680.84C605.73,679.54 612.58,678.39 617.88,677.67C623.17,676.95 626.41,676.80 630.96,676.54C635.51,676.27 642.79,676.16 645.16,676.09" fill="none" stroke="#c8202c" stroke-width="1.6" stroke-linejoin="round"/>
<path d="M442.20,738.35C445.31,737.87 454.66,736.46 460.89,735.52C467.12,734.57 473.83,733.69 479.58,732.69C485.32,731.69 492.72,730.04 495.35,729.52C497.08,729.04 502.14,727.59 505.74,726.69C509.34,725.78 511.97,724.97 516.96,724.08C521.94,723.20 529.41,722.08 535.64,721.37C541.87,720.65 548.10,720.12 554.33,719.78C560.56,719.44 566.79,719.35 573.02,719.33C579.25,719.31 585.48,719.44 591.71,719.67C597.94,719.89 604.17,720.25 610.40,720.69C616.63,721.12 622.86,721.55 629.09,722.27C635.32,722.99 641.55,724.12 647.78,724.99C654.01,725.86 661.23,726.80 666.47,727.48C671.70,728.16 677.06,728.80 679.18,729.06" fill="none" stroke="#e8902c" stroke-width="1.6" stroke-linejoin="round"/>
<path d="M442.20,738.57C445.31,738.50 454.66,738.18 460.89,738.12C467.12,738.06 473.35,738.10 479.58,738.23C485.81,738.36 492.04,738.55 498.27,738.91C504.50,739.27 510.73,739.87 516.96,740.38C523.19,740.89 529.41,741.38 535.64,741.97C541.87,742.55 548.10,743.16 554.33,743.89C560.56,744.63 566.79,745.51 573.02,746.38C579.25,747.25 585.48,748.25 591.71,749.10C597.94,749.95 604.17,750.72 610.40,751.48C616.63,752.23 622.86,752.95 629.09,753.63C635.32,754.31 641.55,754.97 647.78,755.55C654.01,756.14 661.98,756.76 666.47,757.14C670.95,757.51 673.32,757.70 674.69,757.82" fill="none" stroke="#f2e430" stroke-width="1.6" stroke-linejoin="round"/>
<path d="M442.20,743.10C445.31,743.48 454.66,744.55 460.89,745.36C467.12,746.18 473.35,747.06 479.58,747.97C485.81,748.87 492.04,749.78 498.27,750.80C504.50,751.82 510.73,752.84 516.96,754.08C523.19,755.33 529.41,756.85 535.64,758.27C541.87,759.68 548.10,761.21 554.33,762.57C560.56,763.93 566.79,765.31 573.02,766.42C579.25,767.53 585.48,768.46 591.71,769.25C597.94,770.04 604.17,770.63 610.40,771.17C616.63,771.72 622.86,772.15 629.09,772.53C635.32,772.91 641.55,773.19 647.78,773.44C654.01,773.68 661.20,773.87 666.47,774.00C671.73,774.14 677.21,774.19 679.36,774.23" fill="none" stroke="#1e9ed8" stroke-width="1.6" stroke-linejoin="round"/>
<path d="M442.20,746.27C445.31,747.40 454.66,750.95 460.89,753.06C467.12,755.17 473.35,757.10 479.58,758.95C485.81,760.80 492.04,762.57 498.27,764.16C504.50,765.74 510.73,767.12 516.96,768.46C523.19,769.80 529.41,771.06 535.64,772.19C541.87,773.32 548.10,774.29 554.33,775.25C560.56,776.21 566.79,777.14 573.02,777.97C579.25,778.80 585.48,779.59 591.71,780.23C597.94,780.87 604.17,781.38 610.40,781.81C616.63,782.25 622.86,782.57 629.09,782.83C635.32,783.10 641.55,783.27 647.78,783.40C654.01,783.53 661.20,783.59 666.47,783.63C671.73,783.66 677.21,783.63 679.36,783.63" fill="none" stroke="#2a2a78" stroke-width="1.6" stroke-linejoin="round"/>
<text transform="translate(647.9,679.7) scale(1.1,1)" font-size="11.4" letter-spacing="0.1" fill="#5a3434" stroke="#5a3434" stroke-width="0.4">QFM+2</text>
<text transform="translate(679.2,731.5) scale(1.1,1)" font-size="11.4" letter-spacing="0.1" fill="#66563c" stroke="#66563c" stroke-width="0.4">QFM+1</text>
<text transform="translate(680.0,760.1) scale(1.1,1)" font-size="11.4" letter-spacing="0.1" fill="#8c8a56" stroke="#8c8a56" stroke-width="0.4">QFM</text>
<text transform="translate(680.0,774.1) scale(1.1,1)" font-size="11.4" letter-spacing="0.1" fill="#2e6488" stroke="#2e6488" stroke-width="0.4">QFM-1</text>
<text transform="translate(681.8,789.7) scale(1.1,1)" font-size="11.4" letter-spacing="0.1" fill="#2c2c4c" stroke="#2c2c4c" stroke-width="0.4">QFM-2</text>
<g fill="#c9a3cb" stroke="#5a3c5c" stroke-width="0.8"><rect x="506.3" y="576.0" width="7.4" height="7.4"/><rect x="472.3" y="590.1" width="7.4" height="7.4"/><rect x="466.5" y="597.3" width="7.4" height="7.4"/><rect x="451.4" y="609.0" width="7.4" height="7.4"/><rect x="522.1" y="597.3" width="7.4" height="7.4"/><rect x="524.3" y="604.5" width="7.4" height="7.4"/><rect x="551.1" y="611.5" width="7.4" height="7.4"/><rect x="480.2" y="663.0" width="7.4" height="7.4"/><rect x="504.2" y="695.3" width="7.4" height="7.4"/><rect x="507.5" y="701.7" width="7.4" height="7.4"/><rect x="505.0" y="719.6" width="7.4" height="7.4"/><rect x="509.2" y="717.1" width="7.4" height="7.4"/><rect x="531.5" y="734.7" width="7.4" height="7.4"/><rect x="578.8" y="738.9" width="7.4" height="7.4"/><rect x="561.2" y="747.0" width="7.4" height="7.4"/><rect x="486.9" y="750.3" width="7.4" height="7.4"/><rect x="597.8" y="626.4" width="7.4" height="7.4"/><rect x="618.4" y="627.9" width="7.4" height="7.4"/><rect x="628.5" y="627.9" width="7.4" height="7.4"/><rect x="587.2" y="636.9" width="7.4" height="7.4"/><rect x="607.8" y="634.8" width="7.4" height="7.4"/><rect x="618.4" y="636.9" width="7.4" height="7.4"/><rect x="626.3" y="635.9" width="7.4" height="7.4"/><rect x="597.8" y="642.2" width="7.4" height="7.4"/><rect x="591.4" y="644.9" width="7.4" height="7.4"/><rect x="603.1" y="647.0" width="7.4" height="7.4"/><rect x="612.1" y="647.0" width="7.4" height="7.4"/><rect x="619.5" y="647.0" width="7.4" height="7.4"/><rect x="627.9" y="644.9" width="7.4" height="7.4"/><rect x="588.3" y="649.1" width="7.4" height="7.4"/><rect x="602.5" y="652.8" width="7.4" height="7.4"/><rect x="612.6" y="653.9" width="7.4" height="7.4"/><rect x="619.5" y="652.3" width="7.4" height="7.4"/><rect x="626.3" y="656.5" width="7.4" height="7.4"/><rect x="623.2" y="661.8" width="7.4" height="7.4"/><rect x="551.2" y="648.0" width="7.4" height="7.4"/><rect x="566.0" y="651.7" width="7.4" height="7.4"/><rect x="577.7" y="656.0" width="7.4" height="7.4"/><rect x="593.0" y="657.0" width="7.4" height="7.4"/><rect x="545.9" y="660.2" width="7.4" height="7.4"/><rect x="552.3" y="654.4" width="7.4" height="7.4"/><rect x="563.4" y="659.7" width="7.4" height="7.4"/><rect x="559.7" y="665.0" width="7.4" height="7.4"/><rect x="551.2" y="666.0" width="7.4" height="7.4"/><rect x="566.6" y="666.0" width="7.4" height="7.4"/><rect x="576.6" y="666.0" width="7.4" height="7.4"/><rect x="583.5" y="667.1" width="7.4" height="7.4"/><rect x="590.9" y="665.0" width="7.4" height="7.4"/><rect x="593.5" y="669.2" width="7.4" height="7.4"/><rect x="606.2" y="663.9" width="7.4" height="7.4"/><rect x="613.7" y="663.9" width="7.4" height="7.4"/><rect x="565.0" y="672.9" width="7.4" height="7.4"/><rect x="572.4" y="670.3" width="7.4" height="7.4"/><rect x="584.0" y="671.9" width="7.4" height="7.4"/><rect x="577.7" y="675.6" width="7.4" height="7.4"/><rect x="554.4" y="678.2" width="7.4" height="7.4"/><rect x="562.9" y="683.0" width="7.4" height="7.4"/><rect x="547.5" y="683.0" width="7.4" height="7.4"/><rect x="552.8" y="686.7" width="7.4" height="7.4"/><rect x="578.7" y="682.4" width="7.4" height="7.4"/><rect x="586.1" y="682.4" width="7.4" height="7.4"/><rect x="593.5" y="678.7" width="7.4" height="7.4"/><rect x="599.4" y="679.8" width="7.4" height="7.4"/><rect x="606.2" y="674.0" width="7.4" height="7.4"/><rect x="612.1" y="674.0" width="7.4" height="7.4"/><rect x="612.1" y="680.3" width="7.4" height="7.4"/><rect x="629.5" y="674.0" width="7.4" height="7.4"/><rect x="632.2" y="678.7" width="7.4" height="7.4"/><rect x="541.2" y="689.3" width="7.4" height="7.4"/><rect x="547.0" y="693.0" width="7.4" height="7.4"/><rect x="591.4" y="688.8" width="7.4" height="7.4"/><rect x="599.9" y="687.2" width="7.4" height="7.4"/><rect x="596.2" y="692.0" width="7.4" height="7.4"/><rect x="527.4" y="695.1" width="7.4" height="7.4"/><rect x="560.7" y="699.4" width="7.4" height="7.4"/><rect x="565.5" y="700.4" width="7.4" height="7.4"/><rect x="576.6" y="698.3" width="7.4" height="7.4"/><rect x="585.1" y="699.4" width="7.4" height="7.4"/><rect x="592.5" y="702.0" width="7.4" height="7.4"/><rect x="603.6" y="697.8" width="7.4" height="7.4"/><rect x="612.1" y="696.2" width="7.4" height="7.4"/><rect x="621.1" y="693.0" width="7.4" height="7.4"/><rect x="630.6" y="696.2" width="7.4" height="7.4"/><rect x="635.3" y="705.2" width="7.4" height="7.4"/><rect x="525.3" y="707.8" width="7.4" height="7.4"/><rect x="527.4" y="713.7" width="7.4" height="7.4"/><rect x="525.3" y="717.9" width="7.4" height="7.4"/><rect x="533.8" y="710.5" width="7.4" height="7.4"/><rect x="542.8" y="708.4" width="7.4" height="7.4"/><rect x="539.6" y="715.2" width="7.4" height="7.4"/><rect x="547.0" y="712.6" width="7.4" height="7.4"/><rect x="552.3" y="716.3" width="7.4" height="7.4"/><rect x="556.5" y="720.0" width="7.4" height="7.4"/><rect x="556.5" y="708.4" width="7.4" height="7.4"/><rect x="560.7" y="706.8" width="7.4" height="7.4"/><rect x="572.4" y="704.1" width="7.4" height="7.4"/><rect x="572.4" y="710.5" width="7.4" height="7.4"/><rect x="579.3" y="711.0" width="7.4" height="7.4"/><rect x="642.4" y="661.7" width="7.4" height="7.4"/><rect x="670.9" y="662.6" width="7.4" height="7.4"/><rect x="717.8" y="655.8" width="7.4" height="7.4"/><rect x="727.0" y="669.3" width="7.4" height="7.4"/><rect x="732.0" y="669.3" width="7.4" height="7.4"/><rect x="739.6" y="668.4" width="7.4" height="7.4"/><rect x="753.0" y="663.4" width="7.4" height="7.4"/><rect x="760.5" y="663.4" width="7.4" height="7.4"/><rect x="751.3" y="669.3" width="7.4" height="7.4"/><rect x="760.5" y="669.3" width="7.4" height="7.4"/><rect x="764.7" y="675.1" width="7.4" height="7.4"/><rect x="759.7" y="691.0" width="7.4" height="7.4"/><rect x="764.7" y="696.1" width="7.4" height="7.4"/><rect x="636.5" y="675.1" width="7.4" height="7.4"/><rect x="639.9" y="685.2" width="7.4" height="7.4"/><rect x="649.9" y="677.6" width="7.4" height="7.4"/><rect x="655.0" y="685.2" width="7.4" height="7.4"/><rect x="668.4" y="676.8" width="7.4" height="7.4"/><rect x="668.4" y="681.8" width="7.4" height="7.4"/><rect x="680.1" y="671.8" width="7.4" height="7.4"/><rect x="691.0" y="673.4" width="7.4" height="7.4"/><rect x="701.9" y="674.3" width="7.4" height="7.4"/><rect x="687.6" y="681.0" width="7.4" height="7.4"/><rect x="675.1" y="686.0" width="7.4" height="7.4"/><rect x="681.8" y="691.0" width="7.4" height="7.4"/><rect x="686.8" y="690.2" width="7.4" height="7.4"/><rect x="675.1" y="693.6" width="7.4" height="7.4"/><rect x="695.2" y="693.6" width="7.4" height="7.4"/><rect x="637.4" y="705.3" width="7.4" height="7.4"/><rect x="650.8" y="694.4" width="7.4" height="7.4"/><rect x="656.6" y="695.2" width="7.4" height="7.4"/><rect x="665.8" y="699.4" width="7.4" height="7.4"/><rect x="673.4" y="704.4" width="7.4" height="7.4"/><rect x="701.9" y="707.0" width="7.4" height="7.4"/><rect x="632.3" y="738.8" width="7.4" height="7.4"/><rect x="537.9" y="714.8" width="7.4" height="7.4"/><rect x="547.9" y="712.2" width="7.4" height="7.4"/><rect x="546.9" y="717.5" width="7.4" height="7.4"/><rect x="554.8" y="707.1" width="7.4" height="7.4"/><rect x="562.2" y="713.1" width="7.4" height="7.4"/><rect x="542.1" y="708.3" width="7.4" height="7.4"/><rect x="532.4" y="704.6" width="7.4" height="7.4"/><rect x="560.4" y="702.6" width="7.4" height="7.4"/><rect x="530.1" y="715.0" width="7.4" height="7.4"/><rect x="561.7" y="717.9" width="7.4" height="7.4"/><rect x="560.6" y="702.8" width="7.4" height="7.4"/><rect x="566.2" y="716.4" width="7.4" height="7.4"/><rect x="544.8" y="705.9" width="7.4" height="7.4"/><rect x="565.6" y="705.8" width="7.4" height="7.4"/><rect x="551.9" y="713.9" width="7.4" height="7.4"/><rect x="584.2" y="651.9" width="7.4" height="7.4"/><rect x="578.3" y="653.8" width="7.4" height="7.4"/><rect x="585.5" y="695.0" width="7.4" height="7.4"/><rect x="615.6" y="637.3" width="7.4" height="7.4"/><rect x="558.8" y="652.9" width="7.4" height="7.4"/><rect x="579.4" y="685.7" width="7.4" height="7.4"/><rect x="586.7" y="682.6" width="7.4" height="7.4"/><rect x="576.4" y="639.8" width="7.4" height="7.4"/><rect x="595.7" y="695.2" width="7.4" height="7.4"/><rect x="572.0" y="667.0" width="7.4" height="7.4"/><rect x="588.7" y="638.9" width="7.4" height="7.4"/><rect x="600.5" y="653.3" width="7.4" height="7.4"/><rect x="607.1" y="641.5" width="7.4" height="7.4"/><rect x="595.0" y="689.0" width="7.4" height="7.4"/><rect x="558.2" y="654.6" width="7.4" height="7.4"/><rect x="566.3" y="673.6" width="7.4" height="7.4"/><rect x="570.3" y="673.1" width="7.4" height="7.4"/><rect x="565.9" y="653.5" width="7.4" height="7.4"/><rect x="600.6" y="694.8" width="7.4" height="7.4"/><rect x="569.5" y="641.3" width="7.4" height="7.4"/></g>
<rect x="442.2" y="573.3" width="336.4" height="226.4" fill="none" stroke="#2c2c2c" stroke-width="1.4"/>
<path d="M442.2,777.1h6.5 M442.2,754.4h6.5 M442.2,731.8h6.5 M442.2,709.1h6.5 M442.2,686.5h6.5 M442.2,663.9h6.5 M442.2,641.2h6.5 M442.2,618.6h6.5 M442.2,595.9h6.5 M479.6,799.7v-6.5 M517.0,799.7v-6.5 M554.3,799.7v-6.5 M591.7,799.7v-6.5 M629.1,799.7v-6.5 M666.5,799.7v-6.5 M703.8,799.7v-6.5 M741.2,799.7v-6.5" stroke="#2c2c2c" stroke-width="1.3"/>
<text transform="translate(435.4,805.3) scale(1.1,1)" font-size="11.4" fill="#222" stroke="#222" stroke-width="0.15" text-anchor="end">0</text>
<text transform="translate(435.4,782.7) scale(1.1,1)" font-size="11.4" fill="#222" stroke="#222" stroke-width="0.15" text-anchor="end">2</text>
<text transform="translate(435.4,760.0) scale(1.1,1)" font-size="11.4" fill="#222" stroke="#222" stroke-width="0.15" text-anchor="end">4</text>
<text transform="translate(435.4,737.4) scale(1.1,1)" font-size="11.4" fill="#222" stroke="#222" stroke-width="0.15" text-anchor="end">6</text>
<text transform="translate(435.4,714.7) scale(1.1,1)" font-size="11.4" fill="#222" stroke="#222" stroke-width="0.15" text-anchor="end">8</text>
<text transform="translate(435.4,692.1) scale(1.1,1)" font-size="11.4" fill="#222" stroke="#222" stroke-width="0.15" text-anchor="end">10</text>
<text transform="translate(435.4,669.5) scale(1.1,1)" font-size="11.4" fill="#222" stroke="#222" stroke-width="0.15" text-anchor="end">12</text>
<text transform="translate(435.4,646.8) scale(1.1,1)" font-size="11.4" fill="#222" stroke="#222" stroke-width="0.15" text-anchor="end">14</text>
<text transform="translate(435.4,624.2) scale(1.1,1)" font-size="11.4" fill="#222" stroke="#222" stroke-width="0.15" text-anchor="end">16</text>
<text transform="translate(435.4,601.5) scale(1.1,1)" font-size="11.4" fill="#222" stroke="#222" stroke-width="0.15" text-anchor="end">18</text>
<text transform="translate(435.4,578.9) scale(1.1,1)" font-size="11.4" fill="#222" stroke="#222" stroke-width="0.15" text-anchor="end">20</text>
<text transform="translate(447.2,817.1) scale(1.1,1)" font-size="11.4" fill="#222" stroke="#222" stroke-width="0.15" text-anchor="middle">2000</text>
<text transform="translate(484.6,817.1) scale(1.1,1)" font-size="11.4" fill="#222" stroke="#222" stroke-width="0.15" text-anchor="middle">3000</text>
<text transform="translate(522.0,817.1) scale(1.1,1)" font-size="11.4" fill="#222" stroke="#222" stroke-width="0.15" text-anchor="middle">4000</text>
<text transform="translate(559.3,817.1) scale(1.1,1)" font-size="11.4" fill="#222" stroke="#222" stroke-width="0.15" text-anchor="middle">5000</text>
<text transform="translate(596.7,817.1) scale(1.1,1)" font-size="11.4" fill="#222" stroke="#222" stroke-width="0.15" text-anchor="middle">6000</text>
<text transform="translate(634.1,817.1) scale(1.1,1)" font-size="11.4" fill="#222" stroke="#222" stroke-width="0.15" text-anchor="middle">7000</text>
<text transform="translate(671.5,817.1) scale(1.1,1)" font-size="11.4" fill="#222" stroke="#222" stroke-width="0.15" text-anchor="middle">8000</text>
<text transform="translate(708.8,817.1) scale(1.1,1)" font-size="11.4" fill="#222" stroke="#222" stroke-width="0.15" text-anchor="middle">9000</text>
<text transform="translate(746.2,817.1) scale(1.1,1)" font-size="11.4" fill="#222" stroke="#222" stroke-width="0.15" text-anchor="middle">10000</text>
<text transform="translate(783.6,817.1) scale(1.1,1)" font-size="11.4" fill="#222" stroke="#222" stroke-width="0.15" text-anchor="middle">11000</text>
<text x="448.7" y="591.5" font-size="20" font-weight="bold" fill="#111">h</text>
<text transform="translate(707.7,591.9) scale(1.1,1)" font-size="14" font-weight="bold" textLength="57.91" lengthAdjust="spacing" fill="#1f8fca">Aleutian</text>
<text transform="translate(419.6,676.4) rotate(-90) scale(1.12,1)" font-size="14.2" font-weight="bold" fill="#111" text-anchor="middle">V/Sc</text>
<text transform="translate(612.5,840.9) scale(1.13,1)" font-size="14.2" font-weight="bold" fill="#111" text-anchor="middle">Ti(ppm)</text>
<path d="M849.30,738.50L902.44,721.83C904.17,720.64 909.22,716.84 912.82,714.68C916.42,712.53 918.43,711.49 924.03,708.90C929.64,706.31 940.23,701.72 946.45,699.15C952.68,696.58 954.86,695.69 961.40,693.48C967.94,691.27 978.21,687.92 985.69,685.88C993.16,683.84 999.70,682.53 1006.24,681.23C1012.78,679.93 1019.63,678.77 1024.92,678.05C1030.22,677.34 1033.46,677.19 1038.00,676.92C1042.55,676.66 1049.83,676.54 1052.20,676.47" fill="none" stroke="#c8202c" stroke-width="1.6" stroke-linejoin="round"/>
<path d="M849.30,738.84C852.41,738.36 861.76,736.95 867.98,736.00C874.21,735.06 880.92,734.17 886.67,733.17C892.41,732.17 899.81,730.52 902.44,729.99C904.17,729.52 909.22,728.06 912.82,727.16C916.42,726.25 919.05,725.44 924.03,724.55C929.02,723.66 936.49,722.55 942.72,721.83C948.94,721.11 955.17,720.58 961.40,720.24C967.63,719.90 973.86,719.80 980.08,719.79C986.31,719.77 992.54,719.90 998.77,720.13C1004.99,720.35 1011.22,720.71 1017.45,721.15C1023.68,721.58 1029.91,722.02 1036.13,722.73C1042.36,723.45 1048.59,724.59 1054.82,725.46C1061.04,726.33 1068.27,727.27 1073.50,727.95C1078.73,728.63 1084.09,729.27 1086.20,729.54" fill="none" stroke="#e8902c" stroke-width="1.6" stroke-linejoin="round"/>
<path d="M849.30,739.06C852.41,738.99 861.76,738.67 867.98,738.61C874.21,738.55 880.44,738.59 886.67,738.72C892.89,738.86 899.12,739.05 905.35,739.40C911.58,739.76 917.81,740.37 924.03,740.88C930.26,741.39 936.49,741.88 942.72,742.47C948.94,743.05 955.17,743.66 961.40,744.39C967.63,745.13 973.86,746.02 980.08,746.89C986.31,747.76 992.54,748.76 998.77,749.61C1004.99,750.46 1011.22,751.24 1017.45,751.99C1023.68,752.75 1029.91,753.47 1036.13,754.15C1042.36,754.83 1048.59,755.49 1054.82,756.07C1061.04,756.66 1069.02,757.28 1073.50,757.66C1077.98,758.04 1080.35,758.23 1081.72,758.34" fill="none" stroke="#f2e430" stroke-width="1.6" stroke-linejoin="round"/>
<path d="M849.30,743.60C852.41,743.98 861.76,745.06 867.98,745.87C874.21,746.68 880.44,747.57 886.67,748.48C892.89,749.38 899.12,750.29 905.35,751.31C911.58,752.33 917.81,753.35 924.03,754.60C930.26,755.85 936.49,757.38 942.72,758.80C948.94,760.21 955.17,761.74 961.40,763.10C967.63,764.47 973.86,765.85 980.08,766.96C986.31,768.08 992.54,769.00 998.77,769.80C1004.99,770.59 1011.22,771.18 1017.45,771.72C1023.68,772.27 1029.91,772.71 1036.13,773.08C1042.36,773.46 1048.59,773.75 1054.82,773.99C1061.04,774.24 1068.24,774.43 1073.50,774.56C1078.76,774.69 1084.24,774.75 1086.39,774.78" fill="none" stroke="#1e9ed8" stroke-width="1.6" stroke-linejoin="round"/>
<path d="M849.30,746.78C852.41,747.91 861.76,751.46 867.98,753.58C874.21,755.70 880.44,757.62 886.67,759.48C892.89,761.33 899.12,763.10 905.35,764.69C911.58,766.28 917.81,767.66 924.03,769.00C930.26,770.34 936.49,771.61 942.72,772.74C948.94,773.88 955.17,774.84 961.40,775.81C967.63,776.77 973.86,777.70 980.08,778.53C986.31,779.36 992.54,780.15 998.77,780.80C1004.99,781.44 1011.22,781.95 1017.45,782.38C1023.68,782.82 1029.91,783.14 1036.13,783.40C1042.36,783.67 1048.59,783.84 1054.82,783.97C1061.04,784.10 1068.24,784.16 1073.50,784.20C1078.76,784.23 1084.24,784.20 1086.39,784.20" fill="none" stroke="#2a2a78" stroke-width="1.6" stroke-linejoin="round"/>
<text transform="translate(1055.2,679.4) scale(1.1,1)" font-size="11.4" letter-spacing="0.1" fill="#5a3434" stroke="#5a3434" stroke-width="0.4">QFM+2</text>
<text transform="translate(1086.3,732.1) scale(1.1,1)" font-size="11.4" letter-spacing="0.1" fill="#66563c" stroke="#66563c" stroke-width="0.4">QFM+1</text>
<text transform="translate(1087.1,760.7) scale(1.1,1)" font-size="11.4" letter-spacing="0.1" fill="#8c8a56" stroke="#8c8a56" stroke-width="0.4">QFM</text>
<text transform="translate(1087.1,774.7) scale(1.1,1)" font-size="11.4" letter-spacing="0.1" fill="#2e6488" stroke="#2e6488" stroke-width="0.4">QFM-1</text>
<text transform="translate(1088.9,790.3) scale(1.1,1)" font-size="11.4" letter-spacing="0.1" fill="#2c2c4c" stroke="#2c2c4c" stroke-width="0.4">QFM-2</text>
<g fill="#f0c21c" stroke="#6e5410" stroke-width="0.8"><path d="M967.1,616.0L971.1,624.2L963.1,624.2Z"/><path d="M974.0,613.9L978.0,622.1L970.0,622.1Z"/><path d="M977.5,616.0L981.5,624.2L973.5,624.2Z"/><path d="M980.6,619.6L984.6,627.8L976.6,627.8Z"/><path d="M978.3,626.0L982.3,634.2L974.3,634.2Z"/><path d="M991.7,617.1L995.7,625.3L987.7,625.3Z"/><path d="M994.1,623.1L998.1,631.3L990.1,631.3Z"/><path d="M998.1,609.6L1002.1,617.8L994.1,617.8Z"/><path d="M942.2,649.8L946.2,658.0L938.2,658.0Z"/><path d="M957.6,643.8L961.6,652.0L953.6,652.0Z"/><path d="M962.4,648.5L966.4,656.7L958.4,656.7Z"/><path d="M962.4,654.9L966.4,663.1L958.4,663.1Z"/><path d="M969.5,639.8L973.5,648.0L965.5,648.0Z"/><path d="M972.7,643.8L976.7,652.0L968.7,652.0Z"/><path d="M978.3,644.1L982.3,652.3L974.3,652.3Z"/><path d="M974.3,646.9L978.3,655.1L970.3,655.1Z"/><path d="M989.4,642.2L993.4,650.4L985.4,650.4Z"/><path d="M994.1,644.5L998.1,652.7L990.1,652.7Z"/><path d="M971.1,656.5L975.1,664.7L967.1,664.7Z"/><path d="M976.7,658.0L980.7,666.2L972.7,666.2Z"/><path d="M982.2,654.9L986.2,663.1L978.2,663.1Z"/><path d="M987.0,658.8L991.0,667.0L983.0,667.0Z"/><path d="M980.6,662.8L984.6,671.0L976.6,671.0Z"/><path d="M960.3,662.0L964.3,670.2L956.3,670.2Z"/><path d="M958.4,666.3L962.4,674.5L954.4,674.5Z"/><path d="M963.2,664.4L967.2,672.6L959.2,672.6Z"/><path d="M947.0,668.4L951.0,676.6L943.0,676.6Z"/><path d="M973.5,667.6L977.5,675.8L969.5,675.8Z"/><path d="M971.1,672.3L975.1,680.5L967.1,680.5Z"/><path d="M996.5,667.6L1000.5,675.8L992.5,675.8Z"/><path d="M940.2,675.2L944.2,683.4L936.2,683.4Z"/><path d="M946.5,676.3L950.5,684.5L942.5,684.5Z"/><path d="M951.7,677.9L955.7,686.1L947.7,686.1Z"/><path d="M958.4,675.2L962.4,683.4L954.4,683.4Z"/><path d="M977.5,677.1L981.5,685.3L973.5,685.3Z"/><path d="M983.0,680.3L987.0,688.5L979.0,688.5Z"/><path d="M993.3,678.7L997.3,686.9L989.3,686.9Z"/><path d="M944.4,683.1L948.4,691.3L940.4,691.3Z"/><path d="M940.2,686.6L944.2,694.8L936.2,694.8Z"/><path d="M953.7,688.5L957.7,696.7L949.7,696.7Z"/><path d="M958.4,692.2L962.4,700.4L954.4,700.4Z"/><path d="M964.8,695.3L968.8,703.5L960.8,703.5Z"/><path d="M954.4,697.7L958.4,705.9L950.4,705.9Z"/><path d="M958.4,698.5L962.4,706.7L954.4,706.7Z"/><path d="M948.9,703.8L952.9,712.0L944.9,712.0Z"/><path d="M944.4,710.4L948.4,718.6L940.4,718.6Z"/><path d="M910.8,708.0L914.8,716.2L906.8,716.2Z"/><path d="M915.6,712.8L919.6,721.0L911.6,721.0Z"/><path d="M915.6,717.6L919.6,725.8L911.6,725.8Z"/><path d="M941.7,721.5L945.7,729.7L937.7,729.7Z"/><path d="M940.2,723.9L944.2,732.1L936.2,732.1Z"/><path d="M964.8,720.3L968.8,728.5L960.8,728.5Z"/><path d="M975.9,723.4L979.9,731.6L971.9,731.6Z"/><path d="M906.3,727.9L910.3,736.1L902.3,736.1Z"/><path d="M923.5,726.6L927.5,734.8L919.5,734.8Z"/><path d="M929.0,727.9L933.0,736.1L925.0,736.1Z"/><path d="M895.2,735.0L899.2,743.2L891.2,743.2Z"/><path d="M917.5,735.8L921.5,744.0L913.5,744.0Z"/><path d="M906.3,740.3L910.3,748.5L902.3,748.5Z"/><path d="M890.5,743.4L894.5,751.6L886.5,751.6Z"/><path d="M998.7,609.7L1002.7,617.9L994.7,617.9Z"/><path d="M1056.7,609.7L1060.7,617.9L1052.7,617.9Z"/><path d="M1108.1,627.0L1112.1,635.2L1104.1,635.2Z"/><path d="M1130.0,625.5L1134.0,633.7L1126.0,633.7Z"/><path d="M1020.7,635.2L1024.7,643.4L1016.7,643.4Z"/><path d="M1072.1,633.7L1076.1,641.9L1068.1,641.9Z"/><path d="M1081.1,638.2L1085.1,646.4L1077.1,646.4Z"/><path d="M1056.7,647.9L1060.7,656.1L1052.7,656.1Z"/><path d="M1072.1,652.4L1076.1,660.6L1068.1,660.6Z"/><path d="M991.5,616.5L995.5,624.7L987.5,624.7Z"/><path d="M993.7,623.7L997.7,631.9L989.7,631.9Z"/><path d="M969.0,640.5L973.0,648.7L965.0,648.7Z"/><path d="M978.0,644.2L982.0,652.4L974.0,652.4Z"/><path d="M990.0,643.5L994.0,651.7L986.0,651.7Z"/><path d="M994.2,644.9L998.2,653.1L990.2,653.1Z"/><path d="M962.2,648.7L966.2,656.9L958.2,656.9Z"/><path d="M971.2,656.6L975.2,664.8L967.2,664.8Z"/><path d="M982.5,655.1L986.5,663.3L978.5,663.3Z"/><path d="M987.0,659.2L991.0,667.4L983.0,667.4Z"/><path d="M1000.5,655.1L1004.5,663.3L996.5,663.3Z"/><path d="M1007.2,659.6L1011.2,667.8L1003.2,667.8Z"/><path d="M1014.3,657.7L1018.3,665.9L1010.3,665.9Z"/><path d="M980.2,662.6L984.2,670.8L976.2,670.8Z"/><path d="M973.5,668.2L977.5,676.4L969.5,676.4Z"/><path d="M996.7,668.2L1000.7,676.4L992.7,676.4Z"/><path d="M1002.7,674.2L1006.7,682.4L998.7,682.4Z"/><path d="M993.7,678.7L997.7,686.9L989.7,686.9Z"/><path d="M982.5,680.9L986.5,689.1L978.5,689.1Z"/><path d="M978.0,677.2L982.0,685.4L974.0,685.4Z"/><path d="M1007.2,687.7L1011.2,695.9L1003.2,695.9Z"/><path d="M1005.0,709.4L1009.0,717.6L1001.0,717.6Z"/><path d="M965.2,695.6L969.2,703.8L961.2,703.8Z"/><path d="M964.5,719.9L968.5,728.1L960.5,728.1Z"/><path d="M976.2,723.6L980.2,731.8L972.2,731.8Z"/><path d="M1072.1,665.9L1076.1,674.1L1068.1,674.1Z"/><path d="M985.9,696.8L989.9,705.0L981.9,705.0Z"/><path d="M1005.4,697.1L1009.4,705.3L1001.4,705.3Z"/><path d="M975.1,700.1L979.1,708.3L971.1,708.3Z"/><path d="M989.0,694.4L993.0,702.6L985.0,702.6Z"/><path d="M1003.3,694.7L1007.3,702.9L999.3,702.9Z"/><path d="M996.8,695.5L1000.8,703.7L992.8,703.7Z"/><path d="M990.1,682.1L994.1,690.3L986.1,690.3Z"/><path d="M1001.7,702.6L1005.7,710.8L997.7,710.8Z"/><path d="M988.9,701.1L992.9,709.3L984.9,709.3Z"/><path d="M989.1,696.5L993.1,704.7L985.1,704.7Z"/><path d="M992.1,700.7L996.1,708.9L988.1,708.9Z"/><path d="M976.5,703.8L980.5,712.0L972.5,712.0Z"/><path d="M981.4,699.9L985.4,708.1L977.4,708.1Z"/><path d="M1011.0,707.0L1015.0,715.2L1007.0,715.2Z"/><path d="M982.3,712.7L986.3,720.9L978.3,720.9Z"/><path d="M980.4,702.2L984.4,710.4L976.4,710.4Z"/><path d="M989.5,710.1L993.5,718.3L985.5,718.3Z"/><path d="M998.9,697.3L1002.9,705.5L994.9,705.5Z"/><path d="M979.8,706.5L983.8,714.7L975.8,714.7Z"/><path d="M995.6,690.2L999.6,698.4L991.6,698.4Z"/><path d="M995.3,702.5L999.3,710.7L991.3,710.7Z"/><path d="M985.8,699.0L989.8,707.2L981.8,707.2Z"/><path d="M973.3,708.4L977.3,716.6L969.3,716.6Z"/><path d="M995.0,690.6L999.0,698.8L991.0,698.8Z"/><path d="M992.4,705.4L996.4,713.6L988.4,713.6Z"/><path d="M982.9,701.5L986.9,709.7L978.9,709.7Z"/><path d="M991.3,700.5L995.3,708.7L987.3,708.7Z"/><path d="M983.3,717.9L987.3,726.1L979.3,726.1Z"/><path d="M996.7,704.5L1000.7,712.7L992.7,712.7Z"/><path d="M979.5,696.5L983.5,704.7L975.5,704.7Z"/><path d="M999.0,701.0L1003.0,709.2L995.0,709.2Z"/><path d="M990.9,697.2L994.9,705.4L986.9,705.4Z"/><path d="M993.3,707.7L997.3,715.9L989.3,715.9Z"/><path d="M978.4,696.4L982.4,704.6L974.4,704.6Z"/><path d="M980.2,702.3L984.2,710.5L976.2,710.5Z"/><path d="M992.6,699.7L996.6,707.9L988.6,707.9Z"/><path d="M981.1,703.6L985.1,711.8L977.1,711.8Z"/><path d="M990.0,705.7L994.0,713.9L986.0,713.9Z"/><path d="M989.2,699.2L993.2,707.4L985.2,707.4Z"/><path d="M986.0,698.8L990.0,707.0L982.0,707.0Z"/><path d="M1002.5,693.7L1006.5,701.9L998.5,701.9Z"/><path d="M973.1,699.9L977.1,708.1L969.1,708.1Z"/><path d="M981.2,687.5L985.2,695.7L977.2,695.7Z"/><path d="M992.3,692.1L996.3,700.3L988.3,700.3Z"/><path d="M981.3,716.2L985.3,724.4L977.3,724.4Z"/><path d="M985.3,696.9L989.3,705.1L981.3,705.1Z"/><path d="M977.9,712.7L981.9,720.9L973.9,720.9Z"/><path d="M969.4,703.7L973.4,711.9L965.4,711.9Z"/><path d="M992.0,714.2L996.0,722.4L988.0,722.4Z"/><path d="M980.3,706.1L984.3,714.3L976.3,714.3Z"/><path d="M979.3,706.9L983.3,715.1L975.3,715.1Z"/><path d="M986.6,699.4L990.6,707.6L982.6,707.6Z"/><path d="M984.0,696.2L988.0,704.4L980.0,704.4Z"/><path d="M998.4,698.4L1002.4,706.6L994.4,706.6Z"/><path d="M989.7,698.4L993.7,706.6L985.7,706.6Z"/><path d="M997.1,709.2L1001.1,717.4L993.1,717.4Z"/><path d="M985.1,700.7L989.1,708.9L981.1,708.9Z"/><path d="M1000.2,705.1L1004.2,713.3L996.2,713.3Z"/><path d="M1000.7,716.0L1004.7,724.2L996.7,724.2Z"/><path d="M1007.0,712.1L1011.0,720.3L1003.0,720.3Z"/></g>
<rect x="849.3" y="573.5" width="336.3" height="226.8" fill="none" stroke="#2c2c2c" stroke-width="1.4"/>
<path d="M849.3,777.6h6.5 M849.3,754.9h6.5 M849.3,732.3h6.5 M849.3,709.6h6.5 M849.3,686.9h6.5 M849.3,664.2h6.5 M849.3,641.5h6.5 M849.3,618.9h6.5 M849.3,596.2h6.5 M886.7,800.3v-6.5 M924.0,800.3v-6.5 M961.4,800.3v-6.5 M998.8,800.3v-6.5 M1036.1,800.3v-6.5 M1073.5,800.3v-6.5 M1110.9,800.3v-6.5 M1148.2,800.3v-6.5" stroke="#2c2c2c" stroke-width="1.3"/>
<text transform="translate(842.5,805.9) scale(1.1,1)" font-size="11.4" fill="#222" stroke="#222" stroke-width="0.15" text-anchor="end">0</text>
<text transform="translate(842.5,783.2) scale(1.1,1)" font-size="11.4" fill="#222" stroke="#222" stroke-width="0.15" text-anchor="end">2</text>
<text transform="translate(842.5,760.5) scale(1.1,1)" font-size="11.4" fill="#222" stroke="#222" stroke-width="0.15" text-anchor="end">4</text>
<text transform="translate(842.5,737.9) scale(1.1,1)" font-size="11.4" fill="#222" stroke="#222" stroke-width="0.15" text-anchor="end">6</text>
<text transform="translate(842.5,715.2) scale(1.1,1)" font-size="11.4" fill="#222" stroke="#222" stroke-width="0.15" text-anchor="end">8</text>
<text transform="translate(842.5,692.5) scale(1.1,1)" font-size="11.4" fill="#222" stroke="#222" stroke-width="0.15" text-anchor="end">10</text>
<text transform="translate(842.5,669.8) scale(1.1,1)" font-size="11.4" fill="#222" stroke="#222" stroke-width="0.15" text-anchor="end">12</text>
<text transform="translate(842.5,647.1) scale(1.1,1)" font-size="11.4" fill="#222" stroke="#222" stroke-width="0.15" text-anchor="end">14</text>
<text transform="translate(842.5,624.5) scale(1.1,1)" font-size="11.4" fill="#222" stroke="#222" stroke-width="0.15" text-anchor="end">16</text>
<text transform="translate(842.5,601.8) scale(1.1,1)" font-size="11.4" fill="#222" stroke="#222" stroke-width="0.15" text-anchor="end">18</text>
<text transform="translate(842.5,579.1) scale(1.1,1)" font-size="11.4" fill="#222" stroke="#222" stroke-width="0.15" text-anchor="end">20</text>
<text transform="translate(854.3,817.7) scale(1.1,1)" font-size="11.4" fill="#222" stroke="#222" stroke-width="0.15" text-anchor="middle">2000</text>
<text transform="translate(891.7,817.7) scale(1.1,1)" font-size="11.4" fill="#222" stroke="#222" stroke-width="0.15" text-anchor="middle">3000</text>
<text transform="translate(929.0,817.7) scale(1.1,1)" font-size="11.4" fill="#222" stroke="#222" stroke-width="0.15" text-anchor="middle">4000</text>
<text transform="translate(966.4,817.7) scale(1.1,1)" font-size="11.4" fill="#222" stroke="#222" stroke-width="0.15" text-anchor="middle">5000</text>
<text transform="translate(1003.8,817.7) scale(1.1,1)" font-size="11.4" fill="#222" stroke="#222" stroke-width="0.15" text-anchor="middle">6000</text>
<text transform="translate(1041.1,817.7) scale(1.1,1)" font-size="11.4" fill="#222" stroke="#222" stroke-width="0.15" text-anchor="middle">7000</text>
<text transform="translate(1078.5,817.7) scale(1.1,1)" font-size="11.4" fill="#222" stroke="#222" stroke-width="0.15" text-anchor="middle">8000</text>
<text transform="translate(1115.9,817.7) scale(1.1,1)" font-size="11.4" fill="#222" stroke="#222" stroke-width="0.15" text-anchor="middle">9000</text>
<text transform="translate(1153.2,817.7) scale(1.1,1)" font-size="11.4" fill="#222" stroke="#222" stroke-width="0.15" text-anchor="middle">10000</text>
<text transform="translate(1190.6,817.7) scale(1.1,1)" font-size="11.4" fill="#222" stroke="#222" stroke-width="0.15" text-anchor="middle">11000</text>
<text x="855.8" y="591.7" font-size="20" font-weight="bold" fill="#111">i</text>
<text transform="translate(1120.6,590.7) scale(1.1,1)" font-size="14" font-weight="bold" textLength="52.45" lengthAdjust="spacing" fill="#1f8fca">Aeolian</text>
<text transform="translate(826.2,675.0) rotate(-90) scale(1.12,1)" font-size="14.2" font-weight="bold" fill="#111" text-anchor="middle">V/Sc</text>
<text transform="translate(1019.4,839.3) scale(1.13,1)" font-size="14.2" font-weight="bold" fill="#111" text-anchor="middle">Ti(ppm)</text>
<g fill="#cbcbe0" stroke="#5c5c78" stroke-width="0.8" fill-opacity="0.8"><rect x="214.7" y="901.5" width="7.8" height="7.8"/><rect x="182.1" y="947.5" width="7.8" height="7.8"/><rect x="177.4" y="953.9" width="7.8" height="7.8"/><rect x="212.3" y="943.6" width="7.8" height="7.8"/><rect x="210.7" y="949.9" width="7.8" height="7.8"/><rect x="138.5" y="965.0" width="7.8" height="7.8"/><rect x="186.9" y="961.0" width="7.8" height="7.8"/><rect x="166.3" y="969.8" width="7.8" height="7.8"/><rect x="180.5" y="967.4" width="7.8" height="7.8"/><rect x="191.7" y="970.5" width="7.8" height="7.8"/><rect x="206.7" y="971.3" width="7.8" height="7.8"/><rect x="144.8" y="976.1" width="7.8" height="7.8"/><rect x="181.3" y="976.9" width="7.8" height="7.8"/><rect x="129.8" y="981.7" width="7.8" height="7.8"/><rect x="137.4" y="981.7" width="7.8" height="7.8"/><rect x="195.6" y="984.0" width="7.8" height="7.8"/><rect x="209.1" y="980.9" width="7.8" height="7.8"/><rect x="167.8" y="988.8" width="7.8" height="7.8"/><rect x="175.8" y="990.4" width="7.8" height="7.8"/><rect x="185.3" y="990.1" width="7.8" height="7.8"/><rect x="210.7" y="989.6" width="7.8" height="7.8"/><rect x="200.4" y="988.0" width="7.8" height="7.8"/><rect x="121.5" y="996.7" width="7.8" height="7.8"/><rect x="130.1" y="995.9" width="7.8" height="7.8"/><rect x="157.5" y="1002.3" width="7.8" height="7.8"/><rect x="143.2" y="1003.9" width="7.8" height="7.8"/><rect x="169.4" y="998.3" width="7.8" height="7.8"/><rect x="179.0" y="1005.5" width="7.8" height="7.8"/><rect x="187.7" y="1005.5" width="7.8" height="7.8"/><rect x="194.0" y="1007.1" width="7.8" height="7.8"/><rect x="202.8" y="1006.3" width="7.8" height="7.8"/><rect x="92.4" y="1015.8" width="7.8" height="7.8"/><rect x="111.5" y="1016.6" width="7.8" height="7.8"/><rect x="115.5" y="1011.8" width="7.8" height="7.8"/><rect x="134.5" y="1011.8" width="7.8" height="7.8"/><rect x="145.6" y="1013.4" width="7.8" height="7.8"/><rect x="161.5" y="1012.3" width="7.8" height="7.8"/><rect x="175.0" y="1013.4" width="7.8" height="7.8"/><rect x="185.3" y="1015.8" width="7.8" height="7.8"/><rect x="198.8" y="1012.6" width="7.8" height="7.8"/><rect x="210.7" y="1013.4" width="7.8" height="7.8"/><rect x="132.9" y="1022.1" width="7.8" height="7.8"/><rect x="136.9" y="1024.5" width="7.8" height="7.8"/><rect x="145.6" y="1019.8" width="7.8" height="7.8"/><rect x="172.6" y="1020.5" width="7.8" height="7.8"/><rect x="186.1" y="1026.1" width="7.8" height="7.8"/><rect x="201.2" y="1019.0" width="7.8" height="7.8"/><rect x="213.9" y="1022.9" width="7.8" height="7.8"/><rect x="320.7" y="889.6" width="7.8" height="7.8"/><rect x="354.5" y="890.1" width="7.8" height="7.8"/><rect x="267.5" y="924.5" width="7.8" height="7.8"/><rect x="213.6" y="943.6" width="7.8" height="7.8"/><rect x="211.2" y="949.9" width="7.8" height="7.8"/><rect x="227.1" y="949.9" width="7.8" height="7.8"/><rect x="266.7" y="942.8" width="7.8" height="7.8"/><rect x="325.5" y="942.8" width="7.8" height="7.8"/><rect x="352.4" y="948.3" width="7.8" height="7.8"/><rect x="343.7" y="961.8" width="7.8" height="7.8"/><rect x="219.9" y="957.8" width="7.8" height="7.8"/><rect x="229.4" y="962.6" width="7.8" height="7.8"/><rect x="222.3" y="967.4" width="7.8" height="7.8"/><rect x="249.3" y="964.2" width="7.8" height="7.8"/><rect x="249.3" y="968.2" width="7.8" height="7.8"/><rect x="319.9" y="968.2" width="7.8" height="7.8"/><rect x="291.3" y="972.9" width="7.8" height="7.8"/><rect x="369.1" y="1037.2" width="7.8" height="7.8"/><rect x="373.1" y="1000.7" width="7.8" height="7.8"/><rect x="289.3" y="1063.6" width="7.8" height="7.8"/><rect x="224.4" y="1012.7" width="7.8" height="7.8"/><rect x="239.3" y="1020.1" width="7.8" height="7.8"/><rect x="354.0" y="999.6" width="7.8" height="7.8"/><rect x="301.2" y="1004.6" width="7.8" height="7.8"/><rect x="304.5" y="1017.2" width="7.8" height="7.8"/><rect x="207.9" y="975.3" width="7.8" height="7.8"/><rect x="300.1" y="1022.7" width="7.8" height="7.8"/><rect x="326.6" y="981.6" width="7.8" height="7.8"/><rect x="261.8" y="998.0" width="7.8" height="7.8"/><rect x="360.6" y="986.6" width="7.8" height="7.8"/><rect x="263.1" y="1012.9" width="7.8" height="7.8"/><rect x="358.1" y="1014.5" width="7.8" height="7.8"/><rect x="220.4" y="1023.8" width="7.8" height="7.8"/><rect x="229.6" y="994.6" width="7.8" height="7.8"/><rect x="253.5" y="1003.1" width="7.8" height="7.8"/><rect x="314.5" y="992.1" width="7.8" height="7.8"/><rect x="277.9" y="1016.5" width="7.8" height="7.8"/><rect x="238.1" y="1014.4" width="7.8" height="7.8"/><rect x="355.4" y="993.9" width="7.8" height="7.8"/><rect x="360.2" y="987.5" width="7.8" height="7.8"/><rect x="198.2" y="1015.0" width="7.8" height="7.8"/><rect x="341.2" y="986.6" width="7.8" height="7.8"/><rect x="246.7" y="978.6" width="7.8" height="7.8"/><rect x="305.2" y="988.8" width="7.8" height="7.8"/><rect x="202.4" y="975.4" width="7.8" height="7.8"/><rect x="284.8" y="1016.9" width="7.8" height="7.8"/><rect x="341.0" y="1012.8" width="7.8" height="7.8"/><rect x="247.0" y="1025.4" width="7.8" height="7.8"/><rect x="356.3" y="985.6" width="7.8" height="7.8"/><rect x="329.5" y="1025.3" width="7.8" height="7.8"/><rect x="333.3" y="979.7" width="7.8" height="7.8"/><rect x="296.9" y="982.6" width="7.8" height="7.8"/><rect x="284.4" y="982.3" width="7.8" height="7.8"/><rect x="265.9" y="981.7" width="7.8" height="7.8"/><rect x="313.6" y="994.1" width="7.8" height="7.8"/><rect x="367.2" y="1021.3" width="7.8" height="7.8"/><rect x="214.3" y="1022.2" width="7.8" height="7.8"/><rect x="353.0" y="991.3" width="7.8" height="7.8"/><rect x="212.3" y="974.1" width="7.8" height="7.8"/><rect x="304.8" y="974.6" width="7.8" height="7.8"/><rect x="348.8" y="994.0" width="7.8" height="7.8"/><rect x="345.8" y="1024.0" width="7.8" height="7.8"/><rect x="310.4" y="1018.6" width="7.8" height="7.8"/><rect x="201.9" y="1015.5" width="7.8" height="7.8"/><rect x="216.6" y="1022.0" width="7.8" height="7.8"/><rect x="281.6" y="979.9" width="7.8" height="7.8"/><rect x="332.6" y="1007.7" width="7.8" height="7.8"/><rect x="218.4" y="991.9" width="7.8" height="7.8"/><rect x="319.5" y="980.5" width="7.8" height="7.8"/><rect x="202.1" y="987.5" width="7.8" height="7.8"/><rect x="356.4" y="975.3" width="7.8" height="7.8"/><rect x="196.9" y="975.6" width="7.8" height="7.8"/><rect x="286.5" y="1017.2" width="7.8" height="7.8"/><rect x="315.7" y="984.7" width="7.8" height="7.8"/><rect x="354.4" y="984.3" width="7.8" height="7.8"/><rect x="201.3" y="988.1" width="7.8" height="7.8"/><rect x="334.5" y="983.0" width="7.8" height="7.8"/><rect x="309.6" y="1010.0" width="7.8" height="7.8"/><rect x="354.2" y="1017.5" width="7.8" height="7.8"/><rect x="257.9" y="975.8" width="7.8" height="7.8"/><rect x="338.6" y="1017.9" width="7.8" height="7.8"/><rect x="213.4" y="1014.6" width="7.8" height="7.8"/><rect x="262.4" y="987.8" width="7.8" height="7.8"/><rect x="367.1" y="983.1" width="7.8" height="7.8"/><rect x="293.2" y="1009.1" width="7.8" height="7.8"/><rect x="366.6" y="1017.1" width="7.8" height="7.8"/><rect x="255.3" y="981.8" width="7.8" height="7.8"/><rect x="296.5" y="999.2" width="7.8" height="7.8"/><rect x="329.3" y="999.6" width="7.8" height="7.8"/><rect x="298.9" y="984.9" width="7.8" height="7.8"/><rect x="278.8" y="994.3" width="7.8" height="7.8"/><rect x="334.6" y="988.7" width="7.8" height="7.8"/><rect x="337.6" y="986.7" width="7.8" height="7.8"/><rect x="298.6" y="990.2" width="7.8" height="7.8"/><rect x="245.0" y="990.2" width="7.8" height="7.8"/><rect x="350.4" y="1005.3" width="7.8" height="7.8"/><rect x="286.8" y="1000.5" width="7.8" height="7.8"/><rect x="319.8" y="992.5" width="7.8" height="7.8"/><rect x="253.9" y="989.1" width="7.8" height="7.8"/><rect x="255.0" y="993.9" width="7.8" height="7.8"/><rect x="259.4" y="985.0" width="7.8" height="7.8"/><rect x="225.4" y="1003.7" width="7.8" height="7.8"/><rect x="292.9" y="994.3" width="7.8" height="7.8"/><rect x="325.1" y="1003.5" width="7.8" height="7.8"/><rect x="359.8" y="990.8" width="7.8" height="7.8"/><rect x="302.2" y="1003.1" width="7.8" height="7.8"/><rect x="207.0" y="1011.2" width="7.8" height="7.8"/><rect x="330.4" y="1006.7" width="7.8" height="7.8"/><rect x="359.6" y="1012.4" width="7.8" height="7.8"/><rect x="300.6" y="997.2" width="7.8" height="7.8"/><rect x="230.8" y="1018.1" width="7.8" height="7.8"/><rect x="258.4" y="1003.7" width="7.8" height="7.8"/><rect x="355.0" y="994.7" width="7.8" height="7.8"/><rect x="267.9" y="999.9" width="7.8" height="7.8"/><rect x="204.3" y="1008.6" width="7.8" height="7.8"/><rect x="216.2" y="1016.4" width="7.8" height="7.8"/><rect x="265.0" y="980.9" width="7.8" height="7.8"/><rect x="254.5" y="994.3" width="7.8" height="7.8"/><rect x="202.7" y="1006.1" width="7.8" height="7.8"/><rect x="300.5" y="983.7" width="7.8" height="7.8"/><rect x="295.9" y="995.3" width="7.8" height="7.8"/><rect x="239.1" y="992.6" width="7.8" height="7.8"/><rect x="266.4" y="995.1" width="7.8" height="7.8"/><rect x="238.0" y="1002.4" width="7.8" height="7.8"/><rect x="334.5" y="991.1" width="7.8" height="7.8"/><rect x="268.1" y="993.5" width="7.8" height="7.8"/><rect x="272.4" y="998.4" width="7.8" height="7.8"/><rect x="326.8" y="1008.3" width="7.8" height="7.8"/><rect x="196.0" y="1004.1" width="7.8" height="7.8"/><rect x="267.2" y="989.5" width="7.8" height="7.8"/><rect x="286.8" y="994.2" width="7.8" height="7.8"/><rect x="249.2" y="981.5" width="7.8" height="7.8"/><rect x="279.0" y="1006.1" width="7.8" height="7.8"/><rect x="299.2" y="1012.7" width="7.8" height="7.8"/><rect x="303.0" y="1001.9" width="7.8" height="7.8"/><rect x="343.7" y="1007.6" width="7.8" height="7.8"/><rect x="272.6" y="1008.2" width="7.8" height="7.8"/><rect x="299.7" y="992.8" width="7.8" height="7.8"/><rect x="356.9" y="1018.6" width="7.8" height="7.8"/><rect x="314.9" y="998.9" width="7.8" height="7.8"/><rect x="285.1" y="996.7" width="7.8" height="7.8"/><rect x="305.3" y="1015.2" width="7.8" height="7.8"/><rect x="340.4" y="1020.9" width="7.8" height="7.8"/><rect x="201.5" y="1013.0" width="7.8" height="7.8"/><rect x="308.4" y="1005.6" width="7.8" height="7.8"/><rect x="214.6" y="987.3" width="7.8" height="7.8"/><rect x="201.2" y="1011.2" width="7.8" height="7.8"/><rect x="255.9" y="995.3" width="7.8" height="7.8"/><rect x="321.7" y="1007.4" width="7.8" height="7.8"/><rect x="299.8" y="994.0" width="7.8" height="7.8"/><rect x="180.6" y="1000.7" width="7.8" height="7.8"/><rect x="310.6" y="1003.1" width="7.8" height="7.8"/><rect x="311.9" y="999.2" width="7.8" height="7.8"/><rect x="268.5" y="1002.7" width="7.8" height="7.8"/><rect x="324.9" y="1000.3" width="7.8" height="7.8"/><rect x="337.9" y="1000.0" width="7.8" height="7.8"/><rect x="267.0" y="994.3" width="7.8" height="7.8"/><rect x="193.1" y="1019.5" width="7.8" height="7.8"/><rect x="307.0" y="997.4" width="7.8" height="7.8"/><rect x="266.8" y="1003.1" width="7.8" height="7.8"/><rect x="286.8" y="1002.5" width="7.8" height="7.8"/><rect x="209.1" y="996.7" width="7.8" height="7.8"/><rect x="359.0" y="987.8" width="7.8" height="7.8"/><rect x="283.2" y="1002.6" width="7.8" height="7.8"/><rect x="200.1" y="1008.3" width="7.8" height="7.8"/><rect x="153.8" y="1007.3" width="7.8" height="7.8"/><rect x="243.5" y="1003.2" width="7.8" height="7.8"/><rect x="270.0" y="1022.2" width="7.8" height="7.8"/><rect x="268.9" y="980.7" width="7.8" height="7.8"/><rect x="270.6" y="1020.0" width="7.8" height="7.8"/><rect x="188.3" y="999.8" width="7.8" height="7.8"/><rect x="302.9" y="996.0" width="7.8" height="7.8"/><rect x="234.6" y="984.7" width="7.8" height="7.8"/><rect x="248.0" y="1003.4" width="7.8" height="7.8"/><rect x="355.5" y="1013.5" width="7.8" height="7.8"/><rect x="307.5" y="998.5" width="7.8" height="7.8"/><rect x="330.4" y="987.6" width="7.8" height="7.8"/><rect x="287.6" y="987.0" width="7.8" height="7.8"/><rect x="187.0" y="1000.8" width="7.8" height="7.8"/><rect x="252.9" y="977.8" width="7.8" height="7.8"/><rect x="364.8" y="1020.1" width="7.8" height="7.8"/><rect x="238.9" y="1007.8" width="7.8" height="7.8"/><rect x="232.2" y="1018.7" width="7.8" height="7.8"/><rect x="356.7" y="1001.2" width="7.8" height="7.8"/><rect x="270.7" y="991.9" width="7.8" height="7.8"/><rect x="263.9" y="1008.6" width="7.8" height="7.8"/><rect x="353.2" y="1010.8" width="7.8" height="7.8"/><rect x="271.5" y="989.8" width="7.8" height="7.8"/><rect x="249.9" y="991.2" width="7.8" height="7.8"/><rect x="228.0" y="1003.0" width="7.8" height="7.8"/><rect x="278.6" y="998.3" width="7.8" height="7.8"/><rect x="276.6" y="992.6" width="7.8" height="7.8"/><rect x="277.6" y="988.3" width="7.8" height="7.8"/><rect x="274.5" y="985.5" width="7.8" height="7.8"/><rect x="346.7" y="982.6" width="7.8" height="7.8"/><rect x="242.2" y="987.0" width="7.8" height="7.8"/><rect x="328.1" y="984.6" width="7.8" height="7.8"/><rect x="354.2" y="1015.1" width="7.8" height="7.8"/><rect x="247.6" y="991.0" width="7.8" height="7.8"/><rect x="347.2" y="983.9" width="7.8" height="7.8"/><rect x="315.2" y="1002.2" width="7.8" height="7.8"/><rect x="345.1" y="996.8" width="7.8" height="7.8"/><rect x="275.6" y="1020.9" width="7.8" height="7.8"/><rect x="327.6" y="984.0" width="7.8" height="7.8"/><rect x="320.9" y="999.5" width="7.8" height="7.8"/><rect x="248.4" y="1020.7" width="7.8" height="7.8"/><rect x="223.4" y="1020.1" width="7.8" height="7.8"/><rect x="363.6" y="1005.7" width="7.8" height="7.8"/><rect x="268.3" y="989.3" width="7.8" height="7.8"/><rect x="293.5" y="1009.5" width="7.8" height="7.8"/><rect x="326.5" y="1020.8" width="7.8" height="7.8"/><rect x="339.8" y="998.3" width="7.8" height="7.8"/><rect x="336.9" y="982.8" width="7.8" height="7.8"/><rect x="291.0" y="1001.8" width="7.8" height="7.8"/><rect x="350.0" y="1005.7" width="7.8" height="7.8"/><rect x="340.2" y="1002.8" width="7.8" height="7.8"/><rect x="223.9" y="1003.4" width="7.8" height="7.8"/><rect x="320.9" y="992.0" width="7.8" height="7.8"/><rect x="270.4" y="997.6" width="7.8" height="7.8"/><rect x="253.6" y="1018.3" width="7.8" height="7.8"/><rect x="286.8" y="1011.2" width="7.8" height="7.8"/><rect x="341.9" y="987.4" width="7.8" height="7.8"/><rect x="266.8" y="985.6" width="7.8" height="7.8"/><rect x="286.9" y="1007.4" width="7.8" height="7.8"/><rect x="266.3" y="983.7" width="7.8" height="7.8"/><rect x="357.1" y="997.7" width="7.8" height="7.8"/><rect x="269.2" y="991.5" width="7.8" height="7.8"/><rect x="298.0" y="984.1" width="7.8" height="7.8"/><rect x="291.8" y="1012.5" width="7.8" height="7.8"/><rect x="261.7" y="1016.5" width="7.8" height="7.8"/><rect x="366.7" y="993.8" width="7.8" height="7.8"/><rect x="250.0" y="991.7" width="7.8" height="7.8"/><rect x="312.9" y="1012.7" width="7.8" height="7.8"/><rect x="248.1" y="995.7" width="7.8" height="7.8"/><rect x="302.6" y="994.6" width="7.8" height="7.8"/><rect x="224.7" y="982.3" width="7.8" height="7.8"/><rect x="242.8" y="1009.0" width="7.8" height="7.8"/><rect x="228.3" y="993.1" width="7.8" height="7.8"/><rect x="252.7" y="994.8" width="7.8" height="7.8"/><rect x="269.6" y="990.4" width="7.8" height="7.8"/><rect x="220.6" y="1003.0" width="7.8" height="7.8"/><rect x="182.3" y="1005.1" width="7.8" height="7.8"/><rect x="177.1" y="1017.1" width="7.8" height="7.8"/><rect x="213.0" y="1015.1" width="7.8" height="7.8"/><rect x="225.5" y="1009.8" width="7.8" height="7.8"/><rect x="189.6" y="1023.5" width="7.8" height="7.8"/><rect x="196.0" y="1005.5" width="7.8" height="7.8"/><rect x="212.1" y="1009.2" width="7.8" height="7.8"/><rect x="203.8" y="1021.0" width="7.8" height="7.8"/><rect x="224.6" y="996.2" width="7.8" height="7.8"/><rect x="204.2" y="1006.8" width="7.8" height="7.8"/><rect x="199.4" y="1006.9" width="7.8" height="7.8"/><rect x="210.3" y="1005.7" width="7.8" height="7.8"/><rect x="183.1" y="1010.0" width="7.8" height="7.8"/><rect x="190.1" y="1009.4" width="7.8" height="7.8"/></g>
<path d="M43.50,1019.71L96.68,1003.07C98.42,1001.88 103.48,998.08 107.08,995.93C110.68,993.78 112.69,992.75 118.30,990.16C123.91,987.58 134.51,982.99 140.74,980.43C146.97,977.86 149.15,976.97 155.70,974.77C162.25,972.56 172.53,969.22 180.01,967.18C187.49,965.14 194.04,963.84 200.58,962.54C207.12,961.24 213.98,960.09 219.28,959.37C224.58,958.65 227.82,958.50 232.37,958.24C236.92,957.97 244.21,957.86 246.58,957.79" fill="none" stroke="#c8202c" stroke-width="1.6" stroke-linejoin="round"/>
<path d="M43.50,1020.05C46.62,1019.57 55.97,1018.16 62.20,1017.22C68.43,1016.27 75.15,1015.39 80.90,1014.39C86.65,1013.39 94.05,1011.74 96.68,1011.22C98.42,1010.74 103.48,1009.29 107.08,1008.39C110.68,1007.48 113.31,1006.67 118.30,1005.78C123.29,1004.90 130.77,1003.78 137.00,1003.07C143.23,1002.35 149.47,1001.82 155.70,1001.48C161.93,1001.14 168.17,1001.05 174.40,1001.03C180.63,1001.01 186.87,1001.14 193.10,1001.37C199.33,1001.59 205.57,1001.95 211.80,1002.39C218.03,1002.82 224.27,1003.25 230.50,1003.97C236.73,1004.69 242.97,1005.82 249.20,1006.69C255.43,1007.56 262.66,1008.50 267.90,1009.18C273.14,1009.86 278.50,1010.50 280.62,1010.76" fill="none" stroke="#e8902c" stroke-width="1.6" stroke-linejoin="round"/>
<path d="M43.50,1020.27C46.62,1020.20 55.97,1019.88 62.20,1019.82C68.43,1019.76 74.67,1019.80 80.90,1019.93C87.13,1020.06 93.37,1020.25 99.60,1020.61C105.83,1020.97 112.07,1021.57 118.30,1022.08C124.53,1022.59 130.77,1023.08 137.00,1023.67C143.23,1024.25 149.47,1024.86 155.70,1025.59C161.93,1026.33 168.17,1027.21 174.40,1028.08C180.63,1028.95 186.87,1029.95 193.10,1030.80C199.33,1031.65 205.57,1032.42 211.80,1033.18C218.03,1033.93 224.27,1034.65 230.50,1035.33C236.73,1036.01 242.97,1036.67 249.20,1037.25C255.43,1037.84 263.41,1038.46 267.90,1038.84C272.39,1039.21 274.76,1039.40 276.13,1039.52" fill="none" stroke="#f2e430" stroke-width="1.6" stroke-linejoin="round"/>
<path d="M43.50,1024.80C46.62,1025.18 55.97,1026.25 62.20,1027.06C68.43,1027.88 74.67,1028.76 80.90,1029.67C87.13,1030.57 93.37,1031.48 99.60,1032.50C105.83,1033.52 112.07,1034.54 118.30,1035.78C124.53,1037.03 130.77,1038.55 137.00,1039.97C143.23,1041.38 149.47,1042.91 155.70,1044.27C161.93,1045.63 168.17,1047.01 174.40,1048.12C180.63,1049.23 186.87,1050.16 193.10,1050.95C199.33,1051.74 205.57,1052.33 211.80,1052.87C218.03,1053.42 224.27,1053.85 230.50,1054.23C236.73,1054.61 242.97,1054.89 249.20,1055.14C255.43,1055.38 262.63,1055.57 267.90,1055.70C273.17,1055.84 278.65,1055.89 280.80,1055.93" fill="none" stroke="#1e9ed8" stroke-width="1.6" stroke-linejoin="round"/>
<path d="M43.50,1027.97C46.62,1029.10 55.97,1032.65 62.20,1034.76C68.43,1036.87 74.67,1038.80 80.90,1040.65C87.13,1042.50 93.37,1044.27 99.60,1045.86C105.83,1047.44 112.07,1048.82 118.30,1050.16C124.53,1051.50 130.77,1052.76 137.00,1053.89C143.23,1055.02 149.47,1055.99 155.70,1056.95C161.93,1057.91 168.17,1058.84 174.40,1059.67C180.63,1060.50 186.87,1061.29 193.10,1061.93C199.33,1062.57 205.57,1063.08 211.80,1063.51C218.03,1063.95 224.27,1064.27 230.50,1064.53C236.73,1064.80 242.97,1064.97 249.20,1065.10C255.43,1065.23 262.63,1065.29 267.90,1065.33C273.17,1065.36 278.65,1065.33 280.80,1065.33" fill="none" stroke="#2a2a78" stroke-width="1.6" stroke-linejoin="round"/>
<text transform="translate(250.1,961.4) scale(1.1,1)" font-size="11.4" letter-spacing="0.1" fill="#5a3434" stroke="#5a3434" stroke-width="0.4">QFM+2</text>
<text transform="translate(280.5,1013.2) scale(1.1,1)" font-size="11.4" letter-spacing="0.1" fill="#66563c" stroke="#66563c" stroke-width="0.4">QFM+1</text>
<text transform="translate(281.3,1041.8) scale(1.1,1)" font-size="11.4" letter-spacing="0.1" fill="#8c8a56" stroke="#8c8a56" stroke-width="0.4">QFM</text>
<text transform="translate(281.3,1055.8) scale(1.1,1)" font-size="11.4" letter-spacing="0.1" fill="#2e6488" stroke="#2e6488" stroke-width="0.4">QFM-1</text>
<text transform="translate(283.1,1071.4) scale(1.1,1)" font-size="11.4" letter-spacing="0.1" fill="#2c2c4c" stroke="#2c2c4c" stroke-width="0.4">QFM-2</text>
<rect x="43.5" y="855.0" width="336.6" height="226.4" fill="none" stroke="#2c2c2c" stroke-width="1.4"/>
<path d="M43.5,1058.8h6.5 M43.5,1036.1h6.5 M43.5,1013.5h6.5 M43.5,990.8h6.5 M43.5,968.2h6.5 M43.5,945.6h6.5 M43.5,922.9h6.5 M43.5,900.3h6.5 M43.5,877.6h6.5 M80.9,1081.4v-6.5 M118.3,1081.4v-6.5 M155.7,1081.4v-6.5 M193.1,1081.4v-6.5 M230.5,1081.4v-6.5 M267.9,1081.4v-6.5 M305.3,1081.4v-6.5 M342.7,1081.4v-6.5" stroke="#2c2c2c" stroke-width="1.3"/>
<text transform="translate(36.7,1087.0) scale(1.1,1)" font-size="11.4" fill="#222" stroke="#222" stroke-width="0.15" text-anchor="end">0</text>
<text transform="translate(36.7,1064.4) scale(1.1,1)" font-size="11.4" fill="#222" stroke="#222" stroke-width="0.15" text-anchor="end">2</text>
<text transform="translate(36.7,1041.7) scale(1.1,1)" font-size="11.4" fill="#222" stroke="#222" stroke-width="0.15" text-anchor="end">4</text>
<text transform="translate(36.7,1019.1) scale(1.1,1)" font-size="11.4" fill="#222" stroke="#222" stroke-width="0.15" text-anchor="end">6</text>
<text transform="translate(36.7,996.4) scale(1.1,1)" font-size="11.4" fill="#222" stroke="#222" stroke-width="0.15" text-anchor="end">8</text>
<text transform="translate(36.7,973.8) scale(1.1,1)" font-size="11.4" fill="#222" stroke="#222" stroke-width="0.15" text-anchor="end">10</text>
<text transform="translate(36.7,951.2) scale(1.1,1)" font-size="11.4" fill="#222" stroke="#222" stroke-width="0.15" text-anchor="end">12</text>
<text transform="translate(36.7,928.5) scale(1.1,1)" font-size="11.4" fill="#222" stroke="#222" stroke-width="0.15" text-anchor="end">14</text>
<text transform="translate(36.7,905.9) scale(1.1,1)" font-size="11.4" fill="#222" stroke="#222" stroke-width="0.15" text-anchor="end">16</text>
<text transform="translate(36.7,883.2) scale(1.1,1)" font-size="11.4" fill="#222" stroke="#222" stroke-width="0.15" text-anchor="end">18</text>
<text transform="translate(36.7,860.6) scale(1.1,1)" font-size="11.4" fill="#222" stroke="#222" stroke-width="0.15" text-anchor="end">20</text>
<text transform="translate(48.5,1098.8) scale(1.1,1)" font-size="11.4" fill="#222" stroke="#222" stroke-width="0.15" text-anchor="middle">2000</text>
<text transform="translate(85.9,1098.8) scale(1.1,1)" font-size="11.4" fill="#222" stroke="#222" stroke-width="0.15" text-anchor="middle">3000</text>
<text transform="translate(123.3,1098.8) scale(1.1,1)" font-size="11.4" fill="#222" stroke="#222" stroke-width="0.15" text-anchor="middle">4000</text>
<text transform="translate(160.7,1098.8) scale(1.1,1)" font-size="11.4" fill="#222" stroke="#222" stroke-width="0.15" text-anchor="middle">5000</text>
<text transform="translate(198.1,1098.8) scale(1.1,1)" font-size="11.4" fill="#222" stroke="#222" stroke-width="0.15" text-anchor="middle">6000</text>
<text transform="translate(235.5,1098.8) scale(1.1,1)" font-size="11.4" fill="#222" stroke="#222" stroke-width="0.15" text-anchor="middle">7000</text>
<text transform="translate(272.9,1098.8) scale(1.1,1)" font-size="11.4" fill="#222" stroke="#222" stroke-width="0.15" text-anchor="middle">8000</text>
<text transform="translate(310.3,1098.8) scale(1.1,1)" font-size="11.4" fill="#222" stroke="#222" stroke-width="0.15" text-anchor="middle">9000</text>
<text transform="translate(347.7,1098.8) scale(1.1,1)" font-size="11.4" fill="#222" stroke="#222" stroke-width="0.15" text-anchor="middle">10000</text>
<text transform="translate(385.1,1098.8) scale(1.1,1)" font-size="11.4" fill="#222" stroke="#222" stroke-width="0.15" text-anchor="middle">11000</text>
<text x="50.0" y="873.2" font-size="20" font-weight="bold" fill="#111">j</text>
<text transform="translate(303.8,870.9) scale(1.1,1)" font-size="14" font-weight="bold" textLength="67.36" lengthAdjust="spacing" fill="#cc1424">Cascades</text>
<text transform="translate(20.9,958.4) rotate(-90) scale(1.12,1)" font-size="14.2" font-weight="bold" fill="#111" text-anchor="middle">V/Sc</text>
<text transform="translate(213.8,1122.5) scale(1.13,1)" font-size="14.2" font-weight="bold" fill="#111" text-anchor="middle">Ti(ppm)</text>
<path d="M441.90,1019.48L495.10,1002.83C496.83,1001.64 501.89,997.85 505.50,995.70C509.10,993.54 511.11,992.51 516.72,989.92C522.33,987.33 532.93,982.75 539.17,980.18C545.40,977.61 547.59,976.73 554.13,974.52C560.68,972.31 570.97,968.97 578.45,966.93C585.93,964.89 592.48,963.59 599.03,962.29C605.57,960.99 612.43,959.83 617.73,959.12C623.03,958.40 626.27,958.25 630.83,957.98C635.38,957.72 642.67,957.61 645.04,957.53" fill="none" stroke="#c8202c" stroke-width="1.6" stroke-linejoin="round"/>
<path d="M441.90,1019.82C445.02,1019.35 454.37,1017.93 460.61,1016.99C466.84,1016.04 473.56,1015.16 479.31,1014.16C485.06,1013.16 492.47,1011.51 495.10,1010.99C496.83,1010.51 501.89,1009.06 505.50,1008.15C509.10,1007.25 511.73,1006.44 516.72,1005.55C521.71,1004.66 529.19,1003.55 535.43,1002.83C541.66,1002.11 547.90,1001.59 554.13,1001.25C560.37,1000.91 566.60,1000.81 572.84,1000.79C579.07,1000.77 585.31,1000.91 591.54,1001.13C597.78,1001.36 604.01,1001.72 610.25,1002.15C616.49,1002.59 622.72,1003.02 628.96,1003.74C635.19,1004.45 641.43,1005.59 647.66,1006.46C653.90,1007.32 661.13,1008.27 666.37,1008.95C671.60,1009.63 676.97,1010.27 679.09,1010.53" fill="none" stroke="#e8902c" stroke-width="1.6" stroke-linejoin="round"/>
<path d="M441.90,1020.05C445.02,1019.97 454.37,1019.65 460.61,1019.59C466.84,1019.54 473.08,1019.57 479.31,1019.71C485.55,1019.84 491.78,1020.03 498.02,1020.38C504.25,1020.74 510.49,1021.35 516.72,1021.86C522.96,1022.37 529.19,1022.86 535.43,1023.44C541.66,1024.03 547.90,1024.63 554.13,1025.37C560.37,1026.10 566.60,1026.99 572.84,1027.86C579.07,1028.73 585.31,1029.73 591.54,1030.58C597.78,1031.43 604.01,1032.20 610.25,1032.96C616.49,1033.71 622.72,1034.43 628.96,1035.11C635.19,1035.79 641.43,1036.45 647.66,1037.03C653.90,1037.62 661.88,1038.24 666.37,1038.62C670.86,1039.00 673.23,1039.18 674.60,1039.30" fill="none" stroke="#f2e430" stroke-width="1.6" stroke-linejoin="round"/>
<path d="M441.90,1024.58C445.02,1024.95 454.37,1026.03 460.61,1026.84C466.84,1027.65 473.08,1028.54 479.31,1029.44C485.55,1030.35 491.78,1031.26 498.02,1032.28C504.25,1033.30 510.49,1034.31 516.72,1035.56C522.96,1036.81 529.19,1038.33 535.43,1039.75C541.66,1041.17 547.90,1042.70 554.13,1044.05C560.37,1045.41 566.60,1046.79 572.84,1047.90C579.07,1049.02 585.31,1049.94 591.54,1050.74C597.78,1051.53 604.01,1052.11 610.25,1052.66C616.49,1053.21 622.72,1053.64 628.96,1054.02C635.19,1054.40 641.43,1054.68 647.66,1054.93C653.90,1055.17 661.10,1055.36 666.37,1055.49C671.64,1055.62 677.12,1055.68 679.27,1055.72" fill="none" stroke="#1e9ed8" stroke-width="1.6" stroke-linejoin="round"/>
<path d="M441.90,1027.75C445.02,1028.88 454.37,1032.43 460.61,1034.54C466.84,1036.65 473.08,1038.58 479.31,1040.43C485.55,1042.28 491.78,1044.05 498.02,1045.64C504.25,1047.22 510.49,1048.60 516.72,1049.94C522.96,1051.28 529.19,1052.55 535.43,1053.68C541.66,1054.81 547.90,1055.78 554.13,1056.74C560.37,1057.70 566.60,1058.63 572.84,1059.46C579.07,1060.29 585.31,1061.08 591.54,1061.72C597.78,1062.36 604.01,1062.87 610.25,1063.31C616.49,1063.74 622.72,1064.06 628.96,1064.33C635.19,1064.59 641.43,1064.76 647.66,1064.89C653.90,1065.02 661.10,1065.08 666.37,1065.12C671.64,1065.16 677.12,1065.12 679.27,1065.12" fill="none" stroke="#2a2a78" stroke-width="1.6" stroke-linejoin="round"/>
<text transform="translate(647.9,960.7) scale(1.1,1)" font-size="11.4" letter-spacing="0.1" fill="#5a3434" stroke="#5a3434" stroke-width="0.4">QFM+2</text>
<text transform="translate(678.9,1013.0) scale(1.1,1)" font-size="11.4" letter-spacing="0.1" fill="#66563c" stroke="#66563c" stroke-width="0.4">QFM+1</text>
<text transform="translate(679.7,1041.6) scale(1.1,1)" font-size="11.4" letter-spacing="0.1" fill="#8c8a56" stroke="#8c8a56" stroke-width="0.4">QFM</text>
<text transform="translate(679.7,1055.6) scale(1.1,1)" font-size="11.4" letter-spacing="0.1" fill="#2e6488" stroke="#2e6488" stroke-width="0.4">QFM-1</text>
<text transform="translate(681.5,1071.2) scale(1.1,1)" font-size="11.4" letter-spacing="0.1" fill="#2c2c4c" stroke="#2c2c4c" stroke-width="0.4">QFM-2</text>
<g fill="#a6cca4" stroke="#2e4e2e" stroke-width="0.8"><path d="M573.7,949.9L577.4,957.5L570.0,957.5Z"/><path d="M623.2,949.3L626.9,956.9L619.5,956.9Z"/><path d="M551.2,964.2L554.9,971.8L547.5,971.8Z"/><path d="M566.8,971.1L570.5,978.7L563.1,978.7Z"/><path d="M582.5,965.9L586.2,973.5L578.8,973.5Z"/><path d="M593.6,964.8L597.3,972.4L589.9,972.4Z"/><path d="M593.4,974.0L597.1,981.6L589.7,981.6Z"/><path d="M598.6,975.1L602.3,982.7L594.9,982.7Z"/><path d="M582.8,980.8L586.5,988.4L579.1,988.4Z"/><path d="M585.6,979.7L589.3,987.3L581.9,987.3Z"/><path d="M594.0,983.7L597.7,991.3L590.3,991.3Z"/><path d="M591.3,987.2L595.0,994.8L587.6,994.8Z"/><path d="M607.4,979.7L611.1,987.3L603.7,987.3Z"/><path d="M618.4,986.0L622.1,993.6L614.7,993.6Z"/><path d="M611.7,988.9L615.4,996.5L608.0,996.5Z"/><path d="M607.4,994.6L611.1,1002.2L603.7,1002.2Z"/><path d="M620.7,994.6L624.4,1002.2L617.0,1002.2Z"/><path d="M628.4,992.9L632.1,1000.5L624.7,1000.5Z"/><path d="M631.8,986.0L635.5,993.6L628.1,993.6Z"/><path d="M636.4,986.0L640.1,993.6L632.7,993.6Z"/><path d="M638.7,992.3L642.4,999.9L635.0,999.9Z"/><path d="M641.0,981.4L644.7,989.0L637.3,989.0Z"/><path d="M643.3,983.1L647.0,990.7L639.6,990.7Z"/><path d="M647.9,984.3L651.6,991.9L644.2,991.9Z"/><path d="M650.7,983.1L654.4,990.7L647.0,990.7Z"/><path d="M651.9,988.3L655.6,995.9L648.2,995.9Z"/><path d="M656.5,978.0L660.2,985.6L652.8,985.6Z"/><path d="M657.0,987.7L660.7,995.3L653.3,995.3Z"/><path d="M546.6,988.9L550.3,996.5L542.9,996.5Z"/><path d="M549.2,1002.1L552.9,1009.7L545.5,1009.7Z"/><path d="M553.3,1000.9L557.0,1008.5L549.6,1008.5Z"/><path d="M533.5,1013.0L537.2,1020.6L529.8,1020.6Z"/><path d="M539.7,1015.2L543.4,1022.8L536.0,1022.8Z"/><path d="M546.6,1015.8L550.3,1023.4L542.9,1023.4Z"/><path d="M555.8,1015.8L559.5,1023.4L552.1,1023.4Z"/><path d="M571.4,1008.9L575.1,1016.5L567.7,1016.5Z"/><path d="M581.4,1014.1L585.1,1021.7L577.7,1021.7Z"/><path d="M558.1,1027.9L561.8,1035.5L554.4,1035.5Z"/><path d="M578.3,1026.7L582.0,1034.3L574.6,1034.3Z"/><path d="M598.6,1002.6L602.3,1010.2L594.9,1010.2Z"/><path d="M605.4,1010.1L609.1,1017.7L601.7,1017.7Z"/><path d="M616.3,1000.9L620.0,1008.5L612.6,1008.5Z"/><path d="M618.4,1006.1L622.1,1013.7L614.7,1013.7Z"/><path d="M623.0,1014.1L626.7,1021.7L619.3,1021.7Z"/><path d="M627.6,1004.4L631.3,1012.0L623.9,1012.0Z"/><path d="M631.8,1003.8L635.5,1011.4L628.1,1011.4Z"/><path d="M631.8,1007.2L635.5,1014.8L628.1,1014.8Z"/><path d="M636.4,1010.1L640.1,1017.7L632.7,1017.7Z"/><path d="M645.0,1003.8L648.7,1011.4L641.3,1011.4Z"/><path d="M647.3,1011.2L651.0,1018.8L643.6,1018.8Z"/><path d="M651.9,1001.5L655.6,1009.1L648.2,1009.1Z"/><path d="M655.3,1006.1L659.0,1013.7L651.6,1013.7Z"/><path d="M657.0,1010.7L660.7,1018.3L653.3,1018.3Z"/><path d="M657.0,1014.1L660.7,1021.7L653.3,1021.7Z"/><path d="M769.0,948.6L772.7,956.2L765.3,956.2Z"/><path d="M749.3,963.5L753.0,971.1L745.6,971.1Z"/><path d="M762.0,961.0L765.7,968.6L758.3,968.6Z"/><path d="M692.5,967.2L696.2,974.8L688.8,974.8Z"/><path d="M683.5,972.5L687.2,980.1L679.8,980.1Z"/><path d="M701.7,973.3L705.4,980.9L698.0,980.9Z"/><path d="M717.2,973.3L720.9,980.9L713.5,980.9Z"/><path d="M656.7,977.7L660.4,985.3L653.0,985.3Z"/><path d="M677.0,978.9L680.7,986.5L673.3,986.5Z"/><path d="M701.7,979.5L705.4,987.1L698.0,987.1Z"/><path d="M721.5,978.3L725.2,985.9L717.8,985.9Z"/><path d="M744.3,978.9L748.0,986.5L740.6,986.5Z"/><path d="M773.3,975.2L777.0,982.8L769.6,982.8Z"/><path d="M777.0,981.4L780.7,989.0L773.3,989.0Z"/><path d="M641.2,981.4L644.9,989.0L637.5,989.0Z"/><path d="M647.4,983.8L651.1,991.4L643.7,991.4Z"/><path d="M651.1,986.3L654.8,993.9L647.4,993.9Z"/><path d="M656.7,986.3L660.4,993.9L653.0,993.9Z"/><path d="M667.8,983.8L671.5,991.4L664.1,991.4Z"/><path d="M675.2,983.8L678.9,991.4L671.5,991.4Z"/><path d="M685.7,983.2L689.4,990.8L682.0,990.8Z"/><path d="M694.9,983.8L698.6,991.4L691.2,991.4Z"/><path d="M712.8,984.4L716.5,992.0L709.1,992.0Z"/><path d="M717.8,986.3L721.5,993.9L714.1,993.9Z"/><path d="M730.7,988.8L734.4,996.4L727.0,996.4Z"/><path d="M737.5,991.2L741.2,998.8L733.8,998.8Z"/><path d="M743.7,986.9L747.4,994.5L740.0,994.5Z"/><path d="M755.4,987.5L759.1,995.1L751.7,995.1Z"/><path d="M770.2,990.6L773.9,998.2L766.5,998.2Z"/><path d="M667.8,990.0L671.5,997.6L664.1,997.6Z"/><path d="M672.7,992.5L676.4,1000.1L669.0,1000.1Z"/><path d="M685.7,990.6L689.4,998.2L682.0,998.2Z"/><path d="M690.6,993.7L694.3,1001.3L686.9,1001.3Z"/><path d="M697.4,994.3L701.1,1001.9L693.7,1001.9Z"/><path d="M717.8,993.1L721.5,1000.7L714.1,1000.7Z"/><path d="M748.6,993.7L752.3,1001.3L744.9,1001.3Z"/><path d="M753.6,994.9L757.3,1002.5L749.9,1002.5Z"/><path d="M759.8,992.5L763.5,1000.1L756.1,1000.1Z"/><path d="M681.4,996.8L685.1,1004.4L677.7,1004.4Z"/><path d="M694.3,998.6L698.0,1006.2L690.6,1006.2Z"/><path d="M699.3,1000.5L703.0,1008.1L695.6,1008.1Z"/><path d="M717.2,999.9L720.9,1007.5L713.5,1007.5Z"/><path d="M724.0,997.4L727.7,1005.0L720.3,1005.0Z"/><path d="M730.7,998.0L734.4,1005.6L727.0,1005.6Z"/><path d="M746.2,997.4L749.9,1005.0L742.5,1005.0Z"/><path d="M769.0,997.4L772.7,1005.0L765.3,1005.0Z"/><path d="M777.0,996.8L780.7,1004.4L773.3,1004.4Z"/><path d="M645.6,1003.0L649.3,1010.6L641.9,1010.6Z"/><path d="M651.7,1001.7L655.4,1009.3L648.0,1009.3Z"/><path d="M662.8,1000.5L666.5,1008.1L659.1,1008.1Z"/><path d="M667.8,1003.6L671.5,1011.2L664.1,1011.2Z"/><path d="M674.6,1002.3L678.3,1009.9L670.9,1009.9Z"/><path d="M654.8,1006.0L658.5,1013.6L651.1,1013.6Z"/><path d="M644.9,1007.9L648.6,1015.5L641.2,1015.5Z"/><path d="M671.5,1007.9L675.2,1015.5L667.8,1015.5Z"/><path d="M690.0,1004.8L693.7,1012.4L686.3,1012.4Z"/><path d="M699.3,1007.9L703.0,1015.5L695.6,1015.5Z"/><path d="M711.6,1003.6L715.3,1011.2L707.9,1011.2Z"/><path d="M719.0,1006.0L722.7,1013.6L715.3,1013.6Z"/><path d="M725.2,1006.7L728.9,1014.3L721.5,1014.3Z"/><path d="M728.9,1002.3L732.6,1009.9L725.2,1009.9Z"/><path d="M733.8,1004.8L737.5,1012.4L730.1,1012.4Z"/><path d="M647.4,1012.2L651.1,1019.8L643.7,1019.8Z"/><path d="M656.0,1013.5L659.7,1021.1L652.3,1021.1Z"/><path d="M659.8,1014.7L663.5,1022.3L656.1,1022.3Z"/><path d="M708.5,1011.0L712.2,1018.6L704.8,1018.6Z"/><path d="M712.8,1014.7L716.5,1022.3L709.1,1022.3Z"/><path d="M712.8,1017.2L716.5,1024.8L709.1,1024.8Z"/><path d="M726.4,1011.0L730.1,1018.6L722.7,1018.6Z"/><path d="M770.9,1008.5L774.6,1016.1L767.2,1016.1Z"/><path d="M775.8,1009.1L779.5,1016.7L772.1,1016.7Z"/><path d="M677.0,1020.9L680.7,1028.5L673.3,1028.5Z"/><path d="M748.4,1054.8L752.1,1062.4L744.7,1062.4Z"/></g>
<rect x="441.9" y="854.7" width="336.7" height="226.5" fill="none" stroke="#2c2c2c" stroke-width="1.4"/>
<path d="M441.9,1058.5h6.5 M441.9,1035.9h6.5 M441.9,1013.2h6.5 M441.9,990.6h6.5 M441.9,968.0h6.5 M441.9,945.3h6.5 M441.9,922.7h6.5 M441.9,900.0h6.5 M441.9,877.4h6.5 M479.3,1081.2v-6.5 M516.7,1081.2v-6.5 M554.1,1081.2v-6.5 M591.5,1081.2v-6.5 M629.0,1081.2v-6.5 M666.4,1081.2v-6.5 M703.8,1081.2v-6.5 M741.2,1081.2v-6.5" stroke="#2c2c2c" stroke-width="1.3"/>
<text transform="translate(435.1,1086.8) scale(1.1,1)" font-size="11.4" fill="#222" stroke="#222" stroke-width="0.15" text-anchor="end">0</text>
<text transform="translate(435.1,1064.1) scale(1.1,1)" font-size="11.4" fill="#222" stroke="#222" stroke-width="0.15" text-anchor="end">2</text>
<text transform="translate(435.1,1041.5) scale(1.1,1)" font-size="11.4" fill="#222" stroke="#222" stroke-width="0.15" text-anchor="end">4</text>
<text transform="translate(435.1,1018.9) scale(1.1,1)" font-size="11.4" fill="#222" stroke="#222" stroke-width="0.15" text-anchor="end">6</text>
<text transform="translate(435.1,996.2) scale(1.1,1)" font-size="11.4" fill="#222" stroke="#222" stroke-width="0.15" text-anchor="end">8</text>
<text transform="translate(435.1,973.6) scale(1.1,1)" font-size="11.4" fill="#222" stroke="#222" stroke-width="0.15" text-anchor="end">10</text>
<text transform="translate(435.1,950.9) scale(1.1,1)" font-size="11.4" fill="#222" stroke="#222" stroke-width="0.15" text-anchor="end">12</text>
<text transform="translate(435.1,928.3) scale(1.1,1)" font-size="11.4" fill="#222" stroke="#222" stroke-width="0.15" text-anchor="end">14</text>
<text transform="translate(435.1,905.6) scale(1.1,1)" font-size="11.4" fill="#222" stroke="#222" stroke-width="0.15" text-anchor="end">16</text>
<text transform="translate(435.1,883.0) scale(1.1,1)" font-size="11.4" fill="#222" stroke="#222" stroke-width="0.15" text-anchor="end">18</text>
<text transform="translate(435.1,860.3) scale(1.1,1)" font-size="11.4" fill="#222" stroke="#222" stroke-width="0.15" text-anchor="end">20</text>
<text transform="translate(446.9,1098.6) scale(1.1,1)" font-size="11.4" fill="#222" stroke="#222" stroke-width="0.15" text-anchor="middle">2000</text>
<text transform="translate(484.3,1098.6) scale(1.1,1)" font-size="11.4" fill="#222" stroke="#222" stroke-width="0.15" text-anchor="middle">3000</text>
<text transform="translate(521.7,1098.6) scale(1.1,1)" font-size="11.4" fill="#222" stroke="#222" stroke-width="0.15" text-anchor="middle">4000</text>
<text transform="translate(559.1,1098.6) scale(1.1,1)" font-size="11.4" fill="#222" stroke="#222" stroke-width="0.15" text-anchor="middle">5000</text>
<text transform="translate(596.5,1098.6) scale(1.1,1)" font-size="11.4" fill="#222" stroke="#222" stroke-width="0.15" text-anchor="middle">6000</text>
<text transform="translate(634.0,1098.6) scale(1.1,1)" font-size="11.4" fill="#222" stroke="#222" stroke-width="0.15" text-anchor="middle">7000</text>
<text transform="translate(671.4,1098.6) scale(1.1,1)" font-size="11.4" fill="#222" stroke="#222" stroke-width="0.15" text-anchor="middle">8000</text>
<text transform="translate(708.8,1098.6) scale(1.1,1)" font-size="11.4" fill="#222" stroke="#222" stroke-width="0.15" text-anchor="middle">9000</text>
<text transform="translate(746.2,1098.6) scale(1.1,1)" font-size="11.4" fill="#222" stroke="#222" stroke-width="0.15" text-anchor="middle">10000</text>
<text transform="translate(783.6,1098.6) scale(1.1,1)" font-size="11.4" fill="#222" stroke="#222" stroke-width="0.15" text-anchor="middle">11000</text>
<text x="448.4" y="872.9" font-size="20" font-weight="bold" fill="#111">k</text>
<text transform="translate(720.5,871.9) scale(1.1,1)" font-size="14" font-weight="bold" textLength="48.82" lengthAdjust="spacing" fill="#cc1424">Mexico</text>
<text transform="translate(419.8,957.7) rotate(-90) scale(1.12,1)" font-size="14.2" font-weight="bold" fill="#111" text-anchor="middle">V/Sc</text>
<text transform="translate(612.7,1121.7) scale(1.13,1)" font-size="14.2" font-weight="bold" fill="#111" text-anchor="middle">Ti(ppm)</text>
<path d="M852.10,1021.25L905.28,1004.60C907.02,1003.41 912.08,999.61 915.68,997.46C919.28,995.31 921.29,994.27 926.90,991.68C932.51,989.09 943.11,984.50 949.34,981.94C955.57,979.37 957.76,978.48 964.30,976.27C970.85,974.06 981.13,970.72 988.61,968.68C996.09,966.64 1002.63,965.34 1009.18,964.03C1015.73,962.73 1022.58,961.58 1027.88,960.86C1033.18,960.15 1036.42,959.99 1040.97,959.73C1045.52,959.47 1052.81,959.35 1055.18,959.28" fill="none" stroke="#c8202c" stroke-width="1.6" stroke-linejoin="round"/>
<path d="M852.10,1021.59C855.22,1021.12 864.57,1019.70 870.80,1018.76C877.03,1017.81 883.75,1016.93 889.50,1015.93C895.25,1014.93 902.65,1013.28 905.28,1012.75C907.02,1012.28 912.08,1010.83 915.68,1009.92C919.28,1009.02 921.91,1008.20 926.90,1007.32C931.89,1006.43 939.37,1005.31 945.60,1004.60C951.83,1003.88 958.07,1003.35 964.30,1003.01C970.53,1002.67 976.77,1002.58 983.00,1002.56C989.23,1002.54 995.47,1002.67 1001.70,1002.90C1007.93,1003.12 1014.17,1003.48 1020.40,1003.92C1026.63,1004.35 1032.87,1004.79 1039.10,1005.50C1045.33,1006.22 1051.57,1007.35 1057.80,1008.22C1064.03,1009.09 1071.26,1010.03 1076.50,1010.71C1081.74,1011.39 1087.10,1012.04 1089.22,1012.30" fill="none" stroke="#e8902c" stroke-width="1.6" stroke-linejoin="round"/>
<path d="M852.10,1021.82C855.22,1021.74 864.57,1021.42 870.80,1021.36C877.03,1021.31 883.27,1021.35 889.50,1021.48C895.73,1021.61 901.97,1021.80 908.20,1022.16C914.43,1022.52 920.67,1023.12 926.90,1023.63C933.13,1024.14 939.37,1024.63 945.60,1025.22C951.83,1025.80 958.07,1026.41 964.30,1027.14C970.53,1027.88 976.77,1028.77 983.00,1029.64C989.23,1030.50 995.47,1031.51 1001.70,1032.35C1007.93,1033.20 1014.17,1033.98 1020.40,1034.73C1026.63,1035.49 1032.87,1036.21 1039.10,1036.89C1045.33,1037.57 1051.57,1038.23 1057.80,1038.81C1064.03,1039.40 1072.01,1040.02 1076.50,1040.40C1080.99,1040.78 1083.36,1040.97 1084.73,1041.08" fill="none" stroke="#f2e430" stroke-width="1.6" stroke-linejoin="round"/>
<path d="M852.10,1026.35C855.22,1026.73 864.57,1027.80 870.80,1028.62C877.03,1029.43 883.27,1030.32 889.50,1031.22C895.73,1032.13 901.97,1033.03 908.20,1034.05C914.43,1035.07 920.67,1036.09 926.90,1037.34C933.13,1038.59 939.37,1040.12 945.60,1041.53C951.83,1042.95 958.07,1044.48 964.30,1045.84C970.53,1047.20 976.77,1048.58 983.00,1049.69C989.23,1050.80 995.47,1051.73 1001.70,1052.52C1007.93,1053.32 1014.17,1053.90 1020.40,1054.45C1026.63,1055.00 1032.87,1055.43 1039.10,1055.81C1045.33,1056.19 1051.57,1056.47 1057.80,1056.71C1064.03,1056.96 1071.23,1057.15 1076.50,1057.28C1081.77,1057.41 1087.25,1057.47 1089.40,1057.51" fill="none" stroke="#1e9ed8" stroke-width="1.6" stroke-linejoin="round"/>
<path d="M852.10,1029.52C855.22,1030.66 864.57,1034.21 870.80,1036.32C877.03,1038.44 883.27,1040.36 889.50,1042.21C895.73,1044.06 901.97,1045.84 908.20,1047.42C914.43,1049.01 920.67,1050.39 926.90,1051.73C933.13,1053.07 939.37,1054.34 945.60,1055.47C951.83,1056.60 958.07,1057.56 964.30,1058.53C970.53,1059.49 976.77,1060.42 983.00,1061.25C989.23,1062.08 995.47,1062.87 1001.70,1063.51C1007.93,1064.15 1014.17,1064.66 1020.40,1065.10C1026.63,1065.53 1032.87,1065.85 1039.10,1066.12C1045.33,1066.38 1051.57,1066.55 1057.80,1066.68C1064.03,1066.82 1071.23,1066.87 1076.50,1066.91C1081.77,1066.95 1087.25,1066.91 1089.40,1066.91" fill="none" stroke="#2a2a78" stroke-width="1.6" stroke-linejoin="round"/>
<text transform="translate(1058.0,962.1) scale(1.1,1)" font-size="11.4" letter-spacing="0.1" fill="#5a3434" stroke="#5a3434" stroke-width="0.4">QFM+2</text>
<text transform="translate(1089.1,1014.8) scale(1.1,1)" font-size="11.4" letter-spacing="0.1" fill="#66563c" stroke="#66563c" stroke-width="0.4">QFM+1</text>
<text transform="translate(1089.9,1043.4) scale(1.1,1)" font-size="11.4" letter-spacing="0.1" fill="#8c8a56" stroke="#8c8a56" stroke-width="0.4">QFM</text>
<text transform="translate(1089.9,1057.4) scale(1.1,1)" font-size="11.4" letter-spacing="0.1" fill="#2e6488" stroke="#2e6488" stroke-width="0.4">QFM-1</text>
<text transform="translate(1091.7,1073.0) scale(1.1,1)" font-size="11.4" letter-spacing="0.1" fill="#2c2c4c" stroke="#2c2c4c" stroke-width="0.4">QFM-2</text>
<g fill="none" stroke="#48b8cc" stroke-width="1.25"><path d="M924.2,902.9H932.6M928.4,898.7V907.1"/><path d="M915.2,934.0H923.6M919.4,929.8V938.2"/><path d="M922.1,931.3H930.5M926.3,927.1V935.5"/><path d="M917.3,941.2H925.7M921.5,937.0V945.4"/><path d="M883.1,951.2H891.5M887.3,947.0V955.4"/><path d="M890.4,958.2H898.8M894.6,954.0V962.4"/><path d="M877.3,968.6H885.7M881.5,964.4V972.8"/><path d="M911.1,963.6H919.5M915.3,959.4V967.8"/><path d="M930.4,947.4H938.8M934.6,943.2V951.6"/><path d="M928.7,951.6H937.1M932.9,947.4V955.8"/><path d="M938.0,952.6H946.4M942.2,948.4V956.8"/><path d="M949.0,948.5H957.4M953.2,944.3V952.7"/><path d="M943.2,959.9H951.6M947.4,955.7V964.1"/><path d="M947.4,958.8H955.8M951.6,954.6V963.0"/><path d="M957.7,961.9H966.1M961.9,957.7V966.1"/><path d="M930.8,963.0H939.2M935.0,958.8V967.2"/><path d="M924.6,970.2H933.0M928.8,966.0V974.4"/><path d="M934.9,969.2H943.3M939.1,965.0V973.4"/><path d="M950.5,968.2H958.9M954.7,964.0V972.4"/><path d="M943.2,972.3H951.6M947.4,968.1V976.5"/><path d="M924.6,975.4H933.0M928.8,971.2V979.6"/><path d="M930.8,976.5H939.2M935.0,972.3V980.7"/><path d="M926.6,980.6H935.0M930.8,976.4V984.8"/><path d="M964.0,969.2H972.4M968.2,965.0V973.4"/><path d="M975.4,958.8H983.8M979.6,954.6V963.0"/><path d="M980.1,951.6H988.5M984.3,947.4V955.8"/><path d="M995.1,940.2H1003.5M999.3,936.0V944.4"/><path d="M1006.5,935.0H1014.9M1010.7,930.8V939.2"/><path d="M1011.6,938.1H1020.0M1015.8,933.9V942.3"/><path d="M1001.3,951.6H1009.7M1005.5,947.4V955.8"/><path d="M1008.5,953.6H1016.9M1012.7,949.4V957.8"/><path d="M987.8,958.8H996.2M992.0,954.6V963.0"/><path d="M879.0,992.0H887.4M883.2,987.8V996.2"/><path d="M874.8,996.1H883.2M879.0,991.9V1000.3"/><path d="M908.0,986.8H916.4M912.2,982.6V991.0"/><path d="M917.3,986.8H925.7M921.5,982.6V991.0"/><path d="M888.3,1003.4H896.7M892.5,999.2V1007.6"/><path d="M898.7,1003.4H907.1M902.9,999.2V1007.6"/><path d="M901.8,999.3H910.2M906.0,995.1V1003.5"/><path d="M882.1,1014.8H890.5M886.3,1010.6V1019.0"/><path d="M893.5,1012.7H901.9M897.7,1008.5V1016.9"/><path d="M901.8,1026.6H910.2M906.0,1022.4V1030.8"/><path d="M895.6,1032.4H904.0M899.8,1028.2V1036.6"/><path d="M909.0,1036.6H917.4M913.2,1032.4V1040.8"/><path d="M926.6,1037.6H935.0M930.8,1033.4V1041.8"/><path d="M966.0,1032.4H974.4M970.2,1028.2V1036.6"/><path d="M983.7,1031.4H992.1M987.9,1027.2V1035.6"/><path d="M988.8,1050.0H997.2M993.0,1045.8V1054.2"/><path d="M976.4,1057.3H984.8M980.6,1053.1V1061.5"/><path d="M898.7,1059.4H907.1M902.9,1055.2V1063.6"/><path d="M849.9,1071.8H858.3M854.1,1067.6V1076.0"/><path d="M849.9,1032.4H858.3M854.1,1028.2V1036.6"/><path d="M1102.1,860.4H1110.5M1106.3,856.2V864.6"/><path d="M1066.9,898.7H1075.3M1071.1,894.5V902.9"/><path d="M1115.6,900.7H1124.0M1119.8,896.5V904.9"/><path d="M1113.1,910.5H1121.5M1117.3,906.3V914.7"/><path d="M1131.1,922.5H1139.5M1135.3,918.3V926.7"/><path d="M1131.1,925.6H1139.5M1135.3,921.4V929.8"/><path d="M1173.6,922.1H1182.0M1177.8,917.9V926.3"/><path d="M1156.0,936.0H1164.4M1160.2,931.8V940.2"/><path d="M1176.1,934.5H1184.5M1180.3,930.3V938.7"/><path d="M1166.9,939.5H1175.3M1171.1,935.3V943.7"/><path d="M1174.0,944.2H1182.4M1178.2,940.0V948.4"/><path d="M1159.1,947.3H1167.5M1163.3,943.1V951.5"/><path d="M1127.0,945.7H1135.4M1131.2,941.5V949.9"/><path d="M1076.2,940.1H1084.6M1080.4,935.9V944.3"/><path d="M1065.9,950.5H1074.3M1070.1,946.3V954.7"/><path d="M1074.2,949.4H1082.6M1078.4,945.2V953.6"/><path d="M1107.3,949.4H1115.7M1111.5,945.2V953.6"/><path d="M1127.0,954.6H1135.4M1131.2,950.4V958.8"/><path d="M1009.9,938.0H1018.3M1014.1,933.8V942.2"/><path d="M1008.9,953.6H1017.3M1013.1,949.4V957.8"/><path d="M1103.1,957.7H1111.5M1107.3,953.5V961.9"/><path d="M1112.5,958.7H1120.9M1116.7,954.5V962.9"/><path d="M1139.4,958.7H1147.8M1143.6,954.5V962.9"/><path d="M1148.7,961.8H1157.1M1152.9,957.6V966.0"/><path d="M1152.9,956.7H1161.3M1157.1,952.5V960.9"/><path d="M1165.3,951.5H1173.7M1169.5,947.3V955.7"/><path d="M1175.6,960.8H1184.0M1179.8,956.6V965.0"/><path d="M1164.3,962.9H1172.7M1168.5,958.7V967.1"/><path d="M1022.4,1019.8H1030.8M1026.6,1015.6V1024.0"/><path d="M1038.9,1017.8H1047.3M1043.1,1013.6V1022.0"/><path d="M1044.1,1028.1H1052.5M1048.3,1023.9V1032.3"/><path d="M1052.4,1028.1H1060.8M1056.6,1023.9V1032.3"/><path d="M1037.9,1033.3H1046.3M1042.1,1029.1V1037.5"/><path d="M1056.5,1039.5H1064.9M1060.7,1035.3V1043.7"/><path d="M1061.7,1049.9H1070.1M1065.9,1045.7V1054.1"/><path d="M1035.8,1073.3H1044.2M1040.0,1069.1V1077.5"/><path d="M1084.5,1032.3H1092.9M1088.7,1028.1V1036.5"/><path d="M1089.7,1032.3H1098.1M1093.9,1028.1V1036.5"/><path d="M1086.6,1021.9H1095.0M1090.8,1017.7V1026.1"/><path d="M1113.5,1025.0H1121.9M1117.7,1020.8V1029.2"/><path d="M1125.9,1018.8H1134.3M1130.1,1014.6V1023.0"/><path d="M1129.0,1021.9H1137.4M1133.2,1017.7V1026.1"/><path d="M1150.8,1028.1H1159.2M1155.0,1023.9V1032.3"/><path d="M1146.6,1034.3H1155.0M1150.8,1030.1V1038.5"/><path d="M1156.0,1015.7H1164.4M1160.2,1011.5V1019.9"/><path d="M1165.3,1013.6H1173.7M1169.5,1009.4V1017.8"/><path d="M1171.5,1010.5H1179.9M1175.7,1006.3V1014.7"/><path d="M1167.4,1021.5H1175.8M1171.6,1017.3V1025.7"/><path d="M1057.6,1012.6H1066.0M1061.8,1008.4V1016.8"/><path d="M1077.3,1015.7H1085.7M1081.5,1011.5V1019.9"/><path d="M1101.1,1017.8H1109.5M1105.3,1013.6V1022.0"/><path d="M971.6,1000.6H980.0M975.8,996.4V1004.8"/><path d="M952.5,1016.2H960.9M956.7,1012.0V1020.4"/><path d="M929.4,1004.5H937.8M933.6,1000.3V1008.7"/><path d="M952.2,1019.2H960.6M956.4,1015.0V1023.4"/><path d="M916.9,989.3H925.3M921.1,985.1V993.5"/><path d="M935.3,1015.1H943.7M939.5,1010.9V1019.3"/><path d="M968.8,991.6H977.2M973.0,987.4V995.8"/><path d="M973.7,1004.9H982.1M977.9,1000.7V1009.1"/><path d="M976.7,1018.8H985.1M980.9,1014.6V1023.0"/><path d="M920.7,1020.1H929.1M924.9,1015.9V1024.3"/><path d="M945.4,992.3H953.8M949.6,988.1V996.5"/><path d="M944.6,989.5H953.0M948.8,985.3V993.7"/><path d="M962.7,1005.5H971.1M966.9,1001.3V1009.7"/><path d="M921.8,994.7H930.2M926.0,990.5V998.9"/><path d="M947.2,1013.5H955.6M951.4,1009.3V1017.7"/><path d="M932.4,990.6H940.8M936.6,986.4V994.8"/><path d="M937.5,989.3H945.9M941.7,985.1V993.5"/><path d="M936.3,1016.6H944.7M940.5,1012.4V1020.8"/><path d="M926.6,997.3H935.0M930.8,993.1V1001.5"/><path d="M964.3,993.9H972.7M968.5,989.7V998.1"/><path d="M922.2,995.4H930.6M926.4,991.2V999.6"/><path d="M953.9,1011.2H962.3M958.1,1007.0V1015.4"/><path d="M958.1,989.2H966.5M962.3,985.0V993.4"/><path d="M933.0,990.9H941.4M937.2,986.7V995.1"/><path d="M950.6,999.4H959.0M954.8,995.2V1003.6"/><path d="M962.9,1006.3H971.3M967.1,1002.1V1010.5"/><path d="M952.1,992.8H960.5M956.3,988.6V997.0"/><path d="M949.5,989.2H957.9M953.7,985.0V993.4"/><path d="M921.2,1016.2H929.6M925.4,1012.0V1020.4"/><path d="M926.0,987.0H934.4M930.2,982.8V991.2"/><path d="M960.6,993.3H969.0M964.8,989.1V997.5"/><path d="M934.1,1006.5H942.5M938.3,1002.3V1010.7"/><path d="M975.0,987.8H983.4M979.2,983.6V992.0"/><path d="M956.4,988.2H964.8M960.6,984.0V992.4"/><path d="M964.4,999.4H972.8M968.6,995.2V1003.6"/><path d="M920.3,1000.3H928.7M924.5,996.1V1004.5"/><path d="M956.4,991.6H964.8M960.6,987.4V995.8"/><path d="M939.2,1013.5H947.6M943.4,1009.3V1017.7"/><path d="M967.3,1011.7H975.7M971.5,1007.5V1015.9"/><path d="M944.9,1011.0H953.3M949.1,1006.8V1015.2"/><path d="M924.3,1000.0H932.7M928.5,995.8V1004.2"/><path d="M934.7,991.5H943.1M938.9,987.3V995.7"/><path d="M917.4,988.8H925.8M921.6,984.6V993.0"/><path d="M977.3,999.8H985.7M981.5,995.6V1004.0"/><path d="M935.2,1009.3H943.6M939.4,1005.1V1013.5"/><path d="M961.2,1017.5H969.6M965.4,1013.3V1021.7"/><path d="M973.2,988.9H981.6M977.4,984.7V993.1"/><path d="M930.6,1000.2H939.0M934.8,996.0V1004.4"/><path d="M934.4,1005.9H942.8M938.6,1001.7V1010.1"/><path d="M930.2,1017.6H938.6M934.4,1013.4V1021.8"/><path d="M935.8,1017.4H944.2M940.0,1013.2V1021.6"/><path d="M974.0,1009.5H982.4M978.2,1005.3V1013.7"/><path d="M932.2,988.9H940.6M936.4,984.7V993.1"/><path d="M978.5,1018.4H986.9M982.7,1014.2V1022.6"/><path d="M946.1,989.1H954.5M950.3,984.9V993.3"/><path d="M963.5,997.0H971.9M967.7,992.8V1001.2"/><path d="M942.8,1020.3H951.2M947.0,1016.1V1024.5"/><path d="M973.5,1015.8H981.9M977.7,1011.6V1020.0"/><path d="M919.6,1009.2H928.0M923.8,1005.0V1013.4"/><path d="M953.5,1011.4H961.9M957.7,1007.2V1015.6"/><path d="M915.8,1018.0H924.2M920.0,1013.8V1022.2"/><path d="M925.6,987.0H934.0M929.8,982.8V991.2"/><path d="M956.9,1012.1H965.3M961.1,1007.9V1016.3"/><path d="M960.7,990.0H969.1M964.9,985.8V994.2"/><path d="M929.5,1005.5H937.9M933.7,1001.3V1009.7"/><path d="M953.5,1012.1H961.9M957.7,1007.9V1016.3"/><path d="M915.7,1009.2H924.1M919.9,1005.0V1013.4"/><path d="M928.5,998.6H936.9M932.7,994.4V1002.8"/><path d="M924.7,1003.9H933.1M928.9,999.7V1008.1"/><path d="M931.1,1008.3H939.5M935.3,1004.1V1012.5"/><path d="M933.1,991.0H941.5M937.3,986.8V995.2"/><path d="M935.9,997.1H944.3M940.1,992.9V1001.3"/><path d="M933.7,1020.8H942.1M937.9,1016.6V1025.0"/><path d="M952.6,1016.4H961.0M956.8,1012.2V1020.6"/><path d="M955.9,1020.4H964.3M960.1,1016.2V1024.6"/><path d="M946.2,1003.2H954.6M950.4,999.0V1007.4"/><path d="M932.1,995.2H940.5M936.3,991.0V999.4"/><path d="M972.9,1003.4H981.3M977.1,999.2V1007.6"/><path d="M956.7,1018.7H965.1M960.9,1014.5V1022.9"/><path d="M948.7,993.1H957.1M952.9,988.9V997.3"/><path d="M960.1,1014.0H968.5M964.3,1009.8V1018.2"/><path d="M974.7,1001.7H983.1M978.9,997.5V1005.9"/><path d="M922.8,1010.2H931.2M927.0,1006.0V1014.4"/><path d="M965.3,988.5H973.7M969.5,984.3V992.7"/><path d="M966.7,1015.5H975.1M970.9,1011.3V1019.7"/><path d="M984.0,997.8H992.4M988.2,993.6V1002.0"/><path d="M986.8,993.3H995.2M991.0,989.1V997.5"/><path d="M988.6,995.9H997.0M992.8,991.7V1000.1"/><path d="M999.7,992.0H1008.1M1003.9,987.8V996.2"/><path d="M1025.4,1005.2H1033.8M1029.6,1001.0V1009.4"/><path d="M1013.5,976.7H1021.9M1017.7,972.5V980.9"/><path d="M1003.6,988.9H1012.0M1007.8,984.7V993.1"/><path d="M1004.4,979.3H1012.8M1008.6,975.1V983.5"/><path d="M1052.5,985.7H1060.9M1056.7,981.5V989.9"/><path d="M978.9,981.1H987.3M983.1,976.9V985.3"/><path d="M1036.8,1002.5H1045.2M1041.0,998.3V1006.7"/><path d="M1014.2,972.2H1022.6M1018.4,968.0V976.4"/><path d="M1004.0,1011.1H1012.4M1008.2,1006.9V1015.3"/><path d="M989.3,974.1H997.7M993.5,969.9V978.3"/><path d="M1012.7,971.0H1021.1M1016.9,966.8V975.2"/><path d="M1047.2,1007.3H1055.6M1051.4,1003.1V1011.5"/><path d="M990.6,1009.3H999.0M994.8,1005.1V1013.5"/><path d="M1052.2,1004.5H1060.6M1056.4,1000.3V1008.7"/><path d="M1036.8,975.4H1045.2M1041.0,971.2V979.6"/><path d="M996.6,991.4H1005.0M1000.8,987.2V995.6"/><path d="M992.9,1007.6H1001.3M997.1,1003.4V1011.8"/><path d="M1008.1,998.9H1016.5M1012.3,994.7V1003.1"/><path d="M1008.5,1013.7H1016.9M1012.7,1009.5V1017.9"/><path d="M1003.2,1008.7H1011.6M1007.4,1004.5V1012.9"/><path d="M1044.2,998.5H1052.6M1048.4,994.3V1002.7"/><path d="M984.3,1012.2H992.7M988.5,1008.0V1016.4"/><path d="M991.4,973.6H999.8M995.6,969.4V977.8"/><path d="M1043.0,978.2H1051.4M1047.2,974.0V982.4"/><path d="M981.2,1009.0H989.6M985.4,1004.8V1013.2"/><path d="M1048.1,985.7H1056.5M1052.3,981.5V989.9"/><path d="M1005.6,1002.8H1014.0M1009.8,998.6V1007.0"/><path d="M1033.2,982.8H1041.6M1037.4,978.6V987.0"/><path d="M983.2,975.8H991.6M987.4,971.6V980.0"/><path d="M999.2,970.9H1007.6M1003.4,966.7V975.1"/><path d="M1033.5,987.3H1041.9M1037.7,983.1V991.5"/><path d="M1019.0,981.4H1027.4M1023.2,977.2V985.6"/><path d="M1007.0,1001.6H1015.4M1011.2,997.4V1005.8"/><path d="M1044.7,1007.3H1053.1M1048.9,1003.1V1011.5"/><path d="M1017.2,1007.9H1025.6M1021.4,1003.7V1012.1"/><path d="M1001.2,998.1H1009.6M1005.4,993.9V1002.3"/><path d="M1000.2,1010.2H1008.6M1004.4,1006.0V1014.4"/><path d="M1008.1,971.7H1016.5M1012.3,967.5V975.9"/><path d="M1036.8,976.7H1045.2M1041.0,972.5V980.9"/><path d="M1042.8,1007.3H1051.2M1047.0,1003.1V1011.5"/><path d="M1044.5,972.5H1052.9M1048.7,968.3V976.7"/><path d="M1002.0,972.1H1010.4M1006.2,967.9V976.3"/><path d="M981.4,989.5H989.8M985.6,985.3V993.7"/><path d="M1023.4,971.7H1031.8M1027.6,967.5V975.9"/><path d="M1029.6,986.3H1038.0M1033.8,982.1V990.5"/><path d="M989.3,998.4H997.7M993.5,994.2V1002.6"/><path d="M1011.3,986.2H1019.7M1015.5,982.0V990.4"/><path d="M1050.3,995.9H1058.7M1054.5,991.7V1000.1"/><path d="M1006.6,994.5H1015.0M1010.8,990.3V998.7"/><path d="M1049.0,977.4H1057.4M1053.2,973.2V981.6"/><path d="M1030.3,1012.9H1038.7M1034.5,1008.7V1017.1"/><path d="M1029.1,974.8H1037.5M1033.3,970.6V979.0"/><path d="M1038.4,993.5H1046.8M1042.6,989.3V997.7"/><path d="M992.8,1001.7H1001.2M997.0,997.5V1005.9"/><path d="M1044.5,1002.9H1052.9M1048.7,998.7V1007.1"/><path d="M1050.4,976.9H1058.8M1054.6,972.7V981.1"/><path d="M1053.7,1008.8H1062.1M1057.9,1004.6V1013.0"/><path d="M1005.4,994.2H1013.8M1009.6,990.0V998.4"/><path d="M1041.5,1003.8H1049.9M1045.7,999.6V1008.0"/><path d="M1017.1,978.8H1025.5M1021.3,974.6V983.0"/><path d="M1016.3,1011.7H1024.7M1020.5,1007.5V1015.9"/><path d="M1044.3,981.1H1052.7M1048.5,976.9V985.3"/><path d="M982.7,989.2H991.1M986.9,985.0V993.4"/><path d="M1024.4,1012.0H1032.8M1028.6,1007.8V1016.2"/><path d="M1047.1,995.2H1055.5M1051.3,991.0V999.4"/><path d="M999.8,1005.6H1008.2M1004.0,1001.4V1009.8"/><path d="M1021.1,974.1H1029.5M1025.3,969.9V978.3"/><path d="M1012.7,997.4H1021.1M1016.9,993.2V1001.6"/><path d="M1010.4,995.7H1018.8M1014.6,991.5V999.9"/><path d="M1037.1,1011.0H1045.5M1041.3,1006.8V1015.2"/><path d="M1021.4,976.3H1029.8M1025.6,972.1V980.5"/><path d="M1051.9,1006.0H1060.3M1056.1,1001.8V1010.2"/><path d="M1014.4,992.8H1022.8M1018.6,988.6V997.0"/><path d="M1050.8,972.5H1059.2M1055.0,968.3V976.7"/><path d="M1027.0,992.4H1035.4M1031.2,988.2V996.6"/><path d="M1052.9,977.9H1061.3M1057.1,973.7V982.1"/><path d="M1048.0,978.2H1056.4M1052.2,974.0V982.4"/><path d="M1005.8,1008.4H1014.2M1010.0,1004.2V1012.6"/><path d="M1008.6,979.0H1017.0M1012.8,974.8V983.2"/><path d="M1000.8,990.2H1009.2M1005.0,986.0V994.4"/><path d="M987.0,1013.4H995.4M991.2,1009.2V1017.6"/><path d="M1015.9,985.1H1024.3M1020.1,980.9V989.3"/><path d="M1033.0,995.8H1041.4M1037.2,991.6V1000.0"/><path d="M999.7,1014.5H1008.1M1003.9,1010.3V1018.7"/><path d="M1028.9,985.0H1037.3M1033.1,980.8V989.2"/><path d="M1052.8,1002.1H1061.2M1057.0,997.9V1006.3"/><path d="M995.7,1008.3H1004.1M999.9,1004.1V1012.5"/><path d="M1017.1,980.9H1025.5M1021.3,976.7V985.1"/><path d="M988.9,1008.2H997.3M993.1,1004.0V1012.4"/><path d="M990.3,1002.0H998.7M994.5,997.8V1006.2"/><path d="M1015.3,979.1H1023.7M1019.5,974.9V983.3"/><path d="M1016.2,971.2H1024.6M1020.4,967.0V975.4"/><path d="M1013.9,971.4H1022.3M1018.1,967.2V975.6"/><path d="M1010.0,971.2H1018.4M1014.2,967.0V975.4"/><path d="M1040.9,1004.4H1049.3M1045.1,1000.2V1008.6"/><path d="M988.4,1013.1H996.8M992.6,1008.9V1017.3"/><path d="M1040.0,977.9H1048.4M1044.2,973.7V982.1"/><path d="M1014.1,996.5H1022.5M1018.3,992.3V1000.7"/><path d="M1045.5,977.2H1053.9M1049.7,973.0V981.4"/><path d="M1038.2,988.8H1046.6M1042.4,984.6V993.0"/><path d="M984.6,983.5H993.0M988.8,979.3V987.7"/><path d="M992.2,1010.2H1000.6M996.4,1006.0V1014.4"/><path d="M1043.9,974.9H1052.3M1048.1,970.7V979.1"/><path d="M1051.0,1004.0H1059.4M1055.2,999.8V1008.2"/><path d="M1037.2,1006.2H1045.6M1041.4,1002.0V1010.4"/><path d="M1040.7,1011.2H1049.1M1044.9,1007.0V1015.4"/><path d="M1017.8,1012.8H1026.2M1022.0,1008.6V1017.0"/><path d="M1051.0,1009.7H1059.4M1055.2,1005.5V1013.9"/><path d="M1001.0,1009.5H1009.4M1005.2,1005.3V1013.7"/><path d="M1019.4,988.5H1027.8M1023.6,984.3V992.7"/><path d="M1045.7,975.9H1054.1M1049.9,971.7V980.1"/><path d="M1013.6,980.2H1022.0M1017.8,976.0V984.4"/><path d="M1044.7,1014.6H1053.1M1048.9,1010.4V1018.8"/><path d="M1034.4,1001.7H1042.8M1038.6,997.5V1005.9"/><path d="M1024.9,988.5H1033.3M1029.1,984.3V992.7"/><path d="M1017.2,999.9H1025.6M1021.4,995.7V1004.1"/><path d="M1047.0,975.2H1055.4M1051.2,971.0V979.4"/><path d="M1016.8,975.7H1025.2M1021.0,971.5V979.9"/><path d="M996.4,1007.5H1004.8M1000.6,1003.3V1011.7"/><path d="M1031.1,975.0H1039.5M1035.3,970.8V979.2"/><path d="M1028.4,973.4H1036.8M1032.6,969.2V977.6"/><path d="M981.5,1008.6H989.9M985.7,1004.4V1012.8"/><path d="M1027.8,993.0H1036.2M1032.0,988.8V997.2"/><path d="M1051.8,997.4H1060.2M1056.0,993.2V1001.6"/><path d="M1026.5,988.9H1034.9M1030.7,984.7V993.1"/><path d="M1026.5,1012.5H1034.9M1030.7,1008.3V1016.7"/><path d="M1034.7,1005.4H1043.1M1038.9,1001.2V1009.6"/><path d="M1053.1,1013.3H1061.5M1057.3,1009.1V1017.5"/><path d="M996.1,1007.2H1004.5M1000.3,1003.0V1011.4"/><path d="M1053.3,999.1H1061.7M1057.5,994.9V1003.3"/><path d="M985.4,1010.8H993.8M989.6,1006.6V1015.0"/><path d="M996.9,1005.7H1005.3M1001.1,1001.5V1009.9"/><path d="M985.6,994.1H994.0M989.8,989.9V998.3"/><path d="M1046.2,997.6H1054.6M1050.4,993.4V1001.8"/><path d="M993.4,1002.2H1001.8M997.6,998.0V1006.4"/><path d="M1033.3,1009.1H1041.7M1037.5,1004.9V1013.3"/><path d="M1020.9,1013.9H1029.3M1025.1,1009.7V1018.1"/><path d="M1014.3,990.9H1022.7M1018.5,986.7V995.1"/><path d="M1013.7,995.3H1022.1M1017.9,991.1V999.5"/><path d="M1009.8,988.5H1018.2M1014.0,984.3V992.7"/><path d="M992.0,1001.0H1000.4M996.2,996.8V1005.2"/><path d="M1004.9,999.2H1013.3M1009.1,995.0V1003.4"/><path d="M1005.9,1002.2H1014.3M1010.1,998.0V1006.4"/><path d="M1010.3,985.8H1018.7M1014.5,981.6V990.0"/><path d="M988.6,1008.9H997.0M992.8,1004.7V1013.1"/><path d="M1001.7,998.9H1010.1M1005.9,994.7V1003.1"/><path d="M1009.3,987.3H1017.7M1013.5,983.1V991.5"/><path d="M989.9,974.9H998.3M994.1,970.7V979.1"/><path d="M1019.6,1010.4H1028.0M1023.8,1006.2V1014.6"/><path d="M1001.7,989.7H1010.1M1005.9,985.5V993.9"/><path d="M1026.6,1008.7H1035.0M1030.8,1004.5V1012.9"/><path d="M985.6,1003.8H994.0M989.8,999.6V1008.0"/><path d="M1016.6,992.6H1025.0M1020.8,988.4V996.8"/><path d="M1005.6,987.7H1014.0M1009.8,983.5V991.9"/><path d="M1008.5,994.1H1016.9M1012.7,989.9V998.3"/><path d="M1013.2,995.6H1021.6M1017.4,991.4V999.8"/><path d="M1032.7,1003.0H1041.1M1036.9,998.8V1007.2"/><path d="M1006.8,1001.6H1015.2M1011.0,997.4V1005.8"/><path d="M1017.5,990.2H1025.9M1021.7,986.0V994.4"/><path d="M1017.6,994.5H1026.0M1021.8,990.3V998.7"/><path d="M1034.2,997.7H1042.6M1038.4,993.5V1001.9"/><path d="M996.3,996.6H1004.7M1000.5,992.4V1000.8"/><path d="M999.3,1012.6H1007.7M1003.5,1008.4V1016.8"/><path d="M1008.7,994.0H1017.1M1012.9,989.8V998.2"/><path d="M997.1,982.5H1005.5M1001.3,978.3V986.7"/><path d="M1045.6,991.0H1054.0M1049.8,986.8V995.2"/><path d="M1035.1,988.5H1043.5M1039.3,984.3V992.7"/><path d="M1036.8,997.5H1045.2M1041.0,993.3V1001.7"/><path d="M1003.3,999.8H1011.7M1007.5,995.6V1004.0"/><path d="M1024.3,1000.3H1032.7M1028.5,996.1V1004.5"/><path d="M1008.5,1000.5H1016.9M1012.7,996.3V1004.7"/><path d="M1020.0,987.0H1028.4M1024.2,982.8V991.2"/><path d="M1009.3,991.3H1017.7M1013.5,987.1V995.5"/><path d="M998.0,984.8H1006.4M1002.2,980.6V989.0"/><path d="M1009.6,998.7H1018.0M1013.8,994.5V1002.9"/><path d="M1028.6,997.0H1037.0M1032.8,992.8V1001.2"/><path d="M1011.0,997.5H1019.4M1015.2,993.3V1001.7"/><path d="M1003.4,982.6H1011.8M1007.6,978.4V986.8"/><path d="M1004.9,992.3H1013.3M1009.1,988.1V996.5"/><path d="M1011.8,1002.9H1020.2M1016.0,998.7V1007.1"/><path d="M1025.7,1002.8H1034.1M1029.9,998.6V1007.0"/><path d="M981.2,992.1H989.6M985.4,987.9V996.3"/><path d="M1012.5,987.4H1020.9M1016.7,983.2V991.6"/><path d="M1018.6,989.9H1027.0M1022.8,985.7V994.1"/><path d="M1003.1,992.0H1011.5M1007.3,987.8V996.2"/><path d="M1010.4,976.3H1018.8M1014.6,972.1V980.5"/><path d="M1010.9,989.2H1019.3M1015.1,985.0V993.4"/><path d="M1024.7,1009.8H1033.1M1028.9,1005.6V1014.0"/><path d="M1017.6,1001.0H1026.0M1021.8,996.8V1005.2"/><path d="M1006.8,997.7H1015.2M1011.0,993.5V1001.9"/><path d="M1010.8,994.6H1019.2M1015.0,990.4V998.8"/><path d="M1016.3,1008.8H1024.7M1020.5,1004.6V1013.0"/><path d="M993.2,982.9H1001.6M997.4,978.7V987.1"/><path d="M1011.9,997.8H1020.3M1016.1,993.6V1002.0"/><path d="M1002.8,993.8H1011.2M1007.0,989.6V998.0"/><path d="M1024.5,999.7H1032.9M1028.7,995.5V1003.9"/><path d="M1065.8,982.7H1074.2M1070.0,978.5V986.9"/><path d="M1066.0,982.4H1074.4M1070.2,978.2V986.6"/><path d="M1102.1,1006.7H1110.5M1106.3,1002.5V1010.9"/><path d="M1123.5,997.2H1131.9M1127.7,993.0V1001.4"/><path d="M1083.9,1009.5H1092.3M1088.1,1005.3V1013.7"/><path d="M1155.4,978.0H1163.8M1159.6,973.8V982.2"/><path d="M1055.5,975.9H1063.9M1059.7,971.7V980.1"/><path d="M1102.7,998.6H1111.1M1106.9,994.4V1002.8"/><path d="M1085.0,971.7H1093.4M1089.2,967.5V975.9"/><path d="M1072.6,987.6H1081.0M1076.8,983.4V991.8"/><path d="M1159.2,995.9H1167.6M1163.4,991.7V1000.1"/><path d="M1135.0,1008.1H1143.4M1139.2,1003.9V1012.3"/><path d="M1121.6,981.5H1130.0M1125.8,977.3V985.7"/><path d="M1124.5,972.6H1132.9M1128.7,968.4V976.8"/><path d="M1057.6,1002.8H1066.0M1061.8,998.6V1007.0"/><path d="M1169.4,1004.6H1177.8M1173.6,1000.4V1008.8"/><path d="M1112.9,983.4H1121.3M1117.1,979.2V987.6"/><path d="M1087.9,1000.2H1096.3M1092.1,996.0V1004.4"/><path d="M1073.1,971.3H1081.5M1077.3,967.1V975.5"/><path d="M1065.3,993.8H1073.7M1069.5,989.6V998.0"/><path d="M1146.5,985.1H1154.9M1150.7,980.9V989.3"/><path d="M1086.9,1002.1H1095.3M1091.1,997.9V1006.3"/><path d="M1154.3,982.7H1162.7M1158.5,978.5V986.9"/><path d="M1123.3,997.6H1131.7M1127.5,993.4V1001.8"/><path d="M1100.7,970.8H1109.1M1104.9,966.6V975.0"/><path d="M1075.4,973.7H1083.8M1079.6,969.5V977.9"/><path d="M1079.2,1001.4H1087.6M1083.4,997.2V1005.6"/><path d="M1181.9,999.8H1190.3M1186.1,995.6V1004.0"/><path d="M1152.4,988.0H1160.8M1156.6,983.8V992.2"/><path d="M1090.5,1004.5H1098.9M1094.7,1000.3V1008.7"/><path d="M1151.2,1009.4H1159.6M1155.4,1005.2V1013.6"/><path d="M1138.5,980.5H1146.9M1142.7,976.3V984.7"/><path d="M1057.0,996.5H1065.4M1061.2,992.3V1000.7"/><path d="M1133.5,990.3H1141.9M1137.7,986.1V994.5"/><path d="M1154.7,985.4H1163.1M1158.9,981.2V989.6"/><path d="M1114.7,998.9H1123.1M1118.9,994.7V1003.1"/><path d="M1137.7,988.8H1146.1M1141.9,984.6V993.0"/><path d="M1073.8,980.6H1082.2M1078.0,976.4V984.8"/><path d="M1109.6,972.3H1118.0M1113.8,968.1V976.5"/><path d="M1113.9,995.4H1122.3M1118.1,991.2V999.6"/><path d="M1113.2,989.5H1121.6M1117.4,985.3V993.7"/><path d="M1164.5,990.4H1172.9M1168.7,986.2V994.6"/><path d="M1131.7,1001.9H1140.1M1135.9,997.7V1006.1"/><path d="M1149.9,997.8H1158.3M1154.1,993.6V1002.0"/><path d="M1137.0,981.9H1145.4M1141.2,977.7V986.1"/><path d="M1159.2,980.2H1167.6M1163.4,976.0V984.4"/><path d="M1104.3,1007.5H1112.7M1108.5,1003.3V1011.7"/><path d="M1126.5,1004.4H1134.9M1130.7,1000.2V1008.6"/><path d="M1112.8,979.1H1121.2M1117.0,974.9V983.3"/><path d="M1151.2,987.1H1159.6M1155.4,982.9V991.3"/><path d="M1145.4,973.8H1153.8M1149.6,969.6V978.0"/><path d="M1153.2,1002.2H1161.6M1157.4,998.0V1006.4"/><path d="M1073.7,985.6H1082.1M1077.9,981.4V989.8"/><path d="M1137.8,986.4H1146.2M1142.0,982.2V990.6"/><path d="M1075.3,973.0H1083.7M1079.5,968.8V977.2"/><path d="M1084.0,974.7H1092.4M1088.2,970.5V978.9"/><path d="M1099.1,1009.1H1107.5M1103.3,1004.9V1013.3"/><path d="M1165.3,987.5H1173.7M1169.5,983.3V991.7"/><path d="M1158.3,994.0H1166.7M1162.5,989.8V998.2"/><path d="M1142.4,979.9H1150.8M1146.6,975.7V984.1"/><path d="M1079.5,1004.6H1087.9M1083.7,1000.4V1008.8"/><path d="M1131.8,977.5H1140.2M1136.0,973.3V981.7"/><path d="M1142.9,974.4H1151.3M1147.1,970.2V978.6"/><path d="M1160.4,976.3H1168.8M1164.6,972.1V980.5"/><path d="M1070.3,983.8H1078.7M1074.5,979.6V988.0"/><path d="M1102.5,1001.1H1110.9M1106.7,996.9V1005.3"/><path d="M1082.3,992.7H1090.7M1086.5,988.5V996.9"/><path d="M1174.9,974.7H1183.3M1179.1,970.5V978.9"/><path d="M1129.3,979.6H1137.7M1133.5,975.4V983.8"/><path d="M1087.0,1001.0H1095.4M1091.2,996.8V1005.2"/><path d="M1161.0,970.2H1169.4M1165.2,966.0V974.4"/><path d="M1054.5,983.6H1062.9M1058.7,979.4V987.8"/><path d="M1149.3,994.8H1157.7M1153.5,990.6V999.0"/><path d="M1125.7,1006.5H1134.1M1129.9,1002.3V1010.7"/><path d="M1174.4,997.9H1182.8M1178.6,993.7V1002.1"/><path d="M1055.0,989.3H1063.4M1059.2,985.1V993.5"/><path d="M1176.8,995.5H1185.2M1181.0,991.3V999.7"/><path d="M1155.1,976.9H1163.5M1159.3,972.7V981.1"/><path d="M1167.7,990.3H1176.1M1171.9,986.1V994.5"/><path d="M1095.4,1008.2H1103.8M1099.6,1004.0V1012.4"/><path d="M1160.7,974.2H1169.1M1164.9,970.0V978.4"/><path d="M1104.1,994.6H1112.5M1108.3,990.4V998.8"/><path d="M1101.4,1008.0H1109.8M1105.6,1003.8V1012.2"/><path d="M1077.6,1006.9H1086.0M1081.8,1002.7V1011.1"/><path d="M1081.1,1009.5H1089.5M1085.3,1005.3V1013.7"/><path d="M1068.2,994.0H1076.6M1072.4,989.8V998.2"/><path d="M1106.9,989.9H1115.3M1111.1,985.7V994.1"/><path d="M1173.5,975.4H1181.9M1177.7,971.2V979.6"/><path d="M1061.4,971.6H1069.8M1065.6,967.4V975.8"/><path d="M1118.4,995.6H1126.8M1122.6,991.4V999.8"/><path d="M1134.9,981.6H1143.3M1139.1,977.4V985.8"/><path d="M1078.2,1009.7H1086.6M1082.4,1005.5V1013.9"/><path d="M1167.5,994.5H1175.9M1171.7,990.3V998.7"/><path d="M1085.8,975.7H1094.2M1090.0,971.5V979.9"/><path d="M1120.0,981.3H1128.4M1124.2,977.1V985.5"/><path d="M1083.1,1008.9H1091.5M1087.3,1004.7V1013.1"/><path d="M1150.7,990.0H1159.1M1154.9,985.8V994.2"/><path d="M1060.4,986.1H1068.8M1064.6,981.9V990.3"/><path d="M1103.6,998.1H1112.0M1107.8,993.9V1002.3"/><path d="M1116.0,970.3H1124.4M1120.2,966.1V974.5"/><path d="M1084.5,990.3H1092.9M1088.7,986.1V994.5"/><path d="M1060.8,984.1H1069.2M1065.0,979.9V988.3"/><path d="M1113.4,986.0H1121.8M1117.6,981.8V990.2"/><path d="M1087.2,989.8H1095.6M1091.4,985.6V994.0"/><path d="M1118.6,980.2H1127.0M1122.8,976.0V984.4"/><path d="M1078.3,980.0H1086.7M1082.5,975.8V984.2"/><path d="M1180.7,999.7H1189.1M1184.9,995.5V1003.9"/><path d="M1154.7,975.0H1163.1M1158.9,970.8V979.2"/><path d="M1160.7,975.8H1169.1M1164.9,971.6V980.0"/><path d="M1068.9,979.3H1077.3M1073.1,975.1V983.5"/><path d="M1151.5,1008.8H1159.9M1155.7,1004.6V1013.0"/><path d="M1115.5,997.9H1123.9M1119.7,993.7V1002.1"/><path d="M1082.5,1005.0H1090.9M1086.7,1000.8V1009.2"/><path d="M1155.3,1003.1H1163.7M1159.5,998.9V1007.3"/><path d="M1098.4,973.2H1106.8M1102.6,969.0V977.4"/><path d="M1080.1,983.4H1088.5M1084.3,979.2V987.6"/><path d="M1081.1,980.2H1089.5M1085.3,976.0V984.4"/><path d="M1141.4,991.8H1149.8M1145.6,987.6V996.0"/><path d="M1135.2,997.8H1143.6M1139.4,993.6V1002.0"/><path d="M1092.8,991.2H1101.2M1097.0,987.0V995.4"/><path d="M1118.0,996.9H1126.4M1122.2,992.7V1001.1"/><path d="M1103.2,997.6H1111.6M1107.4,993.4V1001.8"/><path d="M1091.1,995.5H1099.5M1095.3,991.3V999.7"/><path d="M1115.8,975.0H1124.2M1120.0,970.8V979.2"/><path d="M1055.6,982.7H1064.0M1059.8,978.5V986.9"/><path d="M1092.1,1004.1H1100.5M1096.3,999.9V1008.3"/><path d="M1088.8,1009.1H1097.2M1093.0,1004.9V1013.3"/><path d="M1173.4,988.4H1181.8M1177.6,984.2V992.6"/><path d="M1144.5,1001.3H1152.9M1148.7,997.1V1005.5"/><path d="M1180.6,979.0H1189.0M1184.8,974.8V983.2"/><path d="M1140.5,975.3H1148.9M1144.7,971.1V979.5"/><path d="M1169.7,985.2H1178.1M1173.9,981.0V989.4"/><path d="M1055.9,986.5H1064.3M1060.1,982.3V990.7"/><path d="M1136.7,1005.2H1145.1M1140.9,1001.0V1009.4"/><path d="M1160.8,982.0H1169.2M1165.0,977.8V986.2"/><path d="M1109.7,988.5H1118.1M1113.9,984.3V992.7"/><path d="M1178.3,1007.2H1186.7M1182.5,1003.0V1011.4"/><path d="M1174.5,992.7H1182.9M1178.7,988.5V996.9"/><path d="M1181.1,970.4H1189.5M1185.3,966.2V974.6"/><path d="M1096.2,994.4H1104.6M1100.4,990.2V998.6"/><path d="M1181.6,972.9H1190.0M1185.8,968.7V977.1"/><path d="M1180.0,998.0H1188.4M1184.2,993.8V1002.2"/><path d="M1119.5,979.1H1127.9M1123.7,974.9V983.3"/><path d="M1144.4,982.8H1152.8M1148.6,978.6V987.0"/><path d="M1124.5,998.8H1132.9M1128.7,994.6V1003.0"/><path d="M1091.2,997.5H1099.6M1095.4,993.3V1001.7"/><path d="M1112.3,997.9H1120.7M1116.5,993.7V1002.1"/><path d="M1143.3,977.9H1151.7M1147.5,973.7V982.1"/><path d="M1151.9,975.4H1160.3M1156.1,971.2V979.6"/><path d="M1144.1,971.6H1152.5M1148.3,967.4V975.8"/><path d="M1125.8,1002.0H1134.2M1130.0,997.8V1006.2"/><path d="M1081.1,986.8H1089.5M1085.3,982.6V991.0"/><path d="M1123.0,996.3H1131.4M1127.2,992.1V1000.5"/><path d="M1090.5,995.7H1098.9M1094.7,991.5V999.9"/><path d="M1129.2,987.3H1137.6M1133.4,983.1V991.5"/><path d="M1119.3,984.7H1127.7M1123.5,980.5V988.9"/><path d="M1136.5,991.1H1144.9M1140.7,986.9V995.3"/><path d="M1157.3,996.7H1165.7M1161.5,992.5V1000.9"/><path d="M1151.2,983.9H1159.6M1155.4,979.7V988.1"/><path d="M1120.1,988.3H1128.5M1124.3,984.1V992.5"/><path d="M1122.4,991.3H1130.8M1126.6,987.1V995.5"/><path d="M1119.5,993.5H1127.9M1123.7,989.3V997.7"/><path d="M1117.6,987.9H1126.0M1121.8,983.7V992.1"/><path d="M1082.9,997.6H1091.3M1087.1,993.4V1001.8"/><path d="M1075.6,1004.9H1084.0M1079.8,1000.7V1009.1"/><path d="M1136.6,995.9H1145.0M1140.8,991.7V1000.1"/><path d="M1100.0,990.2H1108.4M1104.2,986.0V994.4"/><path d="M1092.1,996.7H1100.5M1096.3,992.5V1000.9"/><path d="M1117.2,994.9H1125.6M1121.4,990.7V999.1"/><path d="M1142.2,978.0H1150.6M1146.4,973.8V982.2"/><path d="M1121.9,985.9H1130.3M1126.1,981.7V990.1"/><path d="M1111.6,994.0H1120.0M1115.8,989.8V998.2"/><path d="M1089.4,987.8H1097.8M1093.6,983.6V992.0"/><path d="M1107.0,1000.2H1115.4M1111.2,996.0V1004.4"/><path d="M1109.0,982.8H1117.4M1113.2,978.6V987.0"/><path d="M1095.4,980.6H1103.8M1099.6,976.4V984.8"/><path d="M1094.5,991.0H1102.9M1098.7,986.8V995.2"/><path d="M1123.7,991.6H1132.1M1127.9,987.4V995.8"/><path d="M1085.5,985.9H1093.9M1089.7,981.7V990.1"/><path d="M1097.6,987.5H1106.0M1101.8,983.3V991.7"/><path d="M1033.3,1004.3H1041.7M1037.5,1000.1V1008.5"/><path d="M1042.3,979.5H1050.7M1046.5,975.3V983.7"/><path d="M973.8,985.8H982.2M978.0,981.6V990.0"/><path d="M1049.3,980.6H1057.7M1053.5,976.4V984.8"/><path d="M1005.5,1001.0H1013.9M1009.7,996.8V1005.2"/><path d="M1027.5,999.6H1035.9M1031.7,995.4V1003.8"/><path d="M1018.4,976.6H1026.8M1022.6,972.4V980.8"/><path d="M1002.4,979.9H1010.8M1006.6,975.7V984.1"/><path d="M1012.2,1002.4H1020.6M1016.4,998.2V1006.6"/><path d="M1000.1,997.6H1008.5M1004.3,993.4V1001.8"/><path d="M979.5,988.0H987.9M983.7,983.8V992.2"/><path d="M982.5,995.4H990.9M986.7,991.2V999.6"/><path d="M1032.2,979.6H1040.6M1036.4,975.4V983.8"/><path d="M983.8,1001.9H992.2M988.0,997.7V1006.1"/><path d="M973.7,988.3H982.1M977.9,984.1V992.5"/><path d="M980.5,984.9H988.9M984.7,980.7V989.1"/><path d="M983.5,1004.7H991.9M987.7,1000.5V1008.9"/><path d="M1039.4,991.6H1047.8M1043.6,987.4V995.8"/><path d="M988.4,980.4H996.8M992.6,976.2V984.6"/><path d="M987.0,979.8H995.4M991.2,975.6V984.0"/><path d="M991.8,991.4H1000.2M996.0,987.2V995.6"/><path d="M977.5,981.3H985.9M981.7,977.1V985.5"/><path d="M992.5,987.1H1000.9M996.7,982.9V991.3"/><path d="M1021.8,1008.4H1030.2M1026.0,1004.2V1012.6"/><path d="M1051.8,995.1H1060.2M1056.0,990.9V999.3"/><path d="M968.8,1003.0H977.2M973.0,998.8V1007.2"/><path d="M961.2,990.3H969.6M965.4,986.1V994.5"/><path d="M993.0,977.7H1001.4M997.2,973.5V981.9"/><path d="M1000.5,993.5H1008.9M1004.7,989.3V997.7"/><path d="M1023.1,976.9H1031.5M1027.3,972.7V981.1"/><path d="M982.4,983.2H990.8M986.6,979.0V987.4"/><path d="M1028.7,1005.0H1037.1M1032.9,1000.8V1009.2"/><path d="M1016.2,984.0H1024.6M1020.4,979.8V988.2"/><path d="M1030.1,995.7H1038.5M1034.3,991.5V999.9"/><path d="M973.6,1004.1H982.0M977.8,999.9V1008.3"/><path d="M1010.4,996.8H1018.8M1014.6,992.6V1001.0"/><path d="M1039.1,982.7H1047.5M1043.3,978.5V986.9"/><path d="M991.1,1001.0H999.5M995.3,996.8V1005.2"/><path d="M990.0,1008.7H998.4M994.2,1004.5V1012.9"/><path d="M999.7,1006.8H1008.1M1003.9,1002.6V1011.0"/><path d="M1007.7,984.5H1016.1M1011.9,980.3V988.7"/><path d="M962.8,982.0H971.2M967.0,977.8V986.2"/><path d="M1044.1,986.9H1052.5M1048.3,982.7V991.1"/><path d="M1051.2,1006.1H1059.6M1055.4,1001.9V1010.3"/><path d="M978.9,1000.7H987.3M983.1,996.5V1004.9"/></g>
<rect x="852.1" y="856.4" width="336.6" height="226.6" fill="none" stroke="#2c2c2c" stroke-width="1.4"/>
<path d="M852.1,1060.3h6.5 M852.1,1037.7h6.5 M852.1,1015.0h6.5 M852.1,992.4h6.5 M852.1,969.7h6.5 M852.1,947.0h6.5 M852.1,924.4h6.5 M852.1,901.7h6.5 M852.1,879.1h6.5 M889.5,1083.0v-6.5 M926.9,1083.0v-6.5 M964.3,1083.0v-6.5 M1001.7,1083.0v-6.5 M1039.1,1083.0v-6.5 M1076.5,1083.0v-6.5 M1113.9,1083.0v-6.5 M1151.3,1083.0v-6.5" stroke="#2c2c2c" stroke-width="1.3"/>
<text transform="translate(845.3,1088.6) scale(1.1,1)" font-size="11.4" fill="#222" stroke="#222" stroke-width="0.15" text-anchor="end">0</text>
<text transform="translate(845.3,1065.9) scale(1.1,1)" font-size="11.4" fill="#222" stroke="#222" stroke-width="0.15" text-anchor="end">2</text>
<text transform="translate(845.3,1043.3) scale(1.1,1)" font-size="11.4" fill="#222" stroke="#222" stroke-width="0.15" text-anchor="end">4</text>
<text transform="translate(845.3,1020.6) scale(1.1,1)" font-size="11.4" fill="#222" stroke="#222" stroke-width="0.15" text-anchor="end">6</text>
<text transform="translate(845.3,998.0) scale(1.1,1)" font-size="11.4" fill="#222" stroke="#222" stroke-width="0.15" text-anchor="end">8</text>
<text transform="translate(845.3,975.3) scale(1.1,1)" font-size="11.4" fill="#222" stroke="#222" stroke-width="0.15" text-anchor="end">10</text>
<text transform="translate(845.3,952.6) scale(1.1,1)" font-size="11.4" fill="#222" stroke="#222" stroke-width="0.15" text-anchor="end">12</text>
<text transform="translate(845.3,930.0) scale(1.1,1)" font-size="11.4" fill="#222" stroke="#222" stroke-width="0.15" text-anchor="end">14</text>
<text transform="translate(845.3,907.3) scale(1.1,1)" font-size="11.4" fill="#222" stroke="#222" stroke-width="0.15" text-anchor="end">16</text>
<text transform="translate(845.3,884.7) scale(1.1,1)" font-size="11.4" fill="#222" stroke="#222" stroke-width="0.15" text-anchor="end">18</text>
<text transform="translate(845.3,862.0) scale(1.1,1)" font-size="11.4" fill="#222" stroke="#222" stroke-width="0.15" text-anchor="end">20</text>
<text transform="translate(857.1,1100.4) scale(1.1,1)" font-size="11.4" fill="#222" stroke="#222" stroke-width="0.15" text-anchor="middle">2000</text>
<text transform="translate(894.5,1100.4) scale(1.1,1)" font-size="11.4" fill="#222" stroke="#222" stroke-width="0.15" text-anchor="middle">3000</text>
<text transform="translate(931.9,1100.4) scale(1.1,1)" font-size="11.4" fill="#222" stroke="#222" stroke-width="0.15" text-anchor="middle">4000</text>
<text transform="translate(969.3,1100.4) scale(1.1,1)" font-size="11.4" fill="#222" stroke="#222" stroke-width="0.15" text-anchor="middle">5000</text>
<text transform="translate(1006.7,1100.4) scale(1.1,1)" font-size="11.4" fill="#222" stroke="#222" stroke-width="0.15" text-anchor="middle">6000</text>
<text transform="translate(1044.1,1100.4) scale(1.1,1)" font-size="11.4" fill="#222" stroke="#222" stroke-width="0.15" text-anchor="middle">7000</text>
<text transform="translate(1081.5,1100.4) scale(1.1,1)" font-size="11.4" fill="#222" stroke="#222" stroke-width="0.15" text-anchor="middle">8000</text>
<text transform="translate(1118.9,1100.4) scale(1.1,1)" font-size="11.4" fill="#222" stroke="#222" stroke-width="0.15" text-anchor="middle">9000</text>
<text transform="translate(1156.3,1100.4) scale(1.1,1)" font-size="11.4" fill="#222" stroke="#222" stroke-width="0.15" text-anchor="middle">10000</text>
<text transform="translate(1193.7,1100.4) scale(1.1,1)" font-size="11.4" fill="#222" stroke="#222" stroke-width="0.15" text-anchor="middle">11000</text>
<text x="858.6" y="874.6" font-size="20" font-weight="bold" fill="#111">l</text>
<text transform="translate(1127.9,872.9) scale(1.1,1)" font-size="14" font-weight="bold" textLength="52.73" lengthAdjust="spacing" fill="#cc1424">Andean</text>
<text transform="translate(826.5,955.7) rotate(-90) scale(1.12,1)" font-size="14.2" font-weight="bold" fill="#111" text-anchor="middle">V/Sc</text>
<text transform="translate(1019.4,1120.5) scale(1.13,1)" font-size="14.2" font-weight="bold" fill="#111" text-anchor="middle">Ti(ppm)</text>
<g stroke="#1f8fca" stroke-width="3" fill="none"><path d="M1223,12.1H1251M1237.4,12.1V307.5M1237.4,520V800.4M1223,800.4H1251"/></g>
<text transform="translate(1230.3,314.5) rotate(90)" font-size="24" font-weight="bold" fill="#1f8fca" textLength="205" lengthAdjust="spacing">Cold subduction</text>
<g stroke="#cc1424" stroke-width="3" fill="none"><path d="M1219.5,856H1247.5M1233.8,856V892.5M1233.8,1038V1087.2M1220.3,1087.2H1247.8"/></g>
<text transform="translate(1239.3,924.5) rotate(90)" font-size="24" font-weight="bold" fill="#cc1424" textLength="67.5" lengthAdjust="spacing">Warm</text>
<text transform="translate(1213.5,898.5) rotate(90) scale(1.04,1)" font-size="24" font-weight="bold" fill="#cc1424" textLength="131.25" lengthAdjust="spacing">subduction</text>
</svg></body></html>
